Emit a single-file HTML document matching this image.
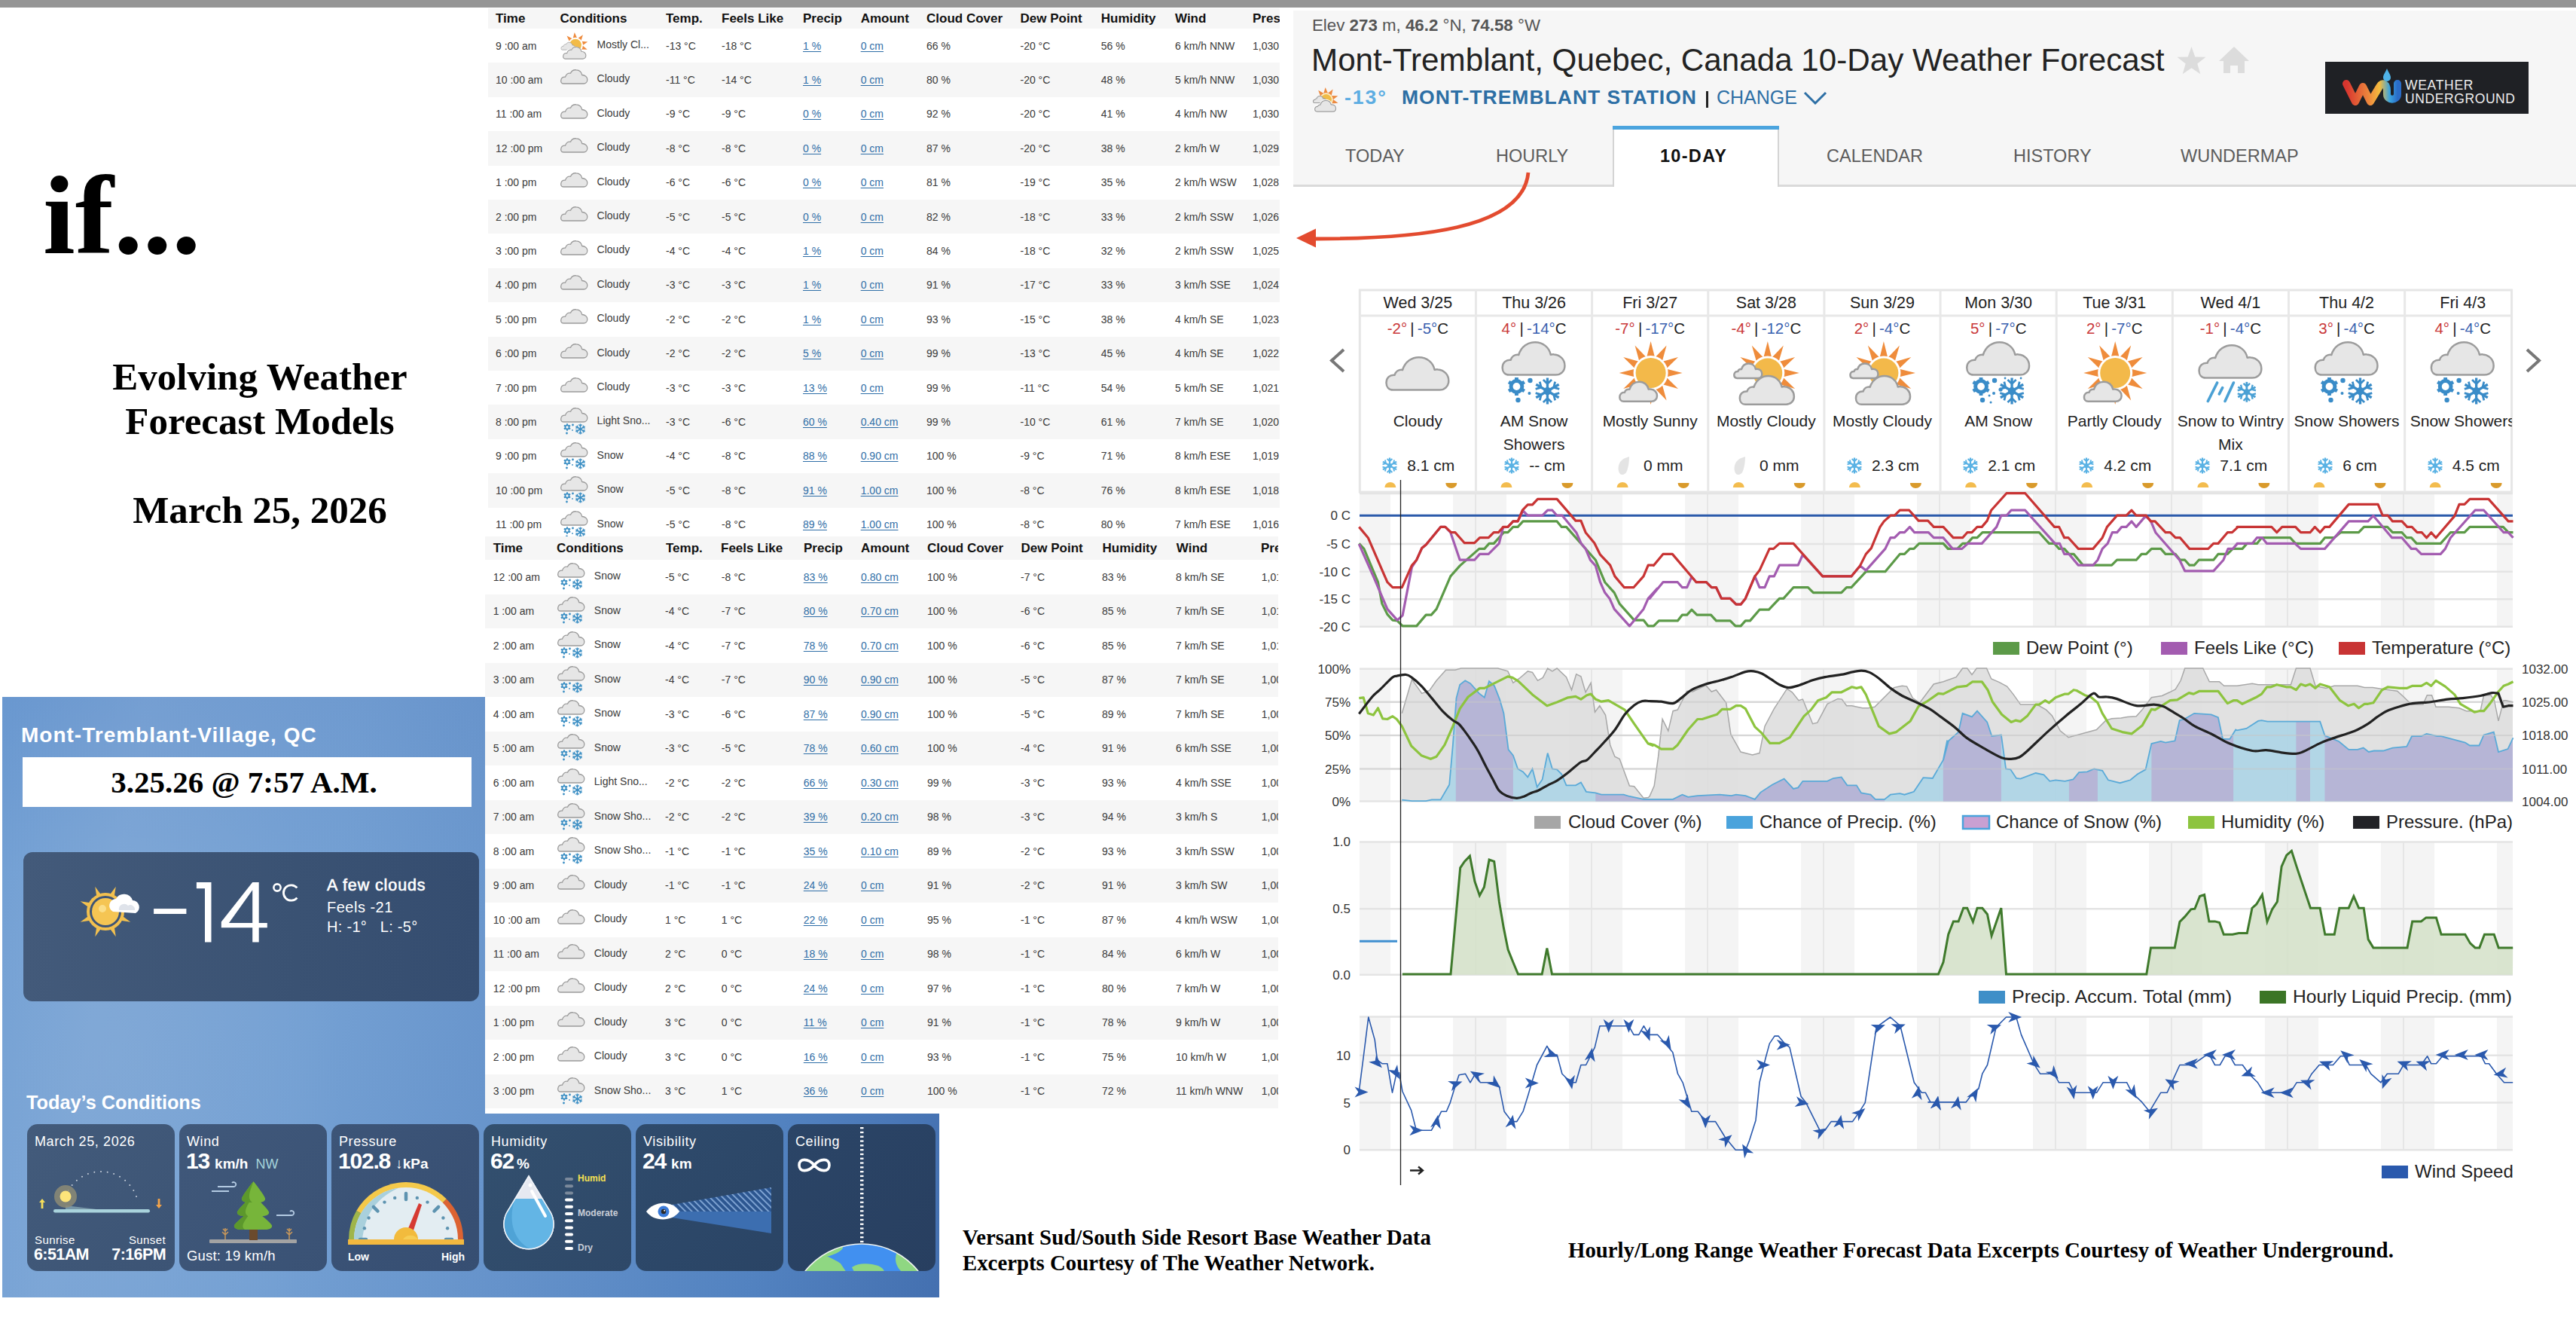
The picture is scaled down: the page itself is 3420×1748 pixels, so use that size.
<!DOCTYPE html><html><head><meta charset="utf-8"><style>

*{margin:0;padding:0;box-sizing:border-box}
html,body{width:3420px;height:1748px;overflow:hidden;background:#fff}
body{position:relative;font-family:"Liberation Sans",sans-serif;color:#222}
.a{position:absolute}
.serif{font-family:"Liberation Serif",serif;font-weight:bold;color:#000}
.nw{white-space:nowrap}

</style></head><body>
<div class="a" style="left:0;top:0;width:3420px;height:10px;background:#959595"></div>
<div class="a serif nw" style="left:57px;top:186px;font-size:148px;line-height:200px;transform:scaleX(1.04);transform-origin:0 0;">if...</div>
<div class="a serif nw" style="left:45px;width:600px;top:471px;font-size:51px;line-height:59px;text-align:center;">Evolving Weather<br>Forecast Models</div>
<div class="a serif nw" style="left:45px;width:600px;top:648px;font-size:51px;line-height:59px;text-align:center;">March 25, 2026</div>
<div class="a serif nw" style="left:1278px;top:1625px;font-size:28.8px;line-height:34px;">Versant Sud/South Side Resort Base Weather Data<br>Excerpts Courtesy of The Weather Network.</div>
<div class="a serif nw" style="left:2082px;top:1642px;font-size:28.8px;line-height:34px;">Hourly/Long Range Weather Forecast Data Excerpts Courtesy of Weather Underground.</div>
<div class="a" style="left:3px;top:925px;width:1244px;height:797px;overflow:hidden;background:linear-gradient(100deg,#6e9dd3 0%,#7ba5d6 14%,#74a0d3 35%,#6592ca 58%,#5282c0 82%,#4470b0 100%)">
<div class="a" style="left:0;top:0;width:1244px;height:797px;background:radial-gradient(ellipse 300px 500px at 150px 480px,rgba(140,175,215,0.35),rgba(140,175,215,0) 100%)"></div>
<div class="a" style="left:0;top:0;width:1244px;height:797px;background:linear-gradient(180deg,rgba(70,110,180,0.12) 0%,rgba(70,110,180,0) 30%)"></div>
</div>
<div class="a nw" style="left:28px;top:958px;color:#fff;font-size:28px;font-weight:bold;line-height:36px;letter-spacing:1px">Mont-Tremblant-Village, QC</div>
<div class="a" style="left:30px;top:1005px;width:596px;height:66px;background:#fff"></div>
<div class="a serif nw" style="left:26px;width:596px;top:1010px;font-size:41px;line-height:56px;text-align:center">3.25.26 @ 7:57 A.M.</div>
<div class="a" style="left:31px;top:1131px;width:605px;height:198px;border-radius:12px;background:linear-gradient(90deg,#435a7a,#3a5273 60%,#354d70)"></div>
<svg class="a" style="left:100px;top:1170px" width="95" height="85" viewBox="0 0 95 85"><path d="M61.4,45.1 L73.3,53.8 L58.8,51.5Z" fill="#f2c04f"/><path d="M51.5,58.8 L53.8,73.3 L45.1,61.4Z" fill="#f2c04f"/><path d="M34.9,61.4 L26.2,73.3 L28.5,58.8Z" fill="#f2c04f"/><path d="M21.2,51.5 L6.7,53.8 L18.6,45.1Z" fill="#f2c04f"/><path d="M18.6,34.9 L6.7,26.2 L21.2,28.5Z" fill="#f2c04f"/><path d="M28.5,21.2 L26.2,6.7 L34.9,18.6Z" fill="#f2c04f"/><path d="M45.1,18.6 L53.8,6.7 L51.5,21.2Z" fill="#f2c04f"/><path d="M58.8,28.5 L73.3,26.2 L61.4,34.9Z" fill="#f2c04f"/><circle cx="40" cy="40" r="25" fill="#f2c04f"/><circle cx="40" cy="40" r="21" fill="#3d5476"/><circle cx="40" cy="40" r="18" fill="#f5c553"/><circle cx="36" cy="36" r="5" fill="#fde8a0" opacity="0.7"/><path d="M50,40 a9,9 0 0 1 4,-17 a12,12 0 0 1 22,2 a9,9 0 0 1 4,17 z" fill="#fff"/><path d="M58,38 a7,7 0 0 1 12,-6 a6,6 0 0 1 9,6 z" fill="#dfe3ea"/></svg>
<svg class="a" style="left:0;top:0" width="420" height="1300" viewBox="0 0 420 1300"><rect x="204.1" y="1206.1" width="43.3" height="6.9" fill="#fff"/><path d="M260.9,1171.1 L280.5,1171.1 L280.5,1250.5 L272,1250.5 L272,1179.2 L260.9,1179.2 Z" fill="#fff"/><path fill-rule="evenodd" d="M335.2,1171 L343.7,1171 L343.7,1224.9 L354.8,1224.9 L354.8,1231.3 L343.7,1231.3 L343.7,1250.5 L335.2,1250.5 L335.2,1231.3 L293.8,1231.3 L293.8,1223.5 Z M335.2,1181.3 L335.2,1224.9 L304,1224.9 Z" fill="#fff"/><circle cx="368" cy="1178" r="4.6" fill="none" stroke="#fff" stroke-width="2.6"/><path d="M394.4,1178.4 A10.2,10.2 0 1 0 394.4,1191.6" fill="none" stroke="#fff" stroke-width="2.8"/></svg>
<div class="a nw" style="left:434px;top:1163px;color:#fff;font-size:21.5px;line-height:24px;font-weight:normal;-webkit-text-stroke:0.6px #fff;letter-spacing:0.9px">A few clouds</div>
<div class="a nw" style="left:434px;top:1192px;color:#fff;font-size:20px;line-height:24px;letter-spacing:0.5px">Feels -21</div>
<div class="a nw" style="left:434px;top:1218px;color:#fff;font-size:20px;line-height:24px;letter-spacing:0.3px">H: -1&deg;&nbsp;&nbsp;&nbsp;L: -5&deg;</div>
<div class="a nw" style="left:35px;top:1447px;color:#fff;font-size:25.3px;font-weight:bold;line-height:32px">Today&rsquo;s Conditions</div>
<div class="a" style="left:36px;top:1492px;width:196px;height:195px;border-radius:14px;background:linear-gradient(135deg,#435b7b,#3c5475);overflow:hidden"><div style="color:#fff;position:absolute;white-space:nowrap;left:10px;top:12.5px;font-size:18px;line-height:20px;letter-spacing:0.6px">March 25, 2026</div><svg style="position:absolute;left:0;top:0" width="196" height="195" viewBox="0 0 196 195"><circle cx="51.0" cy="95.9" r="1" fill="#c8d0dc"/><circle cx="54.7" cy="88.0" r="1" fill="#c8d0dc"/><circle cx="59.7" cy="80.9" r="1" fill="#c8d0dc"/><circle cx="65.9" cy="74.7" r="1" fill="#c8d0dc"/><circle cx="73.0" cy="69.7" r="1" fill="#c8d0dc"/><circle cx="80.9" cy="66.0" r="1" fill="#c8d0dc"/><circle cx="89.3" cy="63.8" r="1" fill="#c8d0dc"/><circle cx="98.0" cy="63.0" r="1" fill="#c8d0dc"/><circle cx="106.7" cy="63.8" r="1" fill="#c8d0dc"/><circle cx="115.1" cy="66.0" r="1" fill="#c8d0dc"/><circle cx="123.0" cy="69.7" r="1" fill="#c8d0dc"/><circle cx="130.1" cy="74.7" r="1" fill="#c8d0dc"/><circle cx="136.3" cy="80.9" r="1" fill="#c8d0dc"/><circle cx="141.3" cy="88.0" r="1" fill="#c8d0dc"/><circle cx="145.0" cy="95.9" r="1" fill="#c8d0dc"/><path d="M51,108 L92,113 L51,113 Z" fill="#8fb0bc" opacity="0.7"/><circle cx="51" cy="96" r="15" fill="#8d8b76" opacity="0.85"/><circle cx="51" cy="96" r="7.5" fill="#fde47a"/><rect x="35" y="113" width="128" height="4.5" rx="2.2" fill="#a9d3dc"/><path d="M20,99 l-4,5 h2.6 v8 h2.8 v-8 h2.6 z" fill="#f6de5a"/><path d="M175,112 l4,-5 h-2.6 v-8 h-2.8 v8 h-2.6 z" fill="#f2a34a" transform="translate(0,0)"/></svg><div style="color:#fff;position:absolute;white-space:nowrap;left:10px;top:145px;font-size:15px;line-height:17px;letter-spacing:0.4px">Sunrise</div><div style="color:#fff;position:absolute;white-space:nowrap;right:12px;top:145px;font-size:15px;line-height:17px;letter-spacing:0.4px">Sunset</div><div style="color:#fff;position:absolute;white-space:nowrap;left:9px;top:162px;font-size:21.5px;line-height:22px;font-weight:bold;letter-spacing:-0.6px">6:51AM</div><div style="color:#fff;position:absolute;white-space:nowrap;right:12px;top:162px;font-size:21.5px;line-height:22px;font-weight:bold;letter-spacing:-0.6px">7:16PM</div></div>
<div class="a" style="left:238px;top:1492px;width:196px;height:195px;border-radius:14px;background:linear-gradient(135deg,#40587a,#3a5275);overflow:hidden"><div style="color:#fff;position:absolute;white-space:nowrap;left:10px;top:12.5px;font-size:18px;line-height:20px;letter-spacing:0.6px">Wind</div><div style="color:#fff;position:absolute;white-space:nowrap;left:9px;top:33px;font-size:30px;line-height:32px;font-weight:bold;letter-spacing:-1.2px">13 <span style="font-size:19px;letter-spacing:0">km/h</span><span style="font-size:18px;font-weight:normal;color:#a5d3da;letter-spacing:0;margin-left:10px">NW</span></div><svg style="position:absolute;left:0;top:0" width="196" height="195" viewBox="0 0 196 195"><path d="M51,83 H72 a3,3 0 1 0 -2,-5" stroke="#b4cbe3" stroke-width="1.8" fill="none"/><path d="M43,89 H66" stroke="#b4cbe3" stroke-width="1.8" fill="none"/><path d="M129,121 H149 a3,3 0 1 0 -2,-5" stroke="#b4cbe3" stroke-width="1.8" fill="none"/><rect x="40" y="153" width="116" height="5" rx="1" fill="#a3a3a3"/><rect x="93" y="139" width="11" height="15" fill="#6b4a2c"/><path d="M98.0,112 C107.0,119.0 120.5,130.2 123,134.4 C124,138 119,140 114,140 L82,140 C77,140 72,138 73,134.4 C75.5,130.2 89.0,119.0 98.0,112 Z" fill="#77b53a"/><path d="M98.0,112 C89.0,119.0 75.5,130.2 73,134.4 C72,138 77,140 82,140 L87,140 C79,134 92.0,123.2 98.0,112 Z" fill="#5c982c"/><path d="M98.0,94 C105.56,101.0 116.9,112.2 119,116.4 C120,120 115,122 110,122 L86,122 C81,122 76,120 77,116.4 C79.1,112.2 90.44,101.0 98.0,94 Z" fill="#77b53a"/><path d="M98.0,94 C90.44,101.0 79.1,112.2 77,116.4 C76,120 81,122 86,122 L91,122 C83,116 92.96,105.2 98.0,94 Z" fill="#5c982c"/><path d="M98.5,76 C104.08,83.0 112.45,94.2 114,98.4 C115,102 110,104 105,104 L92,104 C87,104 82,102 83,98.4 C84.55,94.2 92.92,83.0 98.5,76 Z" fill="#77b53a"/><path d="M98.5,76 C92.92,83.0 84.55,94.2 83,98.4 C82,102 87,104 92,104 L97,104 C89,98 94.78,87.2 98.5,76 Z" fill="#5c982c"/><path d="M61,153 V138 M61,147 l-4,-4 M61,147 l4,-4 M61,142 l-3,-3 M61,142 l3,-3" stroke="#c9985a" stroke-width="1.5" fill="none"/><path d="M146,153 V138 M146,147 l-4,-4 M146,147 l4,-4 M146,142 l-3,-3 M146,142 l3,-3" stroke="#c9985a" stroke-width="1.5" fill="none"/></svg><div style="color:#fff;position:absolute;white-space:nowrap;left:10px;top:165px;font-size:18.5px;line-height:20px;letter-spacing:0.2px">Gust: 19 km/h</div></div>
<div class="a" style="left:440px;top:1492px;width:196px;height:195px;border-radius:14px;background:linear-gradient(135deg,#3d5578,#364e72);overflow:hidden"><div style="color:#fff;position:absolute;white-space:nowrap;left:10px;top:12.5px;font-size:18px;line-height:20px;letter-spacing:0.6px">Pressure</div><div style="color:#fff;position:absolute;white-space:nowrap;left:9px;top:33px;font-size:30px;line-height:32px;font-weight:bold;letter-spacing:-1.2px">102.8 <span style="font-size:19px;letter-spacing:0">&darr;kPa</span></div><svg style="position:absolute;left:0;top:0" width="196" height="195" viewBox="0 0 196 195"><path d="M99,153 L175.0,153.0 A76,76 0 0 0 152.7,99.3 Z" fill="#dc6332"/><path d="M99,153 L152.7,99.3 A76,76 0 0 0 33.2,115.0 Z" fill="#f4c94a"/><path d="M99,153 L33.2,115.0 A76,76 0 0 0 23.0,153.0 Z" fill="#9fb54b"/><path d="M99,153 L168.0,153.0 A69,69 0 0 0 30.0,153.0 Z" fill="#e3edf2"/><path d="M30,153 A69,69 0 0 1 89,84.7 C49,103 44,133 41,153 Z" fill="#a9d0dc"/><line x1="38.0" y1="153.0" x2="46.0" y2="153.0" stroke="#5d93b0" stroke-width="4.5" stroke-linecap="round"/><circle cx="43.9" cy="138.2" r="2.2" fill="#5d93b0"/><circle cx="49.6" cy="124.5" r="2.2" fill="#5d93b0"/><line x1="55.9" y1="109.9" x2="61.5" y2="115.5" stroke="#5d93b0" stroke-width="4.5" stroke-linecap="round"/><circle cx="70.5" cy="103.6" r="2.2" fill="#5d93b0"/><circle cx="84.2" cy="97.9" r="2.2" fill="#5d93b0"/><line x1="99.0" y1="92.0" x2="99.0" y2="100.0" stroke="#5d93b0" stroke-width="4.5" stroke-linecap="round"/><circle cx="113.8" cy="97.9" r="2.2" fill="#5d93b0"/><circle cx="127.5" cy="103.6" r="2.2" fill="#5d93b0"/><line x1="142.1" y1="109.9" x2="136.5" y2="115.5" stroke="#5d93b0" stroke-width="4.5" stroke-linecap="round"/><circle cx="148.4" cy="124.5" r="2.2" fill="#5d93b0"/><circle cx="154.1" cy="138.2" r="2.2" fill="#5d93b0"/><line x1="160.0" y1="153.0" x2="152.0" y2="153.0" stroke="#5d93b0" stroke-width="4.5" stroke-linecap="round"/><path d="M100,143 L116,105 L120,107 L107,147 Z" fill="#d63a32"/><path d="M83,153 A16,16 0 0 1 115,153 Z" fill="#f2bb3d"/><path d="M95,153 A12,12 0 0 1 115,153 Z" fill="#f6cd55"/><rect x="22" y="153" width="154" height="7" fill="#f2b83f"/></svg><div style="color:#fff;position:absolute;white-space:nowrap;left:22px;top:168px;font-size:14px;line-height:17px;font-weight:bold">Low</div><div style="color:#fff;position:absolute;white-space:nowrap;left:146px;top:168px;font-size:14px;line-height:17px;font-weight:bold">High</div></div>
<div class="a" style="left:642px;top:1492px;width:196px;height:195px;border-radius:14px;background:linear-gradient(135deg,#33506f,#2e4868);overflow:hidden"><div style="color:#fff;position:absolute;white-space:nowrap;left:10px;top:12.5px;font-size:18px;line-height:20px;letter-spacing:0.6px">Humidity</div><div style="color:#fff;position:absolute;white-space:nowrap;left:9px;top:33px;font-size:30px;line-height:32px;font-weight:bold;letter-spacing:-1.2px">62<span style="font-size:19px;letter-spacing:0;margin-left:4px">%</span></div><svg style="position:absolute;left:0;top:0" width="196" height="195" viewBox="0 0 196 195"><path d="M60,69 L89,117 A33,33 0 1 1 31,117 Z" fill="#e6e9f1" stroke="#f2f4f8" stroke-width="1.5"/><clipPath id="dropc"><path d="M60,69 L89,117 A33,33 0 1 1 31,117 Z"/></clipPath><g clip-path="url(#dropc)"><rect x="20" y="99" width="90" height="80" fill="#63b5e5"/><path d="M20,99 H42 C32,125 38,158 68,168 L20,175Z" fill="#4fa3d6"/></g><path d="M60,69 L89,117 A33,33 0 1 1 31,117 Z" fill="none" stroke="#eef2f8" stroke-width="1.5"/><line x1="64" y1="89" x2="82" y2="122" stroke="#fff" stroke-width="4" stroke-linecap="round"/><circle cx="62" cy="81" r="2.5" fill="#fff"/><rect x="108" y="71.0" width="11" height="4" rx="2" fill="#7b899b"/><rect x="108" y="80.2" width="11" height="4" rx="2" fill="#7b899b"/><rect x="108" y="89.4" width="11" height="4" rx="2" fill="#7b899b"/><rect x="108" y="98.6" width="11" height="4" rx="2" fill="#ffffff"/><rect x="108" y="107.8" width="11" height="4" rx="2" fill="#ffffff"/><rect x="108" y="117.0" width="11" height="4" rx="2" fill="#ffffff"/><rect x="108" y="126.2" width="11" height="4" rx="2" fill="#ffffff"/><rect x="108" y="135.4" width="11" height="4" rx="2" fill="#ffffff"/><rect x="108" y="144.6" width="11" height="4" rx="2" fill="#ffffff"/><rect x="108" y="153.8" width="11" height="4" rx="2" fill="#ffffff"/><rect x="108" y="163.0" width="11" height="4" rx="2" fill="#ffffff"/></svg><div style="color:#fff;position:absolute;white-space:nowrap;left:125px;top:65px;font-size:12px;line-height:14px;font-weight:bold;color:#f5e152">Humid</div><div style="color:#fff;position:absolute;white-space:nowrap;left:125px;top:111px;font-size:12px;line-height:14px;font-weight:bold;color:#c9ced8">Moderate</div><div style="color:#fff;position:absolute;white-space:nowrap;left:125px;top:157px;font-size:12px;line-height:14px;font-weight:bold;color:#c9ced8">Dry</div></div>
<div class="a" style="left:844px;top:1492px;width:196px;height:195px;border-radius:14px;background:linear-gradient(135deg,#2f4b6c,#2a4465);overflow:hidden"><div style="color:#fff;position:absolute;white-space:nowrap;left:10px;top:12.5px;font-size:18px;line-height:20px;letter-spacing:0.6px">Visibility</div><div style="color:#fff;position:absolute;white-space:nowrap;left:9px;top:33px;font-size:30px;line-height:32px;font-weight:bold;letter-spacing:-1.2px">24 <span style="font-size:19px;letter-spacing:0">km</span></div><svg style="position:absolute;left:0;top:0" width="196" height="195" viewBox="0 0 196 195"><defs><pattern id="hatch" width="6" height="6" patternUnits="userSpaceOnUse" patternTransform="rotate(-45)"><rect width="6" height="6" fill="#2c5690"/><rect width="1.6" height="6" fill="#8fb3e0"/></pattern></defs><path d="M48,107 L180,84 L180,116 L48,116 Z" fill="url(#hatch)"/><path d="M48,116 L180,116 L180,145 L48,124 Z" fill="#3c6eb0"/><path d="M14,116 C24,102 48,100 58,116 C48,130 24,130 14,116 Z" fill="#fff"/><circle cx="37" cy="116" r="7.5" fill="#3a7ad8"/><circle cx="37" cy="116" r="3.2" fill="#2a2a2a"/><circle cx="38.2" cy="114.8" r="1" fill="#fff"/></svg></div>
<div class="a" style="left:1046px;top:1492px;width:196px;height:195px;border-radius:14px;background:linear-gradient(135deg,#2b4567,#283f60);overflow:hidden"><div style="color:#fff;position:absolute;white-space:nowrap;left:10px;top:12.5px;font-size:18px;line-height:20px;letter-spacing:0.6px">Ceiling</div><svg style="position:absolute;left:0;top:0" width="196" height="195" viewBox="0 0 196 195"><path d="M15,54.5 C15,45 27,45 35,54.5 C43,64 55,64 55,54.5 C55,45 43,45 35,54.5 C27,64 15,64 15,54.5 Z" fill="none" stroke="#fff" stroke-width="3.6"/><rect x="96" y="4.0" width="4.5" height="2.3" fill="#fff"/><rect x="96" y="9.8" width="4.5" height="2.3" fill="#fff"/><rect x="96" y="15.6" width="4.5" height="2.3" fill="#fff"/><rect x="96" y="21.4" width="4.5" height="2.3" fill="#fff"/><rect x="96" y="27.2" width="4.5" height="2.3" fill="#fff"/><rect x="96" y="33.0" width="4.5" height="2.3" fill="#fff"/><rect x="96" y="38.8" width="4.5" height="2.3" fill="#fff"/><rect x="96" y="44.6" width="4.5" height="2.3" fill="#fff"/><rect x="96" y="50.4" width="4.5" height="2.3" fill="#fff"/><rect x="96" y="56.2" width="4.5" height="2.3" fill="#fff"/><rect x="96" y="62.0" width="4.5" height="2.3" fill="#fff"/><rect x="96" y="67.8" width="4.5" height="2.3" fill="#fff"/><rect x="96" y="73.6" width="4.5" height="2.3" fill="#fff"/><rect x="96" y="79.4" width="4.5" height="2.3" fill="#fff"/><rect x="96" y="85.2" width="4.5" height="2.3" fill="#fff"/><rect x="96" y="91.0" width="4.5" height="2.3" fill="#fff"/><rect x="96" y="96.8" width="4.5" height="2.3" fill="#fff"/><rect x="96" y="102.6" width="4.5" height="2.3" fill="#fff"/><rect x="96" y="108.4" width="4.5" height="2.3" fill="#fff"/><rect x="96" y="114.2" width="4.5" height="2.3" fill="#fff"/><rect x="96" y="120.0" width="4.5" height="2.3" fill="#fff"/><rect x="96" y="125.8" width="4.5" height="2.3" fill="#fff"/><rect x="96" y="131.6" width="4.5" height="2.3" fill="#fff"/><rect x="96" y="137.4" width="4.5" height="2.3" fill="#fff"/><rect x="96" y="143.2" width="4.5" height="2.3" fill="#fff"/><rect x="96" y="149.0" width="4.5" height="2.3" fill="#fff"/><rect x="96" y="154.8" width="4.5" height="2.3" fill="#fff"/><clipPath id="earthc"><circle cx="98" cy="255" r="96"/></clipPath><g clip-path="url(#earthc)"><rect x="0" y="150" width="196" height="50" fill="#4190f0"/><path d="M20,200 L40,170 C50,175 60,178 70,185 L80,200Z" fill="#8fd782"/><path d="M30,180 C40,165 55,160 65,162 L70,158 C80,165 65,172 55,175 Z" fill="#8fd782"/><path d="M85,190 C95,183 110,185 120,188 C128,192 130,196 125,200 L90,200Z" fill="#8fd782"/><path d="M148,164 C160,170 170,180 180,195 L150,195 C140,185 142,172 148,164Z" fill="#8fd782"/></g><circle cx="98" cy="255" r="96" fill="none" stroke="#f0f4f0" stroke-width="1.5"/></svg></div>
<svg width="0" height="0" style="position:absolute"><defs><symbol id="ic-cloud" viewBox="0 0 37 20"><path d="M4,19 C1,19 0.5,16.5 0.8,14.5 C1.2,11.5 3.5,10 6.5,10.2 C7.5,6.5 10.5,4.5 13.5,5.2 C15,1.5 18.5,0.6 21,0.8 C25,1 28,3.5 28.8,7.5 C32.5,7.5 35.8,10 35.8,13.6 C35.8,17 33.5,19 31,19 Z" fill="#e6e6e6" stroke="#9a9a9a" stroke-width="1.3"/></symbol><symbol id="ic-flake" viewBox="-7 -7 14 14"><g transform="rotate(0 0 0)"><line x1="0" y1="-6.5" x2="0" y2="6.5" stroke="#3c8fc4" stroke-width="1.4"/><path d="M-2,-5.5 L0,-3.8 L2,-5.5 M-2,5.5 L0,3.8 L2,5.5" stroke="#3c8fc4" stroke-width="1.2" fill="none"/></g><g transform="rotate(60 0 0)"><line x1="0" y1="-6.5" x2="0" y2="6.5" stroke="#3c8fc4" stroke-width="1.4"/><path d="M-2,-5.5 L0,-3.8 L2,-5.5 M-2,5.5 L0,3.8 L2,5.5" stroke="#3c8fc4" stroke-width="1.2" fill="none"/></g><g transform="rotate(120 0 0)"><line x1="0" y1="-6.5" x2="0" y2="6.5" stroke="#3c8fc4" stroke-width="1.4"/><path d="M-2,-5.5 L0,-3.8 L2,-5.5 M-2,5.5 L0,3.8 L2,5.5" stroke="#3c8fc4" stroke-width="1.2" fill="none"/></g><circle r="1.6" fill="#3c8fc4"/></symbol><symbol id="ic-star" viewBox="-5 -5 10 10"><circle r="2.6" fill="none" stroke="#3c8fc4" stroke-width="1.8"/><g transform="rotate(0)"><rect x="-0.9" y="-4.8" width="1.8" height="2.4" fill="#3c8fc4"/></g><g transform="rotate(60)"><rect x="-0.9" y="-4.8" width="1.8" height="2.4" fill="#3c8fc4"/></g><g transform="rotate(120)"><rect x="-0.9" y="-4.8" width="1.8" height="2.4" fill="#3c8fc4"/></g><g transform="rotate(180)"><rect x="-0.9" y="-4.8" width="1.8" height="2.4" fill="#3c8fc4"/></g><g transform="rotate(240)"><rect x="-0.9" y="-4.8" width="1.8" height="2.4" fill="#3c8fc4"/></g><g transform="rotate(300)"><rect x="-0.9" y="-4.8" width="1.8" height="2.4" fill="#3c8fc4"/></g></symbol></defs></svg>
<div class="a" style="left:647.5px;top:11px;width:1051.5px;height:701px;overflow:hidden;background:#fff"><div class="a" style="left:0;top:0;width:1051.5px;height:27px;background:#f6f6f6"></div><div class="a nw" style="left:10.5px;top:4.0px;font-size:17px;line-height:20px;font-weight:bold;color:#111">Time</div><div class="a nw" style="left:96.1px;top:4.0px;font-size:17px;line-height:20px;font-weight:bold;color:#111">Conditions</div><div class="a nw" style="left:236.5px;top:4.0px;font-size:17px;line-height:20px;font-weight:bold;color:#111">Temp.</div><div class="a nw" style="left:310.5px;top:4.0px;font-size:17px;line-height:20px;font-weight:bold;color:#111">Feels Like</div><div class="a nw" style="left:418.5px;top:4.0px;font-size:17px;line-height:20px;font-weight:bold;color:#111">Precip</div><div class="a nw" style="left:495.2px;top:4.0px;font-size:17px;line-height:20px;font-weight:bold;color:#111">Amount</div><div class="a nw" style="left:582.5px;top:4.0px;font-size:17px;line-height:20px;font-weight:bold;color:#111">Cloud Cover</div><div class="a nw" style="left:707.0px;top:4.0px;font-size:17px;line-height:20px;font-weight:bold;color:#111">Dew Point</div><div class="a nw" style="left:814.3px;top:4.0px;font-size:17px;line-height:20px;font-weight:bold;color:#111">Humidity</div><div class="a nw" style="left:912.5px;top:4.0px;font-size:17px;line-height:20px;font-weight:bold;color:#111">Wind</div><div class="a nw" style="left:1015.5px;top:4.0px;font-size:17px;line-height:20px;font-weight:bold;color:#111">Pres</div><svg class="a" style="left:96.10000000000002px;top:29px" width="40" height="42" viewBox="0 0 40 42"><path d="M12.1,15.6L8.5,7.5L16.3,11.6Z" fill="#ee8a3c"/><path d="M16.5,11.5L18.8,3.0L22.3,11.1Z" fill="#ee8a3c"/><path d="M22.6,11.2L29.9,6.2L27.4,14.6Z" fill="#ee8a3c"/><path d="M27.5,14.8L36.2,15.5L29.0,20.4Z" fill="#ee8a3c"/><path d="M29.0,20.1L35.7,25.8L26.9,25.6Z" fill="#ee8a3c"/><circle cx="20" cy="19.8" r="10" fill="#fff"/><circle cx="20" cy="19.8" r="8" fill="#f2bb48"/><use href="#ic-cloud" x="0.4" y="15" width="20" height="12.6"/><path d="M4,39 C1,39 2.5,31 6,31 C7,26 11,24 14,25.5 C16,21 22,20.5 25.5,24 C27,24 28,25 28.5,27 C32,27 35,29.5 35,33 C35,37 32.5,39 30,39 Z" fill="#fff"/><use href="#ic-cloud" x="3" y="21.8" width="32" height="17.2"/></svg><div class="a nw" style="left:10.5px;top:41.5px;font-size:14px;line-height:17px;color:#3a3a3a;">9 :00 am</div><div class="a nw" style="left:145.1px;top:40.0px;font-size:14px;line-height:17px;color:#3a3a3a;">Mostly Cl...</div><div class="a nw" style="left:236.5px;top:41.5px;font-size:14px;line-height:17px;color:#3a3a3a;">-13 °C</div><div class="a nw" style="left:310.5px;top:41.5px;font-size:14px;line-height:17px;color:#3a3a3a;">-18 °C</div><div class="a nw" style="left:418.5px;top:41.5px;font-size:14px;line-height:17px;color:#2f6ea7;text-decoration:underline;text-underline-offset:2px;">1 %</div><div class="a nw" style="left:495.2px;top:41.5px;font-size:14px;line-height:17px;color:#2f6ea7;text-decoration:underline;text-underline-offset:2px;">0 cm</div><div class="a nw" style="left:582.5px;top:41.5px;font-size:14px;line-height:17px;color:#3a3a3a;">66 %</div><div class="a nw" style="left:707.0px;top:41.5px;font-size:14px;line-height:17px;color:#3a3a3a;">-20 °C</div><div class="a nw" style="left:814.3px;top:41.5px;font-size:14px;line-height:17px;color:#3a3a3a;">56 %</div><div class="a nw" style="left:912.5px;top:41.5px;font-size:14px;line-height:17px;color:#3a3a3a;">6 km/h NNW</div><div class="a nw" style="left:1015.5px;top:41.5px;font-size:14px;line-height:17px;color:#3a3a3a;">1,030.</div><div class="a" style="left:0;top:72.4px;width:1051.5px;height:45.4px;background:#f6f6f6"></div><svg class="a" style="left:96.10000000000002px;top:81px" width="37" height="20"><use href="#ic-cloud"/></svg><div class="a nw" style="left:10.5px;top:86.9px;font-size:14px;line-height:17px;color:#3a3a3a;">10 :00 am</div><div class="a nw" style="left:145.1px;top:85.4px;font-size:14px;line-height:17px;color:#3a3a3a;">Cloudy</div><div class="a nw" style="left:236.5px;top:86.9px;font-size:14px;line-height:17px;color:#3a3a3a;">-11 °C</div><div class="a nw" style="left:310.5px;top:86.9px;font-size:14px;line-height:17px;color:#3a3a3a;">-14 °C</div><div class="a nw" style="left:418.5px;top:86.9px;font-size:14px;line-height:17px;color:#2f6ea7;text-decoration:underline;text-underline-offset:2px;">1 %</div><div class="a nw" style="left:495.2px;top:86.9px;font-size:14px;line-height:17px;color:#2f6ea7;text-decoration:underline;text-underline-offset:2px;">0 cm</div><div class="a nw" style="left:582.5px;top:86.9px;font-size:14px;line-height:17px;color:#3a3a3a;">80 %</div><div class="a nw" style="left:707.0px;top:86.9px;font-size:14px;line-height:17px;color:#3a3a3a;">-20 °C</div><div class="a nw" style="left:814.3px;top:86.9px;font-size:14px;line-height:17px;color:#3a3a3a;">48 %</div><div class="a nw" style="left:912.5px;top:86.9px;font-size:14px;line-height:17px;color:#3a3a3a;">5 km/h NNW</div><div class="a nw" style="left:1015.5px;top:86.9px;font-size:14px;line-height:17px;color:#3a3a3a;">1,030.</div><svg class="a" style="left:96.10000000000002px;top:127px" width="37" height="20"><use href="#ic-cloud"/></svg><div class="a nw" style="left:10.5px;top:132.3px;font-size:14px;line-height:17px;color:#3a3a3a;">11 :00 am</div><div class="a nw" style="left:145.1px;top:130.8px;font-size:14px;line-height:17px;color:#3a3a3a;">Cloudy</div><div class="a nw" style="left:236.5px;top:132.3px;font-size:14px;line-height:17px;color:#3a3a3a;">-9 °C</div><div class="a nw" style="left:310.5px;top:132.3px;font-size:14px;line-height:17px;color:#3a3a3a;">-9 °C</div><div class="a nw" style="left:418.5px;top:132.3px;font-size:14px;line-height:17px;color:#2f6ea7;text-decoration:underline;text-underline-offset:2px;">0 %</div><div class="a nw" style="left:495.2px;top:132.3px;font-size:14px;line-height:17px;color:#2f6ea7;text-decoration:underline;text-underline-offset:2px;">0 cm</div><div class="a nw" style="left:582.5px;top:132.3px;font-size:14px;line-height:17px;color:#3a3a3a;">92 %</div><div class="a nw" style="left:707.0px;top:132.3px;font-size:14px;line-height:17px;color:#3a3a3a;">-20 °C</div><div class="a nw" style="left:814.3px;top:132.3px;font-size:14px;line-height:17px;color:#3a3a3a;">41 %</div><div class="a nw" style="left:912.5px;top:132.3px;font-size:14px;line-height:17px;color:#3a3a3a;">4 km/h NW</div><div class="a nw" style="left:1015.5px;top:132.3px;font-size:14px;line-height:17px;color:#3a3a3a;">1,030.</div><div class="a" style="left:0;top:163.2px;width:1051.5px;height:45.4px;background:#f6f6f6"></div><svg class="a" style="left:96.10000000000002px;top:172px" width="37" height="20"><use href="#ic-cloud"/></svg><div class="a nw" style="left:10.5px;top:177.7px;font-size:14px;line-height:17px;color:#3a3a3a;">12 :00 pm</div><div class="a nw" style="left:145.1px;top:176.2px;font-size:14px;line-height:17px;color:#3a3a3a;">Cloudy</div><div class="a nw" style="left:236.5px;top:177.7px;font-size:14px;line-height:17px;color:#3a3a3a;">-8 °C</div><div class="a nw" style="left:310.5px;top:177.7px;font-size:14px;line-height:17px;color:#3a3a3a;">-8 °C</div><div class="a nw" style="left:418.5px;top:177.7px;font-size:14px;line-height:17px;color:#2f6ea7;text-decoration:underline;text-underline-offset:2px;">0 %</div><div class="a nw" style="left:495.2px;top:177.7px;font-size:14px;line-height:17px;color:#2f6ea7;text-decoration:underline;text-underline-offset:2px;">0 cm</div><div class="a nw" style="left:582.5px;top:177.7px;font-size:14px;line-height:17px;color:#3a3a3a;">87 %</div><div class="a nw" style="left:707.0px;top:177.7px;font-size:14px;line-height:17px;color:#3a3a3a;">-20 °C</div><div class="a nw" style="left:814.3px;top:177.7px;font-size:14px;line-height:17px;color:#3a3a3a;">38 %</div><div class="a nw" style="left:912.5px;top:177.7px;font-size:14px;line-height:17px;color:#3a3a3a;">2 km/h W</div><div class="a nw" style="left:1015.5px;top:177.7px;font-size:14px;line-height:17px;color:#3a3a3a;">1,029.</div><svg class="a" style="left:96.10000000000002px;top:218px" width="37" height="20"><use href="#ic-cloud"/></svg><div class="a nw" style="left:10.5px;top:223.1px;font-size:14px;line-height:17px;color:#3a3a3a;">1 :00 pm</div><div class="a nw" style="left:145.1px;top:221.6px;font-size:14px;line-height:17px;color:#3a3a3a;">Cloudy</div><div class="a nw" style="left:236.5px;top:223.1px;font-size:14px;line-height:17px;color:#3a3a3a;">-6 °C</div><div class="a nw" style="left:310.5px;top:223.1px;font-size:14px;line-height:17px;color:#3a3a3a;">-6 °C</div><div class="a nw" style="left:418.5px;top:223.1px;font-size:14px;line-height:17px;color:#2f6ea7;text-decoration:underline;text-underline-offset:2px;">0 %</div><div class="a nw" style="left:495.2px;top:223.1px;font-size:14px;line-height:17px;color:#2f6ea7;text-decoration:underline;text-underline-offset:2px;">0 cm</div><div class="a nw" style="left:582.5px;top:223.1px;font-size:14px;line-height:17px;color:#3a3a3a;">81 %</div><div class="a nw" style="left:707.0px;top:223.1px;font-size:14px;line-height:17px;color:#3a3a3a;">-19 °C</div><div class="a nw" style="left:814.3px;top:223.1px;font-size:14px;line-height:17px;color:#3a3a3a;">35 %</div><div class="a nw" style="left:912.5px;top:223.1px;font-size:14px;line-height:17px;color:#3a3a3a;">2 km/h WSW</div><div class="a nw" style="left:1015.5px;top:223.1px;font-size:14px;line-height:17px;color:#3a3a3a;">1,028.</div><div class="a" style="left:0;top:254.0px;width:1051.5px;height:45.4px;background:#f6f6f6"></div><svg class="a" style="left:96.10000000000002px;top:263px" width="37" height="20"><use href="#ic-cloud"/></svg><div class="a nw" style="left:10.5px;top:268.5px;font-size:14px;line-height:17px;color:#3a3a3a;">2 :00 pm</div><div class="a nw" style="left:145.1px;top:267.0px;font-size:14px;line-height:17px;color:#3a3a3a;">Cloudy</div><div class="a nw" style="left:236.5px;top:268.5px;font-size:14px;line-height:17px;color:#3a3a3a;">-5 °C</div><div class="a nw" style="left:310.5px;top:268.5px;font-size:14px;line-height:17px;color:#3a3a3a;">-5 °C</div><div class="a nw" style="left:418.5px;top:268.5px;font-size:14px;line-height:17px;color:#2f6ea7;text-decoration:underline;text-underline-offset:2px;">0 %</div><div class="a nw" style="left:495.2px;top:268.5px;font-size:14px;line-height:17px;color:#2f6ea7;text-decoration:underline;text-underline-offset:2px;">0 cm</div><div class="a nw" style="left:582.5px;top:268.5px;font-size:14px;line-height:17px;color:#3a3a3a;">82 %</div><div class="a nw" style="left:707.0px;top:268.5px;font-size:14px;line-height:17px;color:#3a3a3a;">-18 °C</div><div class="a nw" style="left:814.3px;top:268.5px;font-size:14px;line-height:17px;color:#3a3a3a;">33 %</div><div class="a nw" style="left:912.5px;top:268.5px;font-size:14px;line-height:17px;color:#3a3a3a;">2 km/h SSW</div><div class="a nw" style="left:1015.5px;top:268.5px;font-size:14px;line-height:17px;color:#3a3a3a;">1,026.</div><svg class="a" style="left:96.10000000000002px;top:308px" width="37" height="20"><use href="#ic-cloud"/></svg><div class="a nw" style="left:10.5px;top:313.9px;font-size:14px;line-height:17px;color:#3a3a3a;">3 :00 pm</div><div class="a nw" style="left:145.1px;top:312.4px;font-size:14px;line-height:17px;color:#3a3a3a;">Cloudy</div><div class="a nw" style="left:236.5px;top:313.9px;font-size:14px;line-height:17px;color:#3a3a3a;">-4 °C</div><div class="a nw" style="left:310.5px;top:313.9px;font-size:14px;line-height:17px;color:#3a3a3a;">-4 °C</div><div class="a nw" style="left:418.5px;top:313.9px;font-size:14px;line-height:17px;color:#2f6ea7;text-decoration:underline;text-underline-offset:2px;">1 %</div><div class="a nw" style="left:495.2px;top:313.9px;font-size:14px;line-height:17px;color:#2f6ea7;text-decoration:underline;text-underline-offset:2px;">0 cm</div><div class="a nw" style="left:582.5px;top:313.9px;font-size:14px;line-height:17px;color:#3a3a3a;">84 %</div><div class="a nw" style="left:707.0px;top:313.9px;font-size:14px;line-height:17px;color:#3a3a3a;">-18 °C</div><div class="a nw" style="left:814.3px;top:313.9px;font-size:14px;line-height:17px;color:#3a3a3a;">32 %</div><div class="a nw" style="left:912.5px;top:313.9px;font-size:14px;line-height:17px;color:#3a3a3a;">2 km/h SSW</div><div class="a nw" style="left:1015.5px;top:313.9px;font-size:14px;line-height:17px;color:#3a3a3a;">1,025.</div><div class="a" style="left:0;top:344.8px;width:1051.5px;height:45.4px;background:#f6f6f6"></div><svg class="a" style="left:96.10000000000002px;top:354px" width="37" height="20"><use href="#ic-cloud"/></svg><div class="a nw" style="left:10.5px;top:359.3px;font-size:14px;line-height:17px;color:#3a3a3a;">4 :00 pm</div><div class="a nw" style="left:145.1px;top:357.8px;font-size:14px;line-height:17px;color:#3a3a3a;">Cloudy</div><div class="a nw" style="left:236.5px;top:359.3px;font-size:14px;line-height:17px;color:#3a3a3a;">-3 °C</div><div class="a nw" style="left:310.5px;top:359.3px;font-size:14px;line-height:17px;color:#3a3a3a;">-3 °C</div><div class="a nw" style="left:418.5px;top:359.3px;font-size:14px;line-height:17px;color:#2f6ea7;text-decoration:underline;text-underline-offset:2px;">1 %</div><div class="a nw" style="left:495.2px;top:359.3px;font-size:14px;line-height:17px;color:#2f6ea7;text-decoration:underline;text-underline-offset:2px;">0 cm</div><div class="a nw" style="left:582.5px;top:359.3px;font-size:14px;line-height:17px;color:#3a3a3a;">91 %</div><div class="a nw" style="left:707.0px;top:359.3px;font-size:14px;line-height:17px;color:#3a3a3a;">-17 °C</div><div class="a nw" style="left:814.3px;top:359.3px;font-size:14px;line-height:17px;color:#3a3a3a;">33 %</div><div class="a nw" style="left:912.5px;top:359.3px;font-size:14px;line-height:17px;color:#3a3a3a;">3 km/h SSE</div><div class="a nw" style="left:1015.5px;top:359.3px;font-size:14px;line-height:17px;color:#3a3a3a;">1,024.</div><svg class="a" style="left:96.10000000000002px;top:399px" width="37" height="20"><use href="#ic-cloud"/></svg><div class="a nw" style="left:10.5px;top:404.7px;font-size:14px;line-height:17px;color:#3a3a3a;">5 :00 pm</div><div class="a nw" style="left:145.1px;top:403.2px;font-size:14px;line-height:17px;color:#3a3a3a;">Cloudy</div><div class="a nw" style="left:236.5px;top:404.7px;font-size:14px;line-height:17px;color:#3a3a3a;">-2 °C</div><div class="a nw" style="left:310.5px;top:404.7px;font-size:14px;line-height:17px;color:#3a3a3a;">-2 °C</div><div class="a nw" style="left:418.5px;top:404.7px;font-size:14px;line-height:17px;color:#2f6ea7;text-decoration:underline;text-underline-offset:2px;">1 %</div><div class="a nw" style="left:495.2px;top:404.7px;font-size:14px;line-height:17px;color:#2f6ea7;text-decoration:underline;text-underline-offset:2px;">0 cm</div><div class="a nw" style="left:582.5px;top:404.7px;font-size:14px;line-height:17px;color:#3a3a3a;">93 %</div><div class="a nw" style="left:707.0px;top:404.7px;font-size:14px;line-height:17px;color:#3a3a3a;">-15 °C</div><div class="a nw" style="left:814.3px;top:404.7px;font-size:14px;line-height:17px;color:#3a3a3a;">38 %</div><div class="a nw" style="left:912.5px;top:404.7px;font-size:14px;line-height:17px;color:#3a3a3a;">4 km/h SE</div><div class="a nw" style="left:1015.5px;top:404.7px;font-size:14px;line-height:17px;color:#3a3a3a;">1,023.</div><div class="a" style="left:0;top:435.6px;width:1051.5px;height:45.4px;background:#f6f6f6"></div><svg class="a" style="left:96.10000000000002px;top:445px" width="37" height="20"><use href="#ic-cloud"/></svg><div class="a nw" style="left:10.5px;top:450.1px;font-size:14px;line-height:17px;color:#3a3a3a;">6 :00 pm</div><div class="a nw" style="left:145.1px;top:448.6px;font-size:14px;line-height:17px;color:#3a3a3a;">Cloudy</div><div class="a nw" style="left:236.5px;top:450.1px;font-size:14px;line-height:17px;color:#3a3a3a;">-2 °C</div><div class="a nw" style="left:310.5px;top:450.1px;font-size:14px;line-height:17px;color:#3a3a3a;">-2 °C</div><div class="a nw" style="left:418.5px;top:450.1px;font-size:14px;line-height:17px;color:#2f6ea7;text-decoration:underline;text-underline-offset:2px;">5 %</div><div class="a nw" style="left:495.2px;top:450.1px;font-size:14px;line-height:17px;color:#2f6ea7;text-decoration:underline;text-underline-offset:2px;">0 cm</div><div class="a nw" style="left:582.5px;top:450.1px;font-size:14px;line-height:17px;color:#3a3a3a;">99 %</div><div class="a nw" style="left:707.0px;top:450.1px;font-size:14px;line-height:17px;color:#3a3a3a;">-13 °C</div><div class="a nw" style="left:814.3px;top:450.1px;font-size:14px;line-height:17px;color:#3a3a3a;">45 %</div><div class="a nw" style="left:912.5px;top:450.1px;font-size:14px;line-height:17px;color:#3a3a3a;">4 km/h SE</div><div class="a nw" style="left:1015.5px;top:450.1px;font-size:14px;line-height:17px;color:#3a3a3a;">1,022.</div><svg class="a" style="left:96.10000000000002px;top:490px" width="37" height="20"><use href="#ic-cloud"/></svg><div class="a nw" style="left:10.5px;top:495.5px;font-size:14px;line-height:17px;color:#3a3a3a;">7 :00 pm</div><div class="a nw" style="left:145.1px;top:494.0px;font-size:14px;line-height:17px;color:#3a3a3a;">Cloudy</div><div class="a nw" style="left:236.5px;top:495.5px;font-size:14px;line-height:17px;color:#3a3a3a;">-3 °C</div><div class="a nw" style="left:310.5px;top:495.5px;font-size:14px;line-height:17px;color:#3a3a3a;">-3 °C</div><div class="a nw" style="left:418.5px;top:495.5px;font-size:14px;line-height:17px;color:#2f6ea7;text-decoration:underline;text-underline-offset:2px;">13 %</div><div class="a nw" style="left:495.2px;top:495.5px;font-size:14px;line-height:17px;color:#2f6ea7;text-decoration:underline;text-underline-offset:2px;">0 cm</div><div class="a nw" style="left:582.5px;top:495.5px;font-size:14px;line-height:17px;color:#3a3a3a;">99 %</div><div class="a nw" style="left:707.0px;top:495.5px;font-size:14px;line-height:17px;color:#3a3a3a;">-11 °C</div><div class="a nw" style="left:814.3px;top:495.5px;font-size:14px;line-height:17px;color:#3a3a3a;">54 %</div><div class="a nw" style="left:912.5px;top:495.5px;font-size:14px;line-height:17px;color:#3a3a3a;">5 km/h SE</div><div class="a nw" style="left:1015.5px;top:495.5px;font-size:14px;line-height:17px;color:#3a3a3a;">1,021.</div><div class="a" style="left:0;top:526.4px;width:1051.5px;height:45.4px;background:#f6f6f6"></div><svg class="a" style="left:96.10000000000002px;top:530px" width="38" height="40" viewBox="0 0 38 40"><use href="#ic-cloud" x="0" y="0" width="37" height="20"/><use href="#ic-star" x="4" y="21" width="10" height="10"/><use href="#ic-flake" x="19" y="21" width="15" height="15"/><circle cx="16.5" cy="23" r="1.4" fill="#3c8fc4"/><circle cx="16" cy="30" r="0.9" fill="#3c8fc4"/><circle cx="8.5" cy="34" r="1.4" fill="#3c8fc4"/></svg><div class="a nw" style="left:10.5px;top:540.9px;font-size:14px;line-height:17px;color:#3a3a3a;">8 :00 pm</div><div class="a nw" style="left:145.1px;top:539.4px;font-size:14px;line-height:17px;color:#3a3a3a;">Light Sno...</div><div class="a nw" style="left:236.5px;top:540.9px;font-size:14px;line-height:17px;color:#3a3a3a;">-3 °C</div><div class="a nw" style="left:310.5px;top:540.9px;font-size:14px;line-height:17px;color:#3a3a3a;">-6 °C</div><div class="a nw" style="left:418.5px;top:540.9px;font-size:14px;line-height:17px;color:#2f6ea7;text-decoration:underline;text-underline-offset:2px;">60 %</div><div class="a nw" style="left:495.2px;top:540.9px;font-size:14px;line-height:17px;color:#2f6ea7;text-decoration:underline;text-underline-offset:2px;">0.40 cm</div><div class="a nw" style="left:582.5px;top:540.9px;font-size:14px;line-height:17px;color:#3a3a3a;">99 %</div><div class="a nw" style="left:707.0px;top:540.9px;font-size:14px;line-height:17px;color:#3a3a3a;">-10 °C</div><div class="a nw" style="left:814.3px;top:540.9px;font-size:14px;line-height:17px;color:#3a3a3a;">61 %</div><div class="a nw" style="left:912.5px;top:540.9px;font-size:14px;line-height:17px;color:#3a3a3a;">7 km/h SE</div><div class="a nw" style="left:1015.5px;top:540.9px;font-size:14px;line-height:17px;color:#3a3a3a;">1,020.</div><svg class="a" style="left:96.10000000000002px;top:576px" width="38" height="40" viewBox="0 0 38 40"><use href="#ic-cloud" x="0" y="0" width="37" height="20"/><use href="#ic-star" x="4" y="21" width="10" height="10"/><use href="#ic-flake" x="19" y="21" width="15" height="15"/><circle cx="16.5" cy="23" r="1.4" fill="#3c8fc4"/><circle cx="16" cy="30" r="0.9" fill="#3c8fc4"/><circle cx="8.5" cy="34" r="1.4" fill="#3c8fc4"/></svg><div class="a nw" style="left:10.5px;top:586.3px;font-size:14px;line-height:17px;color:#3a3a3a;">9 :00 pm</div><div class="a nw" style="left:145.1px;top:584.8px;font-size:14px;line-height:17px;color:#3a3a3a;">Snow</div><div class="a nw" style="left:236.5px;top:586.3px;font-size:14px;line-height:17px;color:#3a3a3a;">-4 °C</div><div class="a nw" style="left:310.5px;top:586.3px;font-size:14px;line-height:17px;color:#3a3a3a;">-8 °C</div><div class="a nw" style="left:418.5px;top:586.3px;font-size:14px;line-height:17px;color:#2f6ea7;text-decoration:underline;text-underline-offset:2px;">88 %</div><div class="a nw" style="left:495.2px;top:586.3px;font-size:14px;line-height:17px;color:#2f6ea7;text-decoration:underline;text-underline-offset:2px;">0.90 cm</div><div class="a nw" style="left:582.5px;top:586.3px;font-size:14px;line-height:17px;color:#3a3a3a;">100 %</div><div class="a nw" style="left:707.0px;top:586.3px;font-size:14px;line-height:17px;color:#3a3a3a;">-9 °C</div><div class="a nw" style="left:814.3px;top:586.3px;font-size:14px;line-height:17px;color:#3a3a3a;">71 %</div><div class="a nw" style="left:912.5px;top:586.3px;font-size:14px;line-height:17px;color:#3a3a3a;">8 km/h ESE</div><div class="a nw" style="left:1015.5px;top:586.3px;font-size:14px;line-height:17px;color:#3a3a3a;">1,019.</div><div class="a" style="left:0;top:617.2px;width:1051.5px;height:45.4px;background:#f6f6f6"></div><svg class="a" style="left:96.10000000000002px;top:621px" width="38" height="40" viewBox="0 0 38 40"><use href="#ic-cloud" x="0" y="0" width="37" height="20"/><use href="#ic-star" x="4" y="21" width="10" height="10"/><use href="#ic-flake" x="19" y="21" width="15" height="15"/><circle cx="16.5" cy="23" r="1.4" fill="#3c8fc4"/><circle cx="16" cy="30" r="0.9" fill="#3c8fc4"/><circle cx="8.5" cy="34" r="1.4" fill="#3c8fc4"/></svg><div class="a nw" style="left:10.5px;top:631.7px;font-size:14px;line-height:17px;color:#3a3a3a;">10 :00 pm</div><div class="a nw" style="left:145.1px;top:630.2px;font-size:14px;line-height:17px;color:#3a3a3a;">Snow</div><div class="a nw" style="left:236.5px;top:631.7px;font-size:14px;line-height:17px;color:#3a3a3a;">-5 °C</div><div class="a nw" style="left:310.5px;top:631.7px;font-size:14px;line-height:17px;color:#3a3a3a;">-8 °C</div><div class="a nw" style="left:418.5px;top:631.7px;font-size:14px;line-height:17px;color:#2f6ea7;text-decoration:underline;text-underline-offset:2px;">91 %</div><div class="a nw" style="left:495.2px;top:631.7px;font-size:14px;line-height:17px;color:#2f6ea7;text-decoration:underline;text-underline-offset:2px;">1.00 cm</div><div class="a nw" style="left:582.5px;top:631.7px;font-size:14px;line-height:17px;color:#3a3a3a;">100 %</div><div class="a nw" style="left:707.0px;top:631.7px;font-size:14px;line-height:17px;color:#3a3a3a;">-8 °C</div><div class="a nw" style="left:814.3px;top:631.7px;font-size:14px;line-height:17px;color:#3a3a3a;">76 %</div><div class="a nw" style="left:912.5px;top:631.7px;font-size:14px;line-height:17px;color:#3a3a3a;">8 km/h ESE</div><div class="a nw" style="left:1015.5px;top:631.7px;font-size:14px;line-height:17px;color:#3a3a3a;">1,018.</div><svg class="a" style="left:96.10000000000002px;top:667px" width="38" height="40" viewBox="0 0 38 40"><use href="#ic-cloud" x="0" y="0" width="37" height="20"/><use href="#ic-star" x="4" y="21" width="10" height="10"/><use href="#ic-flake" x="19" y="21" width="15" height="15"/><circle cx="16.5" cy="23" r="1.4" fill="#3c8fc4"/><circle cx="16" cy="30" r="0.9" fill="#3c8fc4"/><circle cx="8.5" cy="34" r="1.4" fill="#3c8fc4"/></svg><div class="a nw" style="left:10.5px;top:677.1px;font-size:14px;line-height:17px;color:#3a3a3a;">11 :00 pm</div><div class="a nw" style="left:145.1px;top:675.6px;font-size:14px;line-height:17px;color:#3a3a3a;">Snow</div><div class="a nw" style="left:236.5px;top:677.1px;font-size:14px;line-height:17px;color:#3a3a3a;">-5 °C</div><div class="a nw" style="left:310.5px;top:677.1px;font-size:14px;line-height:17px;color:#3a3a3a;">-8 °C</div><div class="a nw" style="left:418.5px;top:677.1px;font-size:14px;line-height:17px;color:#2f6ea7;text-decoration:underline;text-underline-offset:2px;">89 %</div><div class="a nw" style="left:495.2px;top:677.1px;font-size:14px;line-height:17px;color:#2f6ea7;text-decoration:underline;text-underline-offset:2px;">1.00 cm</div><div class="a nw" style="left:582.5px;top:677.1px;font-size:14px;line-height:17px;color:#3a3a3a;">100 %</div><div class="a nw" style="left:707.0px;top:677.1px;font-size:14px;line-height:17px;color:#3a3a3a;">-8 °C</div><div class="a nw" style="left:814.3px;top:677.1px;font-size:14px;line-height:17px;color:#3a3a3a;">80 %</div><div class="a nw" style="left:912.5px;top:677.1px;font-size:14px;line-height:17px;color:#3a3a3a;">7 km/h ESE</div><div class="a nw" style="left:1015.5px;top:677.1px;font-size:14px;line-height:17px;color:#3a3a3a;">1,016.</div></div>
<div class="a" style="left:644px;top:712px;width:1053px;height:766px;overflow:hidden;background:#fff"><div class="a" style="left:0;top:0;width:1053px;height:31px;background:#f6f6f6"></div><div class="a nw" style="left:10.7px;top:6.0px;font-size:17px;line-height:20px;font-weight:bold;color:#111">Time</div><div class="a nw" style="left:95.0px;top:6.0px;font-size:17px;line-height:20px;font-weight:bold;color:#111">Conditions</div><div class="a nw" style="left:240.0px;top:6.0px;font-size:17px;line-height:20px;font-weight:bold;color:#111">Temp.</div><div class="a nw" style="left:313.0px;top:6.0px;font-size:17px;line-height:20px;font-weight:bold;color:#111">Feels Like</div><div class="a nw" style="left:423.0px;top:6.0px;font-size:17px;line-height:20px;font-weight:bold;color:#111">Precip</div><div class="a nw" style="left:499.0px;top:6.0px;font-size:17px;line-height:20px;font-weight:bold;color:#111">Amount</div><div class="a nw" style="left:587.0px;top:6.0px;font-size:17px;line-height:20px;font-weight:bold;color:#111">Cloud Cover</div><div class="a nw" style="left:711.6px;top:6.0px;font-size:17px;line-height:20px;font-weight:bold;color:#111">Dew Point</div><div class="a nw" style="left:819.5px;top:6.0px;font-size:17px;line-height:20px;font-weight:bold;color:#111">Humidity</div><div class="a nw" style="left:917.8px;top:6.0px;font-size:17px;line-height:20px;font-weight:bold;color:#111">Wind</div><div class="a nw" style="left:1030.0px;top:6.0px;font-size:17px;line-height:20px;font-weight:bold;color:#111">Pres</div><svg class="a" style="left:95.79999999999995px;top:35px" width="38" height="40" viewBox="0 0 38 40"><use href="#ic-cloud" x="0" y="0" width="37" height="20"/><use href="#ic-star" x="4" y="21" width="10" height="10"/><use href="#ic-flake" x="19" y="21" width="15" height="15"/><circle cx="16.5" cy="23" r="1.4" fill="#3c8fc4"/><circle cx="16" cy="30" r="0.9" fill="#3c8fc4"/><circle cx="8.5" cy="34" r="1.4" fill="#3c8fc4"/></svg><div class="a nw" style="left:10.7px;top:45.5px;font-size:14px;line-height:17px;color:#3a3a3a;">12 :00 am</div><div class="a nw" style="left:144.8px;top:44.0px;font-size:14px;line-height:17px;color:#3a3a3a;">Snow</div><div class="a nw" style="left:239.0px;top:45.5px;font-size:14px;line-height:17px;color:#3a3a3a;">-5 °C</div><div class="a nw" style="left:313.8px;top:45.5px;font-size:14px;line-height:17px;color:#3a3a3a;">-8 °C</div><div class="a nw" style="left:422.8px;top:45.5px;font-size:14px;line-height:17px;color:#2f6ea7;text-decoration:underline;text-underline-offset:2px;">83 %</div><div class="a nw" style="left:499.0px;top:45.5px;font-size:14px;line-height:17px;color:#2f6ea7;text-decoration:underline;text-underline-offset:2px;">0.80 cm</div><div class="a nw" style="left:587.0px;top:45.5px;font-size:14px;line-height:17px;color:#3a3a3a;">100 %</div><div class="a nw" style="left:711.0px;top:45.5px;font-size:14px;line-height:17px;color:#3a3a3a;">-7 °C</div><div class="a nw" style="left:819.0px;top:45.5px;font-size:14px;line-height:17px;color:#3a3a3a;">83 %</div><div class="a nw" style="left:917.0px;top:45.5px;font-size:14px;line-height:17px;color:#3a3a3a;">8 km/h SE</div><div class="a nw" style="left:1030.8px;top:45.5px;font-size:14px;line-height:17px;color:#3a3a3a;">1,01</div><div class="a" style="left:0;top:76.5px;width:1053px;height:45.5px;background:#f6f6f6"></div><svg class="a" style="left:95.79999999999995px;top:80px" width="38" height="40" viewBox="0 0 38 40"><use href="#ic-cloud" x="0" y="0" width="37" height="20"/><use href="#ic-star" x="4" y="21" width="10" height="10"/><use href="#ic-flake" x="19" y="21" width="15" height="15"/><circle cx="16.5" cy="23" r="1.4" fill="#3c8fc4"/><circle cx="16" cy="30" r="0.9" fill="#3c8fc4"/><circle cx="8.5" cy="34" r="1.4" fill="#3c8fc4"/></svg><div class="a nw" style="left:10.7px;top:91.0px;font-size:14px;line-height:17px;color:#3a3a3a;">1 :00 am</div><div class="a nw" style="left:144.8px;top:89.5px;font-size:14px;line-height:17px;color:#3a3a3a;">Snow</div><div class="a nw" style="left:239.0px;top:91.0px;font-size:14px;line-height:17px;color:#3a3a3a;">-4 °C</div><div class="a nw" style="left:313.8px;top:91.0px;font-size:14px;line-height:17px;color:#3a3a3a;">-7 °C</div><div class="a nw" style="left:422.8px;top:91.0px;font-size:14px;line-height:17px;color:#2f6ea7;text-decoration:underline;text-underline-offset:2px;">80 %</div><div class="a nw" style="left:499.0px;top:91.0px;font-size:14px;line-height:17px;color:#2f6ea7;text-decoration:underline;text-underline-offset:2px;">0.70 cm</div><div class="a nw" style="left:587.0px;top:91.0px;font-size:14px;line-height:17px;color:#3a3a3a;">100 %</div><div class="a nw" style="left:711.0px;top:91.0px;font-size:14px;line-height:17px;color:#3a3a3a;">-6 °C</div><div class="a nw" style="left:819.0px;top:91.0px;font-size:14px;line-height:17px;color:#3a3a3a;">85 %</div><div class="a nw" style="left:917.0px;top:91.0px;font-size:14px;line-height:17px;color:#3a3a3a;">7 km/h SE</div><div class="a nw" style="left:1030.8px;top:91.0px;font-size:14px;line-height:17px;color:#3a3a3a;">1,01</div><svg class="a" style="left:95.79999999999995px;top:126px" width="38" height="40" viewBox="0 0 38 40"><use href="#ic-cloud" x="0" y="0" width="37" height="20"/><use href="#ic-star" x="4" y="21" width="10" height="10"/><use href="#ic-flake" x="19" y="21" width="15" height="15"/><circle cx="16.5" cy="23" r="1.4" fill="#3c8fc4"/><circle cx="16" cy="30" r="0.9" fill="#3c8fc4"/><circle cx="8.5" cy="34" r="1.4" fill="#3c8fc4"/></svg><div class="a nw" style="left:10.7px;top:136.5px;font-size:14px;line-height:17px;color:#3a3a3a;">2 :00 am</div><div class="a nw" style="left:144.8px;top:135.0px;font-size:14px;line-height:17px;color:#3a3a3a;">Snow</div><div class="a nw" style="left:239.0px;top:136.5px;font-size:14px;line-height:17px;color:#3a3a3a;">-4 °C</div><div class="a nw" style="left:313.8px;top:136.5px;font-size:14px;line-height:17px;color:#3a3a3a;">-7 °C</div><div class="a nw" style="left:422.8px;top:136.5px;font-size:14px;line-height:17px;color:#2f6ea7;text-decoration:underline;text-underline-offset:2px;">78 %</div><div class="a nw" style="left:499.0px;top:136.5px;font-size:14px;line-height:17px;color:#2f6ea7;text-decoration:underline;text-underline-offset:2px;">0.70 cm</div><div class="a nw" style="left:587.0px;top:136.5px;font-size:14px;line-height:17px;color:#3a3a3a;">100 %</div><div class="a nw" style="left:711.0px;top:136.5px;font-size:14px;line-height:17px;color:#3a3a3a;">-6 °C</div><div class="a nw" style="left:819.0px;top:136.5px;font-size:14px;line-height:17px;color:#3a3a3a;">85 %</div><div class="a nw" style="left:917.0px;top:136.5px;font-size:14px;line-height:17px;color:#3a3a3a;">7 km/h SE</div><div class="a nw" style="left:1030.8px;top:136.5px;font-size:14px;line-height:17px;color:#3a3a3a;">1,01</div><div class="a" style="left:0;top:167.5px;width:1053px;height:45.5px;background:#f6f6f6"></div><svg class="a" style="left:95.79999999999995px;top:172px" width="38" height="40" viewBox="0 0 38 40"><use href="#ic-cloud" x="0" y="0" width="37" height="20"/><use href="#ic-star" x="4" y="21" width="10" height="10"/><use href="#ic-flake" x="19" y="21" width="15" height="15"/><circle cx="16.5" cy="23" r="1.4" fill="#3c8fc4"/><circle cx="16" cy="30" r="0.9" fill="#3c8fc4"/><circle cx="8.5" cy="34" r="1.4" fill="#3c8fc4"/></svg><div class="a nw" style="left:10.7px;top:182.0px;font-size:14px;line-height:17px;color:#3a3a3a;">3 :00 am</div><div class="a nw" style="left:144.8px;top:180.5px;font-size:14px;line-height:17px;color:#3a3a3a;">Snow</div><div class="a nw" style="left:239.0px;top:182.0px;font-size:14px;line-height:17px;color:#3a3a3a;">-4 °C</div><div class="a nw" style="left:313.8px;top:182.0px;font-size:14px;line-height:17px;color:#3a3a3a;">-7 °C</div><div class="a nw" style="left:422.8px;top:182.0px;font-size:14px;line-height:17px;color:#2f6ea7;text-decoration:underline;text-underline-offset:2px;">90 %</div><div class="a nw" style="left:499.0px;top:182.0px;font-size:14px;line-height:17px;color:#2f6ea7;text-decoration:underline;text-underline-offset:2px;">0.90 cm</div><div class="a nw" style="left:587.0px;top:182.0px;font-size:14px;line-height:17px;color:#3a3a3a;">100 %</div><div class="a nw" style="left:711.0px;top:182.0px;font-size:14px;line-height:17px;color:#3a3a3a;">-5 °C</div><div class="a nw" style="left:819.0px;top:182.0px;font-size:14px;line-height:17px;color:#3a3a3a;">87 %</div><div class="a nw" style="left:917.0px;top:182.0px;font-size:14px;line-height:17px;color:#3a3a3a;">7 km/h SE</div><div class="a nw" style="left:1030.8px;top:182.0px;font-size:14px;line-height:17px;color:#3a3a3a;">1,00</div><svg class="a" style="left:95.79999999999995px;top:217px" width="38" height="40" viewBox="0 0 38 40"><use href="#ic-cloud" x="0" y="0" width="37" height="20"/><use href="#ic-star" x="4" y="21" width="10" height="10"/><use href="#ic-flake" x="19" y="21" width="15" height="15"/><circle cx="16.5" cy="23" r="1.4" fill="#3c8fc4"/><circle cx="16" cy="30" r="0.9" fill="#3c8fc4"/><circle cx="8.5" cy="34" r="1.4" fill="#3c8fc4"/></svg><div class="a nw" style="left:10.7px;top:227.5px;font-size:14px;line-height:17px;color:#3a3a3a;">4 :00 am</div><div class="a nw" style="left:144.8px;top:226.0px;font-size:14px;line-height:17px;color:#3a3a3a;">Snow</div><div class="a nw" style="left:239.0px;top:227.5px;font-size:14px;line-height:17px;color:#3a3a3a;">-3 °C</div><div class="a nw" style="left:313.8px;top:227.5px;font-size:14px;line-height:17px;color:#3a3a3a;">-6 °C</div><div class="a nw" style="left:422.8px;top:227.5px;font-size:14px;line-height:17px;color:#2f6ea7;text-decoration:underline;text-underline-offset:2px;">87 %</div><div class="a nw" style="left:499.0px;top:227.5px;font-size:14px;line-height:17px;color:#2f6ea7;text-decoration:underline;text-underline-offset:2px;">0.90 cm</div><div class="a nw" style="left:587.0px;top:227.5px;font-size:14px;line-height:17px;color:#3a3a3a;">100 %</div><div class="a nw" style="left:711.0px;top:227.5px;font-size:14px;line-height:17px;color:#3a3a3a;">-5 °C</div><div class="a nw" style="left:819.0px;top:227.5px;font-size:14px;line-height:17px;color:#3a3a3a;">89 %</div><div class="a nw" style="left:917.0px;top:227.5px;font-size:14px;line-height:17px;color:#3a3a3a;">7 km/h SE</div><div class="a nw" style="left:1030.8px;top:227.5px;font-size:14px;line-height:17px;color:#3a3a3a;">1,00</div><div class="a" style="left:0;top:258.5px;width:1053px;height:45.5px;background:#f6f6f6"></div><svg class="a" style="left:95.79999999999995px;top:262px" width="38" height="40" viewBox="0 0 38 40"><use href="#ic-cloud" x="0" y="0" width="37" height="20"/><use href="#ic-star" x="4" y="21" width="10" height="10"/><use href="#ic-flake" x="19" y="21" width="15" height="15"/><circle cx="16.5" cy="23" r="1.4" fill="#3c8fc4"/><circle cx="16" cy="30" r="0.9" fill="#3c8fc4"/><circle cx="8.5" cy="34" r="1.4" fill="#3c8fc4"/></svg><div class="a nw" style="left:10.7px;top:273.0px;font-size:14px;line-height:17px;color:#3a3a3a;">5 :00 am</div><div class="a nw" style="left:144.8px;top:271.5px;font-size:14px;line-height:17px;color:#3a3a3a;">Snow</div><div class="a nw" style="left:239.0px;top:273.0px;font-size:14px;line-height:17px;color:#3a3a3a;">-3 °C</div><div class="a nw" style="left:313.8px;top:273.0px;font-size:14px;line-height:17px;color:#3a3a3a;">-5 °C</div><div class="a nw" style="left:422.8px;top:273.0px;font-size:14px;line-height:17px;color:#2f6ea7;text-decoration:underline;text-underline-offset:2px;">78 %</div><div class="a nw" style="left:499.0px;top:273.0px;font-size:14px;line-height:17px;color:#2f6ea7;text-decoration:underline;text-underline-offset:2px;">0.60 cm</div><div class="a nw" style="left:587.0px;top:273.0px;font-size:14px;line-height:17px;color:#3a3a3a;">100 %</div><div class="a nw" style="left:711.0px;top:273.0px;font-size:14px;line-height:17px;color:#3a3a3a;">-4 °C</div><div class="a nw" style="left:819.0px;top:273.0px;font-size:14px;line-height:17px;color:#3a3a3a;">91 %</div><div class="a nw" style="left:917.0px;top:273.0px;font-size:14px;line-height:17px;color:#3a3a3a;">6 km/h SSE</div><div class="a nw" style="left:1030.8px;top:273.0px;font-size:14px;line-height:17px;color:#3a3a3a;">1,00</div><svg class="a" style="left:95.79999999999995px;top:308px" width="38" height="40" viewBox="0 0 38 40"><use href="#ic-cloud" x="0" y="0" width="37" height="20"/><use href="#ic-star" x="4" y="21" width="10" height="10"/><use href="#ic-flake" x="19" y="21" width="15" height="15"/><circle cx="16.5" cy="23" r="1.4" fill="#3c8fc4"/><circle cx="16" cy="30" r="0.9" fill="#3c8fc4"/><circle cx="8.5" cy="34" r="1.4" fill="#3c8fc4"/></svg><div class="a nw" style="left:10.7px;top:318.5px;font-size:14px;line-height:17px;color:#3a3a3a;">6 :00 am</div><div class="a nw" style="left:144.8px;top:317.0px;font-size:14px;line-height:17px;color:#3a3a3a;">Light Sno...</div><div class="a nw" style="left:239.0px;top:318.5px;font-size:14px;line-height:17px;color:#3a3a3a;">-2 °C</div><div class="a nw" style="left:313.8px;top:318.5px;font-size:14px;line-height:17px;color:#3a3a3a;">-2 °C</div><div class="a nw" style="left:422.8px;top:318.5px;font-size:14px;line-height:17px;color:#2f6ea7;text-decoration:underline;text-underline-offset:2px;">66 %</div><div class="a nw" style="left:499.0px;top:318.5px;font-size:14px;line-height:17px;color:#2f6ea7;text-decoration:underline;text-underline-offset:2px;">0.30 cm</div><div class="a nw" style="left:587.0px;top:318.5px;font-size:14px;line-height:17px;color:#3a3a3a;">99 %</div><div class="a nw" style="left:711.0px;top:318.5px;font-size:14px;line-height:17px;color:#3a3a3a;">-3 °C</div><div class="a nw" style="left:819.0px;top:318.5px;font-size:14px;line-height:17px;color:#3a3a3a;">93 %</div><div class="a nw" style="left:917.0px;top:318.5px;font-size:14px;line-height:17px;color:#3a3a3a;">4 km/h SSE</div><div class="a nw" style="left:1030.8px;top:318.5px;font-size:14px;line-height:17px;color:#3a3a3a;">1,00</div><div class="a" style="left:0;top:349.5px;width:1053px;height:45.5px;background:#f6f6f6"></div><svg class="a" style="left:95.79999999999995px;top:354px" width="38" height="40" viewBox="0 0 38 40"><use href="#ic-cloud" x="0" y="0" width="37" height="20"/><use href="#ic-star" x="4" y="21" width="10" height="10"/><use href="#ic-flake" x="19" y="21" width="15" height="15"/><circle cx="16.5" cy="23" r="1.4" fill="#3c8fc4"/><circle cx="16" cy="30" r="0.9" fill="#3c8fc4"/><circle cx="8.5" cy="34" r="1.4" fill="#3c8fc4"/></svg><div class="a nw" style="left:10.7px;top:364.0px;font-size:14px;line-height:17px;color:#3a3a3a;">7 :00 am</div><div class="a nw" style="left:144.8px;top:362.5px;font-size:14px;line-height:17px;color:#3a3a3a;">Snow Sho...</div><div class="a nw" style="left:239.0px;top:364.0px;font-size:14px;line-height:17px;color:#3a3a3a;">-2 °C</div><div class="a nw" style="left:313.8px;top:364.0px;font-size:14px;line-height:17px;color:#3a3a3a;">-2 °C</div><div class="a nw" style="left:422.8px;top:364.0px;font-size:14px;line-height:17px;color:#2f6ea7;text-decoration:underline;text-underline-offset:2px;">39 %</div><div class="a nw" style="left:499.0px;top:364.0px;font-size:14px;line-height:17px;color:#2f6ea7;text-decoration:underline;text-underline-offset:2px;">0.20 cm</div><div class="a nw" style="left:587.0px;top:364.0px;font-size:14px;line-height:17px;color:#3a3a3a;">98 %</div><div class="a nw" style="left:711.0px;top:364.0px;font-size:14px;line-height:17px;color:#3a3a3a;">-3 °C</div><div class="a nw" style="left:819.0px;top:364.0px;font-size:14px;line-height:17px;color:#3a3a3a;">94 %</div><div class="a nw" style="left:917.0px;top:364.0px;font-size:14px;line-height:17px;color:#3a3a3a;">3 km/h S</div><div class="a nw" style="left:1030.8px;top:364.0px;font-size:14px;line-height:17px;color:#3a3a3a;">1,00</div><svg class="a" style="left:95.79999999999995px;top:399px" width="38" height="40" viewBox="0 0 38 40"><use href="#ic-cloud" x="0" y="0" width="37" height="20"/><use href="#ic-star" x="4" y="21" width="10" height="10"/><use href="#ic-flake" x="19" y="21" width="15" height="15"/><circle cx="16.5" cy="23" r="1.4" fill="#3c8fc4"/><circle cx="16" cy="30" r="0.9" fill="#3c8fc4"/><circle cx="8.5" cy="34" r="1.4" fill="#3c8fc4"/></svg><div class="a nw" style="left:10.7px;top:409.5px;font-size:14px;line-height:17px;color:#3a3a3a;">8 :00 am</div><div class="a nw" style="left:144.8px;top:408.0px;font-size:14px;line-height:17px;color:#3a3a3a;">Snow Sho...</div><div class="a nw" style="left:239.0px;top:409.5px;font-size:14px;line-height:17px;color:#3a3a3a;">-1 °C</div><div class="a nw" style="left:313.8px;top:409.5px;font-size:14px;line-height:17px;color:#3a3a3a;">-1 °C</div><div class="a nw" style="left:422.8px;top:409.5px;font-size:14px;line-height:17px;color:#2f6ea7;text-decoration:underline;text-underline-offset:2px;">35 %</div><div class="a nw" style="left:499.0px;top:409.5px;font-size:14px;line-height:17px;color:#2f6ea7;text-decoration:underline;text-underline-offset:2px;">0.10 cm</div><div class="a nw" style="left:587.0px;top:409.5px;font-size:14px;line-height:17px;color:#3a3a3a;">89 %</div><div class="a nw" style="left:711.0px;top:409.5px;font-size:14px;line-height:17px;color:#3a3a3a;">-2 °C</div><div class="a nw" style="left:819.0px;top:409.5px;font-size:14px;line-height:17px;color:#3a3a3a;">93 %</div><div class="a nw" style="left:917.0px;top:409.5px;font-size:14px;line-height:17px;color:#3a3a3a;">3 km/h SSW</div><div class="a nw" style="left:1030.8px;top:409.5px;font-size:14px;line-height:17px;color:#3a3a3a;">1,00</div><div class="a" style="left:0;top:440.5px;width:1053px;height:45.5px;background:#f6f6f6"></div><svg class="a" style="left:95.79999999999995px;top:449px" width="37" height="20"><use href="#ic-cloud"/></svg><div class="a nw" style="left:10.7px;top:455.0px;font-size:14px;line-height:17px;color:#3a3a3a;">9 :00 am</div><div class="a nw" style="left:144.8px;top:453.5px;font-size:14px;line-height:17px;color:#3a3a3a;">Cloudy</div><div class="a nw" style="left:239.0px;top:455.0px;font-size:14px;line-height:17px;color:#3a3a3a;">-1 °C</div><div class="a nw" style="left:313.8px;top:455.0px;font-size:14px;line-height:17px;color:#3a3a3a;">-1 °C</div><div class="a nw" style="left:422.8px;top:455.0px;font-size:14px;line-height:17px;color:#2f6ea7;text-decoration:underline;text-underline-offset:2px;">24 %</div><div class="a nw" style="left:499.0px;top:455.0px;font-size:14px;line-height:17px;color:#2f6ea7;text-decoration:underline;text-underline-offset:2px;">0 cm</div><div class="a nw" style="left:587.0px;top:455.0px;font-size:14px;line-height:17px;color:#3a3a3a;">91 %</div><div class="a nw" style="left:711.0px;top:455.0px;font-size:14px;line-height:17px;color:#3a3a3a;">-2 °C</div><div class="a nw" style="left:819.0px;top:455.0px;font-size:14px;line-height:17px;color:#3a3a3a;">91 %</div><div class="a nw" style="left:917.0px;top:455.0px;font-size:14px;line-height:17px;color:#3a3a3a;">3 km/h SW</div><div class="a nw" style="left:1030.8px;top:455.0px;font-size:14px;line-height:17px;color:#3a3a3a;">1,00</div><svg class="a" style="left:95.79999999999995px;top:495px" width="37" height="20"><use href="#ic-cloud"/></svg><div class="a nw" style="left:10.7px;top:500.5px;font-size:14px;line-height:17px;color:#3a3a3a;">10 :00 am</div><div class="a nw" style="left:144.8px;top:499.0px;font-size:14px;line-height:17px;color:#3a3a3a;">Cloudy</div><div class="a nw" style="left:239.0px;top:500.5px;font-size:14px;line-height:17px;color:#3a3a3a;">1 °C</div><div class="a nw" style="left:313.8px;top:500.5px;font-size:14px;line-height:17px;color:#3a3a3a;">1 °C</div><div class="a nw" style="left:422.8px;top:500.5px;font-size:14px;line-height:17px;color:#2f6ea7;text-decoration:underline;text-underline-offset:2px;">22 %</div><div class="a nw" style="left:499.0px;top:500.5px;font-size:14px;line-height:17px;color:#2f6ea7;text-decoration:underline;text-underline-offset:2px;">0 cm</div><div class="a nw" style="left:587.0px;top:500.5px;font-size:14px;line-height:17px;color:#3a3a3a;">95 %</div><div class="a nw" style="left:711.0px;top:500.5px;font-size:14px;line-height:17px;color:#3a3a3a;">-1 °C</div><div class="a nw" style="left:819.0px;top:500.5px;font-size:14px;line-height:17px;color:#3a3a3a;">87 %</div><div class="a nw" style="left:917.0px;top:500.5px;font-size:14px;line-height:17px;color:#3a3a3a;">4 km/h WSW</div><div class="a nw" style="left:1030.8px;top:500.5px;font-size:14px;line-height:17px;color:#3a3a3a;">1,00</div><div class="a" style="left:0;top:531.5px;width:1053px;height:45.5px;background:#f6f6f6"></div><svg class="a" style="left:95.79999999999995px;top:541px" width="37" height="20"><use href="#ic-cloud"/></svg><div class="a nw" style="left:10.7px;top:546.0px;font-size:14px;line-height:17px;color:#3a3a3a;">11 :00 am</div><div class="a nw" style="left:144.8px;top:544.5px;font-size:14px;line-height:17px;color:#3a3a3a;">Cloudy</div><div class="a nw" style="left:239.0px;top:546.0px;font-size:14px;line-height:17px;color:#3a3a3a;">2 °C</div><div class="a nw" style="left:313.8px;top:546.0px;font-size:14px;line-height:17px;color:#3a3a3a;">0 °C</div><div class="a nw" style="left:422.8px;top:546.0px;font-size:14px;line-height:17px;color:#2f6ea7;text-decoration:underline;text-underline-offset:2px;">18 %</div><div class="a nw" style="left:499.0px;top:546.0px;font-size:14px;line-height:17px;color:#2f6ea7;text-decoration:underline;text-underline-offset:2px;">0 cm</div><div class="a nw" style="left:587.0px;top:546.0px;font-size:14px;line-height:17px;color:#3a3a3a;">98 %</div><div class="a nw" style="left:711.0px;top:546.0px;font-size:14px;line-height:17px;color:#3a3a3a;">-1 °C</div><div class="a nw" style="left:819.0px;top:546.0px;font-size:14px;line-height:17px;color:#3a3a3a;">84 %</div><div class="a nw" style="left:917.0px;top:546.0px;font-size:14px;line-height:17px;color:#3a3a3a;">6 km/h W</div><div class="a nw" style="left:1030.8px;top:546.0px;font-size:14px;line-height:17px;color:#3a3a3a;">1,00</div><svg class="a" style="left:95.79999999999995px;top:586px" width="37" height="20"><use href="#ic-cloud"/></svg><div class="a nw" style="left:10.7px;top:591.5px;font-size:14px;line-height:17px;color:#3a3a3a;">12 :00 pm</div><div class="a nw" style="left:144.8px;top:590.0px;font-size:14px;line-height:17px;color:#3a3a3a;">Cloudy</div><div class="a nw" style="left:239.0px;top:591.5px;font-size:14px;line-height:17px;color:#3a3a3a;">2 °C</div><div class="a nw" style="left:313.8px;top:591.5px;font-size:14px;line-height:17px;color:#3a3a3a;">0 °C</div><div class="a nw" style="left:422.8px;top:591.5px;font-size:14px;line-height:17px;color:#2f6ea7;text-decoration:underline;text-underline-offset:2px;">24 %</div><div class="a nw" style="left:499.0px;top:591.5px;font-size:14px;line-height:17px;color:#2f6ea7;text-decoration:underline;text-underline-offset:2px;">0 cm</div><div class="a nw" style="left:587.0px;top:591.5px;font-size:14px;line-height:17px;color:#3a3a3a;">97 %</div><div class="a nw" style="left:711.0px;top:591.5px;font-size:14px;line-height:17px;color:#3a3a3a;">-1 °C</div><div class="a nw" style="left:819.0px;top:591.5px;font-size:14px;line-height:17px;color:#3a3a3a;">80 %</div><div class="a nw" style="left:917.0px;top:591.5px;font-size:14px;line-height:17px;color:#3a3a3a;">7 km/h W</div><div class="a nw" style="left:1030.8px;top:591.5px;font-size:14px;line-height:17px;color:#3a3a3a;">1,00</div><div class="a" style="left:0;top:622.5px;width:1053px;height:45.5px;background:#f6f6f6"></div><svg class="a" style="left:95.79999999999995px;top:631px" width="37" height="20"><use href="#ic-cloud"/></svg><div class="a nw" style="left:10.7px;top:637.0px;font-size:14px;line-height:17px;color:#3a3a3a;">1 :00 pm</div><div class="a nw" style="left:144.8px;top:635.5px;font-size:14px;line-height:17px;color:#3a3a3a;">Cloudy</div><div class="a nw" style="left:239.0px;top:637.0px;font-size:14px;line-height:17px;color:#3a3a3a;">3 °C</div><div class="a nw" style="left:313.8px;top:637.0px;font-size:14px;line-height:17px;color:#3a3a3a;">0 °C</div><div class="a nw" style="left:422.8px;top:637.0px;font-size:14px;line-height:17px;color:#2f6ea7;text-decoration:underline;text-underline-offset:2px;">11 %</div><div class="a nw" style="left:499.0px;top:637.0px;font-size:14px;line-height:17px;color:#2f6ea7;text-decoration:underline;text-underline-offset:2px;">0 cm</div><div class="a nw" style="left:587.0px;top:637.0px;font-size:14px;line-height:17px;color:#3a3a3a;">91 %</div><div class="a nw" style="left:711.0px;top:637.0px;font-size:14px;line-height:17px;color:#3a3a3a;">-1 °C</div><div class="a nw" style="left:819.0px;top:637.0px;font-size:14px;line-height:17px;color:#3a3a3a;">78 %</div><div class="a nw" style="left:917.0px;top:637.0px;font-size:14px;line-height:17px;color:#3a3a3a;">9 km/h W</div><div class="a nw" style="left:1030.8px;top:637.0px;font-size:14px;line-height:17px;color:#3a3a3a;">1,00</div><svg class="a" style="left:95.79999999999995px;top:677px" width="37" height="20"><use href="#ic-cloud"/></svg><div class="a nw" style="left:10.7px;top:682.5px;font-size:14px;line-height:17px;color:#3a3a3a;">2 :00 pm</div><div class="a nw" style="left:144.8px;top:681.0px;font-size:14px;line-height:17px;color:#3a3a3a;">Cloudy</div><div class="a nw" style="left:239.0px;top:682.5px;font-size:14px;line-height:17px;color:#3a3a3a;">3 °C</div><div class="a nw" style="left:313.8px;top:682.5px;font-size:14px;line-height:17px;color:#3a3a3a;">0 °C</div><div class="a nw" style="left:422.8px;top:682.5px;font-size:14px;line-height:17px;color:#2f6ea7;text-decoration:underline;text-underline-offset:2px;">16 %</div><div class="a nw" style="left:499.0px;top:682.5px;font-size:14px;line-height:17px;color:#2f6ea7;text-decoration:underline;text-underline-offset:2px;">0 cm</div><div class="a nw" style="left:587.0px;top:682.5px;font-size:14px;line-height:17px;color:#3a3a3a;">93 %</div><div class="a nw" style="left:711.0px;top:682.5px;font-size:14px;line-height:17px;color:#3a3a3a;">-1 °C</div><div class="a nw" style="left:819.0px;top:682.5px;font-size:14px;line-height:17px;color:#3a3a3a;">75 %</div><div class="a nw" style="left:917.0px;top:682.5px;font-size:14px;line-height:17px;color:#3a3a3a;">10 km/h W</div><div class="a nw" style="left:1030.8px;top:682.5px;font-size:14px;line-height:17px;color:#3a3a3a;">1,00</div><div class="a" style="left:0;top:713.5px;width:1053px;height:45.5px;background:#f6f6f6"></div><svg class="a" style="left:95.79999999999995px;top:718px" width="38" height="40" viewBox="0 0 38 40"><use href="#ic-cloud" x="0" y="0" width="37" height="20"/><use href="#ic-star" x="4" y="21" width="10" height="10"/><use href="#ic-flake" x="19" y="21" width="15" height="15"/><circle cx="16.5" cy="23" r="1.4" fill="#3c8fc4"/><circle cx="16" cy="30" r="0.9" fill="#3c8fc4"/><circle cx="8.5" cy="34" r="1.4" fill="#3c8fc4"/></svg><div class="a nw" style="left:10.7px;top:728.0px;font-size:14px;line-height:17px;color:#3a3a3a;">3 :00 pm</div><div class="a nw" style="left:144.8px;top:726.5px;font-size:14px;line-height:17px;color:#3a3a3a;">Snow Sho...</div><div class="a nw" style="left:239.0px;top:728.0px;font-size:14px;line-height:17px;color:#3a3a3a;">3 °C</div><div class="a nw" style="left:313.8px;top:728.0px;font-size:14px;line-height:17px;color:#3a3a3a;">1 °C</div><div class="a nw" style="left:422.8px;top:728.0px;font-size:14px;line-height:17px;color:#2f6ea7;text-decoration:underline;text-underline-offset:2px;">36 %</div><div class="a nw" style="left:499.0px;top:728.0px;font-size:14px;line-height:17px;color:#2f6ea7;text-decoration:underline;text-underline-offset:2px;">0 cm</div><div class="a nw" style="left:587.0px;top:728.0px;font-size:14px;line-height:17px;color:#3a3a3a;">100 %</div><div class="a nw" style="left:711.0px;top:728.0px;font-size:14px;line-height:17px;color:#3a3a3a;">-1 °C</div><div class="a nw" style="left:819.0px;top:728.0px;font-size:14px;line-height:17px;color:#3a3a3a;">72 %</div><div class="a nw" style="left:917.0px;top:728.0px;font-size:14px;line-height:17px;color:#3a3a3a;">11 km/h WNW</div><div class="a nw" style="left:1030.8px;top:728.0px;font-size:14px;line-height:17px;color:#3a3a3a;">1,00</div></div>
<div class="a" style="left:1717px;top:14px;width:1703px;height:231px;background:#f6f6f6"></div>
<div class="a" style="left:1717px;top:245px;width:1703px;height:3px;background:#dadada"></div>
<div class="a nw" style="left:1742px;top:21px;font-size:22.3px;line-height:26px;color:#555">Elev <b>273</b> m, <b>46.2</b> &deg;N, <b>74.58</b> &deg;W</div>
<div class="a nw" style="left:1741px;top:55px;font-size:42.2px;line-height:50px;color:#222">Mont-Tremblant, Quebec, Canada 10-Day Weather Forecast</div>
<svg class="a" style="left:0;top:0" width="3420" height="260"><polygon points="2909.5,62.0 2914.3,75.4 2928.5,75.8 2917.3,84.5 2921.3,98.2 2909.5,90.2 2897.7,98.2 2901.7,84.5 2890.5,75.8 2904.7,75.4" fill="#dcdcdc"/><path d="M2966,62 L2946,81 L2952,81 L2952,97 L2961,97 L2961,87 L2971,87 L2971,97 L2980,97 L2980,81 L2986,81 Z" fill="#dcdcdc"/></svg>
<svg class="a" style="left:1740px;top:112px" width="40" height="40" viewBox="0 0 40 40"><path d="M13.3,16.2L10.2,7.7L17.9,12.3Z" fill="#ec8a40"/><path d="M17.1,12.6L19.6,3.9L23.2,12.2Z" fill="#ec8a40"/><path d="M22.5,12.0L29.6,6.5L27.6,15.3Z" fill="#ec8a40"/><path d="M27.3,15.0L36.3,15.2L29.2,20.7Z" fill="#ec8a40"/><path d="M29.2,19.6L36.5,24.8L27.5,25.4Z" fill="#ec8a40"/><circle cx="20.7" cy="20.3" r="9" fill="#fdf0c8"/><circle cx="20.7" cy="20.3" r="7.2" fill="#f0bc48"/><g transform="translate(3.2,15.3) scale(0.2083)"><path d="M10,44 C4,44 1.2,39.5 1.2,34.5 C1.2,28 6,24 12,24.5 C13.5,20 17.5,17 22.5,17.8 C26,6.5 35,1.2 44,1.2 C54.5,1.2 62.5,8 64.5,17.5 C66,17.2 67.5,17 69,17.2 C77.5,17.8 83,24.5 83,32 C83,39.5 77.5,44 71,44 Z" fill="#e6e6e6" stroke="#9c9c9c" stroke-width="5.28" stroke-linejoin="round"/></g><g transform="translate(4.2,20) scale(0.3655)"><path d="M10,44 C4,44 1.2,39.5 1.2,34.5 C1.2,28 6,24 12,24.5 C13.5,20 17.5,17 22.5,17.8 C26,6.5 35,1.2 44,1.2 C54.5,1.2 62.5,8 64.5,17.5 C66,17.2 67.5,17 69,17.2 C77.5,17.8 83,24.5 83,32 C83,39.5 77.5,44 71,44 Z" fill="#fff" stroke="#fff" stroke-width="3.83" stroke-linejoin="round"/></g><g transform="translate(5.2,21) scale(0.3417)"><path d="M10,44 C4,44 1.2,39.5 1.2,34.5 C1.2,28 6,24 12,24.5 C13.5,20 17.5,17 22.5,17.8 C26,6.5 35,1.2 44,1.2 C54.5,1.2 62.5,8 64.5,17.5 C66,17.2 67.5,17 69,17.2 C77.5,17.8 83,24.5 83,32 C83,39.5 77.5,44 71,44 Z" fill="#e6e6e6" stroke="#9c9c9c" stroke-width="3.51" stroke-linejoin="round"/></g></svg>
<div class="a nw" style="left:1785px;top:114px;font-size:26.5px;line-height:30px;font-weight:bold;color:#5dade2;letter-spacing:2px">-13&deg;</div>
<div class="a nw" style="left:1861px;top:114px;font-size:26.5px;line-height:30px;font-weight:bold;color:#2d6fa5;letter-spacing:1px">MONT-TREMBLANT STATION</div>
<div class="a" style="left:2265px;top:121px;width:3px;height:22px;background:#222"></div>
<div class="a nw" style="left:2279px;top:114px;font-size:25px;line-height:30px;color:#2d6fa5">CHANGE</div>
<svg class="a" style="left:2393px;top:118px" width="34" height="24"><path d="M3,5 L17,19 L31,5" stroke="#2d6fa5" stroke-width="3" fill="none"/></svg>
<div class="a" style="left:3087px;top:82px;width:270px;height:69px;background:#1f2125;overflow:hidden"><svg class="a" style="left:0;top:0" width="270" height="69" viewBox="0 0 270 69"><defs><linearGradient id="wug" x1="0" x2="1" y1="0" y2="0"><stop offset="0" stop-color="#d8352f"/><stop offset="0.45" stop-color="#ee8a3d"/><stop offset="0.65" stop-color="#f4bc3e"/><stop offset="0.85" stop-color="#3aa4e0"/><stop offset="1" stop-color="#2a6cc8"/></linearGradient></defs><path d="M28,29 L40,53 L50,33 L60,53 L72,33 C76,26 82,30 82,38 L82,43 C82,52 96,52 96,43 L96,29" stroke="url(#wug)" stroke-width="10" fill="none" stroke-linecap="round" stroke-linejoin="round"/><path d="M82,9 C84,14 87,17 87,21 A5,5 0 0 1 77,21 C77,17 80,14 82,9 Z" fill="#4fb3e8"/></svg><div class="a nw" style="left:106px;top:22px;font-size:17.5px;line-height:18px;color:#eee;letter-spacing:0.7px">WEATHER</div><div class="a nw" style="left:106px;top:40px;font-size:17.5px;line-height:18px;color:#eee;letter-spacing:0.6px">UNDERGROUND</div></div>
<div class="a" style="left:2141px;top:168px;width:221px;height:80px;background:#fff;border-left:2px solid #d4d4d4;border-right:2px solid #d4d4d4"></div>
<div class="a" style="left:2141px;top:167px;width:221px;height:5px;background:#4ba4de"></div>
<div class="a nw" style="left:1786px;top:192.5px;font-size:23.5px;line-height:28px;color:#5c5c5c;">TODAY</div>
<div class="a nw" style="left:1986px;top:192.5px;font-size:23.5px;line-height:28px;color:#5c5c5c;">HOURLY</div>
<div class="a nw" style="left:2204px;top:192.5px;font-size:23.5px;line-height:28px;font-weight:bold;color:#111;letter-spacing:1.3px;">10-DAY</div>
<div class="a nw" style="left:2425px;top:192.5px;font-size:23.5px;line-height:28px;color:#5c5c5c;">CALENDAR</div>
<div class="a nw" style="left:2673px;top:192.5px;font-size:23.5px;line-height:28px;color:#5c5c5c;">HISTORY</div>
<div class="a nw" style="left:2895px;top:192.5px;font-size:23.5px;line-height:28px;color:#5c5c5c;">WUNDERMAP</div>
<svg class="a" style="left:0;top:0" width="3420" height="400"><path d="M2029,229 C2022,305 1880,317 1745,317" stroke="#e34b2f" stroke-width="4.8" fill="none"/><path d="M1721,316 L1747,303.5 L1747,328.5 Z" fill="#e34b2f"/></svg>
<svg class="a" style="left:1700px;top:370px" width="1720" height="300" viewBox="1700 370 1720 300"><rect x="1805.3" y="385" width="1529.3" height="268" fill="#fff" stroke="#e6e6e6" stroke-width="3"/><line x1="1959.45" y1="385" x2="1959.45" y2="653" stroke="#e8e8e8" stroke-width="3"/><line x1="2113.6" y1="385" x2="2113.6" y2="653" stroke="#e8e8e8" stroke-width="3"/><line x1="2267.75" y1="385" x2="2267.75" y2="653" stroke="#e8e8e8" stroke-width="3"/><line x1="2421.9" y1="385" x2="2421.9" y2="653" stroke="#e8e8e8" stroke-width="3"/><line x1="2576.05" y1="385" x2="2576.05" y2="653" stroke="#e8e8e8" stroke-width="3"/><line x1="2730.2" y1="385" x2="2730.2" y2="653" stroke="#e8e8e8" stroke-width="3"/><line x1="2884.35" y1="385" x2="2884.35" y2="653" stroke="#e8e8e8" stroke-width="3"/><line x1="3038.5" y1="385" x2="3038.5" y2="653" stroke="#e8e8e8" stroke-width="3"/><line x1="3192.65" y1="385" x2="3192.65" y2="653" stroke="#e8e8e8" stroke-width="3"/><line x1="1805.3" y1="419" x2="3334.6" y2="419" stroke="#e8e8e8" stroke-width="3"/><path d="M1784,464 L1768,478.5 L1784,493" stroke="#777" stroke-width="4" fill="none"/><path d="M3355,464 L3371,478.5 L3355,493" stroke="#777" stroke-width="4" fill="none"/><g transform="translate(1839.3,473) scale(1.0119)"><path d="M10,44 C4,44 1.2,39.5 1.2,34.5 C1.2,28 6,24 12,24.5 C13.5,20 17.5,17 22.5,17.8 C26,6.5 35,1.2 44,1.2 C54.5,1.2 62.5,8 64.5,17.5 C66,17.2 67.5,17 69,17.2 C77.5,17.8 83,24.5 83,32 C83,39.5 77.5,44 71,44 Z" fill="#e6e6e6" stroke="#9c9c9c" stroke-width="2.47" stroke-linejoin="round"/></g><path d="M1838.3,647 A7.5,7 0 0 1 1853.3,647 Z" fill="#f3bc4e"/><path d="M1919.3,641 A7.5,7 0 0 0 1934.3,641 Z" fill="#d99a2b"/><g transform="translate(1993.45,453) scale(1.0119)"><path d="M10,44 C4,44 1.2,39.5 1.2,34.5 C1.2,28 6,24 12,24.5 C13.5,20 17.5,17 22.5,17.8 C26,6.5 35,1.2 44,1.2 C54.5,1.2 62.5,8 64.5,17.5 C66,17.2 67.5,17 69,17.2 C77.5,17.8 83,24.5 83,32 C83,39.5 77.5,44 71,44 Z" fill="#e6e6e6" stroke="#9c9c9c" stroke-width="2.47" stroke-linejoin="round"/></g><circle cx="2013.45" cy="513" r="7.4" fill="none" stroke="#3a8cc8" stroke-width="5.0"/><g transform="translate(2013.45,513) rotate(0)"><rect x="-2.4" y="-12" width="4.8" height="6.0" fill="#3a8cc8"/></g><g transform="translate(2013.45,513) rotate(60)"><rect x="-2.4" y="-12" width="4.8" height="6.0" fill="#3a8cc8"/></g><g transform="translate(2013.45,513) rotate(120)"><rect x="-2.4" y="-12" width="4.8" height="6.0" fill="#3a8cc8"/></g><g transform="translate(2013.45,513) rotate(180)"><rect x="-2.4" y="-12" width="4.8" height="6.0" fill="#3a8cc8"/></g><g transform="translate(2013.45,513) rotate(240)"><rect x="-2.4" y="-12" width="4.8" height="6.0" fill="#3a8cc8"/></g><g transform="translate(2013.45,513) rotate(300)"><rect x="-2.4" y="-12" width="4.8" height="6.0" fill="#3a8cc8"/></g><circle cx="2031.45" cy="505" r="3.2" fill="#3a8cc8"/><circle cx="2030.45" cy="522" r="2" fill="#3a8cc8"/><circle cx="2015.45" cy="531" r="3.2" fill="#3a8cc8"/><g transform="translate(2054.45,519) rotate(0)"><line x1="0" y1="-17.5" x2="0" y2="17.5" stroke="#3a8cc8" stroke-width="3.3"/><path d="M-5.6,-15.0 L0,-9.6 L5.6,-15.0 M-5.6,15.0 L0,9.6 L5.6,15.0" stroke="#3a8cc8" stroke-width="2.8" fill="none"/></g><g transform="translate(2054.45,519) rotate(60)"><line x1="0" y1="-17.5" x2="0" y2="17.5" stroke="#3a8cc8" stroke-width="3.3"/><path d="M-5.6,-15.0 L0,-9.6 L5.6,-15.0 M-5.6,15.0 L0,9.6 L5.6,15.0" stroke="#3a8cc8" stroke-width="2.8" fill="none"/></g><g transform="translate(2054.45,519) rotate(120)"><line x1="0" y1="-17.5" x2="0" y2="17.5" stroke="#3a8cc8" stroke-width="3.3"/><path d="M-5.6,-15.0 L0,-9.6 L5.6,-15.0 M-5.6,15.0 L0,9.6 L5.6,15.0" stroke="#3a8cc8" stroke-width="2.8" fill="none"/></g><circle cx="2054.45" cy="519" r="5.2" fill="#3a8cc8"/><path d="M1992.45,647 A7.5,7 0 0 1 2007.45,647 Z" fill="#f3bc4e"/><path d="M2073.45,641 A7.5,7 0 0 0 2088.45,641 Z" fill="#d99a2b"/><path d="M2186.3,473.7L2191.6,453.0L2196.9,473.7Z" fill="#ef8c3b"/><path d="M2197.7,473.9L2212.6,458.6L2206.9,479.2Z" fill="#ef8c3b"/><path d="M2207.4,479.7L2228.0,474.0L2212.7,488.9Z" fill="#ef8c3b"/><path d="M2212.9,489.7L2233.6,495.0L2212.9,500.3Z" fill="#ef8c3b"/><path d="M2212.7,501.1L2228.0,516.0L2207.4,510.3Z" fill="#ef8c3b"/><path d="M2206.9,510.8L2212.6,531.4L2197.7,516.1Z" fill="#ef8c3b"/><path d="M2196.9,516.3L2191.6,537.0L2186.3,516.3Z" fill="#ef8c3b"/><path d="M2185.5,516.1L2170.6,531.4L2176.3,510.8Z" fill="#ef8c3b"/><path d="M2175.8,510.3L2155.2,516.0L2170.5,501.1Z" fill="#ef8c3b"/><path d="M2170.3,500.3L2149.6,495.0L2170.3,489.7Z" fill="#ef8c3b"/><path d="M2170.5,488.9L2155.2,474.0L2175.8,479.7Z" fill="#ef8c3b"/><path d="M2176.3,479.2L2170.6,458.6L2185.5,473.9Z" fill="#ef8c3b"/><circle cx="2191.6" cy="495" r="23" fill="#fff"/><circle cx="2191.6" cy="495" r="20" fill="#f3b94a"/><g transform="translate(2149.6,506) scale(0.6071)"><path d="M10,44 C4,44 1.2,39.5 1.2,34.5 C1.2,28 6,24 12,24.5 C13.5,20 17.5,17 22.5,17.8 C26,6.5 35,1.2 44,1.2 C54.5,1.2 62.5,8 64.5,17.5 C66,17.2 67.5,17 69,17.2 C77.5,17.8 83,24.5 83,32 C83,39.5 77.5,44 71,44 Z" fill="#e6e6e6" stroke="#9c9c9c" stroke-width="4.12" stroke-linejoin="round"/></g><path d="M2146.6,647 A7.5,7 0 0 1 2161.6,647 Z" fill="#f3bc4e"/><path d="M2227.6,641 A7.5,7 0 0 0 2242.6,641 Z" fill="#d99a2b"/><path d="M2341.5,474.1L2346.8,453.0L2352.0,474.1Z" fill="#ef8c3b"/><path d="M2352.7,474.3L2367.8,458.6L2361.7,479.5Z" fill="#ef8c3b"/><path d="M2362.2,480.1L2383.1,474.0L2367.4,489.1Z" fill="#ef8c3b"/><path d="M2367.6,489.8L2388.8,495.0L2367.6,500.2Z" fill="#ef8c3b"/><path d="M2367.4,500.9L2383.1,516.0L2362.2,509.9Z" fill="#ef8c3b"/><path d="M2361.7,510.5L2367.8,531.4L2352.7,515.7Z" fill="#ef8c3b"/><path d="M2352.0,515.9L2346.8,537.0L2341.5,515.9Z" fill="#ef8c3b"/><path d="M2326.1,489.1L2310.4,474.0L2331.3,480.1Z" fill="#ef8c3b"/><path d="M2331.8,479.5L2325.8,458.6L2340.8,474.3Z" fill="#ef8c3b"/><circle cx="2346.75" cy="495" r="22.5" fill="#fff"/><circle cx="2346.75" cy="495" r="19.5" fill="#f3b94a"/><g transform="translate(2301.75,482) scale(0.4524)"><path d="M10,44 C4,44 1.2,39.5 1.2,34.5 C1.2,28 6,24 12,24.5 C13.5,20 17.5,17 22.5,17.8 C26,6.5 35,1.2 44,1.2 C54.5,1.2 62.5,8 64.5,17.5 C66,17.2 67.5,17 69,17.2 C77.5,17.8 83,24.5 83,32 C83,39.5 77.5,44 71,44 Z" fill="#e6e6e6" stroke="#9c9c9c" stroke-width="5.53" stroke-linejoin="round"/></g><g transform="translate(2308.75,498) scale(0.8810)"><path d="M10,44 C4,44 1.2,39.5 1.2,34.5 C1.2,28 6,24 12,24.5 C13.5,20 17.5,17 22.5,17.8 C26,6.5 35,1.2 44,1.2 C54.5,1.2 62.5,8 64.5,17.5 C66,17.2 67.5,17 69,17.2 C77.5,17.8 83,24.5 83,32 C83,39.5 77.5,44 71,44 Z" fill="#e6e6e6" stroke="#9c9c9c" stroke-width="2.84" stroke-linejoin="round"/></g><path d="M2300.75,647 A7.5,7 0 0 1 2315.75,647 Z" fill="#f3bc4e"/><path d="M2381.75,641 A7.5,7 0 0 0 2396.75,641 Z" fill="#d99a2b"/><path d="M2495.7,474.1L2500.9,453.0L2506.1,474.1Z" fill="#ef8c3b"/><path d="M2506.8,474.3L2521.9,458.6L2515.8,479.5Z" fill="#ef8c3b"/><path d="M2516.4,480.1L2537.3,474.0L2521.6,489.1Z" fill="#ef8c3b"/><path d="M2521.8,489.8L2542.9,495.0L2521.8,500.2Z" fill="#ef8c3b"/><path d="M2521.6,500.9L2537.3,516.0L2516.4,509.9Z" fill="#ef8c3b"/><path d="M2515.8,510.5L2521.9,531.4L2506.8,515.7Z" fill="#ef8c3b"/><path d="M2506.1,515.9L2500.9,537.0L2495.7,515.9Z" fill="#ef8c3b"/><path d="M2480.2,489.1L2464.5,474.0L2485.4,480.1Z" fill="#ef8c3b"/><path d="M2486.0,479.5L2479.9,458.6L2495.0,474.3Z" fill="#ef8c3b"/><circle cx="2500.9" cy="495" r="22.5" fill="#fff"/><circle cx="2500.9" cy="495" r="19.5" fill="#f3b94a"/><g transform="translate(2455.9,482) scale(0.4524)"><path d="M10,44 C4,44 1.2,39.5 1.2,34.5 C1.2,28 6,24 12,24.5 C13.5,20 17.5,17 22.5,17.8 C26,6.5 35,1.2 44,1.2 C54.5,1.2 62.5,8 64.5,17.5 C66,17.2 67.5,17 69,17.2 C77.5,17.8 83,24.5 83,32 C83,39.5 77.5,44 71,44 Z" fill="#e6e6e6" stroke="#9c9c9c" stroke-width="5.53" stroke-linejoin="round"/></g><g transform="translate(2462.9,498) scale(0.8810)"><path d="M10,44 C4,44 1.2,39.5 1.2,34.5 C1.2,28 6,24 12,24.5 C13.5,20 17.5,17 22.5,17.8 C26,6.5 35,1.2 44,1.2 C54.5,1.2 62.5,8 64.5,17.5 C66,17.2 67.5,17 69,17.2 C77.5,17.8 83,24.5 83,32 C83,39.5 77.5,44 71,44 Z" fill="#e6e6e6" stroke="#9c9c9c" stroke-width="2.84" stroke-linejoin="round"/></g><path d="M2454.9,647 A7.5,7 0 0 1 2469.9,647 Z" fill="#f3bc4e"/><path d="M2535.9,641 A7.5,7 0 0 0 2550.9,641 Z" fill="#d99a2b"/><g transform="translate(2610.05,453) scale(1.0119)"><path d="M10,44 C4,44 1.2,39.5 1.2,34.5 C1.2,28 6,24 12,24.5 C13.5,20 17.5,17 22.5,17.8 C26,6.5 35,1.2 44,1.2 C54.5,1.2 62.5,8 64.5,17.5 C66,17.2 67.5,17 69,17.2 C77.5,17.8 83,24.5 83,32 C83,39.5 77.5,44 71,44 Z" fill="#e6e6e6" stroke="#9c9c9c" stroke-width="2.47" stroke-linejoin="round"/></g><circle cx="2630.05" cy="513" r="7.4" fill="none" stroke="#3a8cc8" stroke-width="5.0"/><g transform="translate(2630.05,513) rotate(0)"><rect x="-2.4" y="-12" width="4.8" height="6.0" fill="#3a8cc8"/></g><g transform="translate(2630.05,513) rotate(60)"><rect x="-2.4" y="-12" width="4.8" height="6.0" fill="#3a8cc8"/></g><g transform="translate(2630.05,513) rotate(120)"><rect x="-2.4" y="-12" width="4.8" height="6.0" fill="#3a8cc8"/></g><g transform="translate(2630.05,513) rotate(180)"><rect x="-2.4" y="-12" width="4.8" height="6.0" fill="#3a8cc8"/></g><g transform="translate(2630.05,513) rotate(240)"><rect x="-2.4" y="-12" width="4.8" height="6.0" fill="#3a8cc8"/></g><g transform="translate(2630.05,513) rotate(300)"><rect x="-2.4" y="-12" width="4.8" height="6.0" fill="#3a8cc8"/></g><circle cx="2648.05" cy="505" r="3.2" fill="#3a8cc8"/><circle cx="2647.05" cy="522" r="2" fill="#3a8cc8"/><circle cx="2632.05" cy="531" r="3.2" fill="#3a8cc8"/><circle cx="2641.05" cy="525" r="1.5" fill="#3a8cc8"/><circle cx="2656.05" cy="517" r="2.6" fill="#3a8cc8"/><circle cx="2643.05" cy="534" r="1.5" fill="#3a8cc8"/><circle cx="2662.05" cy="502" r="1.4" fill="#3a8cc8"/><circle cx="2683.05" cy="502" r="1.4" fill="#3a8cc8"/><g transform="translate(2671.05,519) rotate(0)"><line x1="0" y1="-17.5" x2="0" y2="17.5" stroke="#3a8cc8" stroke-width="3.3"/><path d="M-5.6,-15.0 L0,-9.6 L5.6,-15.0 M-5.6,15.0 L0,9.6 L5.6,15.0" stroke="#3a8cc8" stroke-width="2.8" fill="none"/></g><g transform="translate(2671.05,519) rotate(60)"><line x1="0" y1="-17.5" x2="0" y2="17.5" stroke="#3a8cc8" stroke-width="3.3"/><path d="M-5.6,-15.0 L0,-9.6 L5.6,-15.0 M-5.6,15.0 L0,9.6 L5.6,15.0" stroke="#3a8cc8" stroke-width="2.8" fill="none"/></g><g transform="translate(2671.05,519) rotate(120)"><line x1="0" y1="-17.5" x2="0" y2="17.5" stroke="#3a8cc8" stroke-width="3.3"/><path d="M-5.6,-15.0 L0,-9.6 L5.6,-15.0 M-5.6,15.0 L0,9.6 L5.6,15.0" stroke="#3a8cc8" stroke-width="2.8" fill="none"/></g><circle cx="2671.05" cy="519" r="5.2" fill="#3a8cc8"/><path d="M2609.05,647 A7.5,7 0 0 1 2624.05,647 Z" fill="#f3bc4e"/><path d="M2690.05,641 A7.5,7 0 0 0 2705.05,641 Z" fill="#d99a2b"/><path d="M2802.9,473.7L2808.2,453.0L2813.5,473.7Z" fill="#ef8c3b"/><path d="M2814.3,473.9L2829.2,458.6L2823.5,479.2Z" fill="#ef8c3b"/><path d="M2824.0,479.7L2844.6,474.0L2829.3,488.9Z" fill="#ef8c3b"/><path d="M2829.5,489.7L2850.2,495.0L2829.5,500.3Z" fill="#ef8c3b"/><path d="M2829.3,501.1L2844.6,516.0L2824.0,510.3Z" fill="#ef8c3b"/><path d="M2823.5,510.8L2829.2,531.4L2814.3,516.1Z" fill="#ef8c3b"/><path d="M2813.5,516.3L2808.2,537.0L2802.9,516.3Z" fill="#ef8c3b"/><path d="M2802.1,516.1L2787.2,531.4L2792.9,510.8Z" fill="#ef8c3b"/><path d="M2792.4,510.3L2771.8,516.0L2787.1,501.1Z" fill="#ef8c3b"/><path d="M2786.9,500.3L2766.2,495.0L2786.9,489.7Z" fill="#ef8c3b"/><path d="M2787.1,488.9L2771.8,474.0L2792.4,479.7Z" fill="#ef8c3b"/><path d="M2792.9,479.2L2787.2,458.6L2802.1,473.9Z" fill="#ef8c3b"/><circle cx="2808.2" cy="495" r="23" fill="#fff"/><circle cx="2808.2" cy="495" r="20" fill="#f3b94a"/><g transform="translate(2766.2,506) scale(0.6071)"><path d="M10,44 C4,44 1.2,39.5 1.2,34.5 C1.2,28 6,24 12,24.5 C13.5,20 17.5,17 22.5,17.8 C26,6.5 35,1.2 44,1.2 C54.5,1.2 62.5,8 64.5,17.5 C66,17.2 67.5,17 69,17.2 C77.5,17.8 83,24.5 83,32 C83,39.5 77.5,44 71,44 Z" fill="#e6e6e6" stroke="#9c9c9c" stroke-width="4.12" stroke-linejoin="round"/></g><path d="M2763.2,647 A7.5,7 0 0 1 2778.2,647 Z" fill="#f3bc4e"/><path d="M2844.2,641 A7.5,7 0 0 0 2859.2,641 Z" fill="#d99a2b"/><g transform="translate(2918.35,457) scale(1.0119)"><path d="M10,44 C4,44 1.2,39.5 1.2,34.5 C1.2,28 6,24 12,24.5 C13.5,20 17.5,17 22.5,17.8 C26,6.5 35,1.2 44,1.2 C54.5,1.2 62.5,8 64.5,17.5 C66,17.2 67.5,17 69,17.2 C77.5,17.8 83,24.5 83,32 C83,39.5 77.5,44 71,44 Z" fill="#e6e6e6" stroke="#9c9c9c" stroke-width="2.47" stroke-linejoin="round"/></g><path d="M2931.35,532.5 L2943.65,508 M2946.35,523 L2950.65,514.7 M2954.0499999999997,532.5 L2965.35,508" stroke="#4aa0d4" stroke-width="3.6" stroke-linecap="round"/><g transform="translate(2982.85,520.3) rotate(0)"><line x1="0" y1="-13.4" x2="0" y2="13.4" stroke="#4aa0d4" stroke-width="2.8"/><path d="M-4.3,-11.5 L0,-7.4 L4.3,-11.5 M-4.3,11.5 L0,7.4 L4.3,11.5" stroke="#4aa0d4" stroke-width="2.4" fill="none"/></g><g transform="translate(2982.85,520.3) rotate(60)"><line x1="0" y1="-13.4" x2="0" y2="13.4" stroke="#4aa0d4" stroke-width="2.8"/><path d="M-4.3,-11.5 L0,-7.4 L4.3,-11.5 M-4.3,11.5 L0,7.4 L4.3,11.5" stroke="#4aa0d4" stroke-width="2.4" fill="none"/></g><g transform="translate(2982.85,520.3) rotate(120)"><line x1="0" y1="-13.4" x2="0" y2="13.4" stroke="#4aa0d4" stroke-width="2.8"/><path d="M-4.3,-11.5 L0,-7.4 L4.3,-11.5 M-4.3,11.5 L0,7.4 L4.3,11.5" stroke="#4aa0d4" stroke-width="2.4" fill="none"/></g><circle cx="2982.85" cy="520.3" r="4.0" fill="#4aa0d4"/><path d="M2917.35,647 A7.5,7 0 0 1 2932.35,647 Z" fill="#f3bc4e"/><path d="M2998.35,641 A7.5,7 0 0 0 3013.35,641 Z" fill="#d99a2b"/><g transform="translate(3072.5,453) scale(1.0119)"><path d="M10,44 C4,44 1.2,39.5 1.2,34.5 C1.2,28 6,24 12,24.5 C13.5,20 17.5,17 22.5,17.8 C26,6.5 35,1.2 44,1.2 C54.5,1.2 62.5,8 64.5,17.5 C66,17.2 67.5,17 69,17.2 C77.5,17.8 83,24.5 83,32 C83,39.5 77.5,44 71,44 Z" fill="#e6e6e6" stroke="#9c9c9c" stroke-width="2.47" stroke-linejoin="round"/></g><circle cx="3092.5" cy="513" r="7.4" fill="none" stroke="#3a8cc8" stroke-width="5.0"/><g transform="translate(3092.5,513) rotate(0)"><rect x="-2.4" y="-12" width="4.8" height="6.0" fill="#3a8cc8"/></g><g transform="translate(3092.5,513) rotate(60)"><rect x="-2.4" y="-12" width="4.8" height="6.0" fill="#3a8cc8"/></g><g transform="translate(3092.5,513) rotate(120)"><rect x="-2.4" y="-12" width="4.8" height="6.0" fill="#3a8cc8"/></g><g transform="translate(3092.5,513) rotate(180)"><rect x="-2.4" y="-12" width="4.8" height="6.0" fill="#3a8cc8"/></g><g transform="translate(3092.5,513) rotate(240)"><rect x="-2.4" y="-12" width="4.8" height="6.0" fill="#3a8cc8"/></g><g transform="translate(3092.5,513) rotate(300)"><rect x="-2.4" y="-12" width="4.8" height="6.0" fill="#3a8cc8"/></g><circle cx="3110.5" cy="505" r="3.2" fill="#3a8cc8"/><circle cx="3109.5" cy="522" r="2" fill="#3a8cc8"/><circle cx="3094.5" cy="531" r="3.2" fill="#3a8cc8"/><g transform="translate(3133.5,519) rotate(0)"><line x1="0" y1="-17.5" x2="0" y2="17.5" stroke="#3a8cc8" stroke-width="3.3"/><path d="M-5.6,-15.0 L0,-9.6 L5.6,-15.0 M-5.6,15.0 L0,9.6 L5.6,15.0" stroke="#3a8cc8" stroke-width="2.8" fill="none"/></g><g transform="translate(3133.5,519) rotate(60)"><line x1="0" y1="-17.5" x2="0" y2="17.5" stroke="#3a8cc8" stroke-width="3.3"/><path d="M-5.6,-15.0 L0,-9.6 L5.6,-15.0 M-5.6,15.0 L0,9.6 L5.6,15.0" stroke="#3a8cc8" stroke-width="2.8" fill="none"/></g><g transform="translate(3133.5,519) rotate(120)"><line x1="0" y1="-17.5" x2="0" y2="17.5" stroke="#3a8cc8" stroke-width="3.3"/><path d="M-5.6,-15.0 L0,-9.6 L5.6,-15.0 M-5.6,15.0 L0,9.6 L5.6,15.0" stroke="#3a8cc8" stroke-width="2.8" fill="none"/></g><circle cx="3133.5" cy="519" r="5.2" fill="#3a8cc8"/><path d="M3071.5,647 A7.5,7 0 0 1 3086.5,647 Z" fill="#f3bc4e"/><path d="M3152.5,641 A7.5,7 0 0 0 3167.5,641 Z" fill="#d99a2b"/><g transform="translate(3226.65,453) scale(1.0119)"><path d="M10,44 C4,44 1.2,39.5 1.2,34.5 C1.2,28 6,24 12,24.5 C13.5,20 17.5,17 22.5,17.8 C26,6.5 35,1.2 44,1.2 C54.5,1.2 62.5,8 64.5,17.5 C66,17.2 67.5,17 69,17.2 C77.5,17.8 83,24.5 83,32 C83,39.5 77.5,44 71,44 Z" fill="#e6e6e6" stroke="#9c9c9c" stroke-width="2.47" stroke-linejoin="round"/></g><circle cx="3246.65" cy="513" r="7.4" fill="none" stroke="#3a8cc8" stroke-width="5.0"/><g transform="translate(3246.65,513) rotate(0)"><rect x="-2.4" y="-12" width="4.8" height="6.0" fill="#3a8cc8"/></g><g transform="translate(3246.65,513) rotate(60)"><rect x="-2.4" y="-12" width="4.8" height="6.0" fill="#3a8cc8"/></g><g transform="translate(3246.65,513) rotate(120)"><rect x="-2.4" y="-12" width="4.8" height="6.0" fill="#3a8cc8"/></g><g transform="translate(3246.65,513) rotate(180)"><rect x="-2.4" y="-12" width="4.8" height="6.0" fill="#3a8cc8"/></g><g transform="translate(3246.65,513) rotate(240)"><rect x="-2.4" y="-12" width="4.8" height="6.0" fill="#3a8cc8"/></g><g transform="translate(3246.65,513) rotate(300)"><rect x="-2.4" y="-12" width="4.8" height="6.0" fill="#3a8cc8"/></g><circle cx="3264.65" cy="505" r="3.2" fill="#3a8cc8"/><circle cx="3263.65" cy="522" r="2" fill="#3a8cc8"/><circle cx="3248.65" cy="531" r="3.2" fill="#3a8cc8"/><g transform="translate(3287.65,519) rotate(0)"><line x1="0" y1="-17.5" x2="0" y2="17.5" stroke="#3a8cc8" stroke-width="3.3"/><path d="M-5.6,-15.0 L0,-9.6 L5.6,-15.0 M-5.6,15.0 L0,9.6 L5.6,15.0" stroke="#3a8cc8" stroke-width="2.8" fill="none"/></g><g transform="translate(3287.65,519) rotate(60)"><line x1="0" y1="-17.5" x2="0" y2="17.5" stroke="#3a8cc8" stroke-width="3.3"/><path d="M-5.6,-15.0 L0,-9.6 L5.6,-15.0 M-5.6,15.0 L0,9.6 L5.6,15.0" stroke="#3a8cc8" stroke-width="2.8" fill="none"/></g><g transform="translate(3287.65,519) rotate(120)"><line x1="0" y1="-17.5" x2="0" y2="17.5" stroke="#3a8cc8" stroke-width="3.3"/><path d="M-5.6,-15.0 L0,-9.6 L5.6,-15.0 M-5.6,15.0 L0,9.6 L5.6,15.0" stroke="#3a8cc8" stroke-width="2.8" fill="none"/></g><circle cx="3287.65" cy="519" r="5.2" fill="#3a8cc8"/><path d="M3225.65,647 A7.5,7 0 0 1 3240.65,647 Z" fill="#f3bc4e"/><path d="M3306.65,641 A7.5,7 0 0 0 3321.65,641 Z" fill="#d99a2b"/></svg>
<div class="a" style="left:0;top:0;width:3335px;height:700px;overflow:hidden">
<div class="a nw" style="left:1805.3px;top:390px;width:154.15px;text-align:center;font-size:21.5px;line-height:24px;color:#222">Wed 3/25</div>
<div class="a nw" style="left:1805.3px;top:424px;width:154.15px;text-align:center;font-size:20.5px;line-height:24px;color:#222"><span style="color:#c9383a">-2°</span><span style="word-spacing:-1.5px"> | </span><span style="color:#3a62b0">-5°</span>C</div>
<div class="a nw" style="left:1806.3px;top:544px;width:152.15px;text-align:center;font-size:21px;line-height:30.5px;color:#222">Cloudy</div>
<div class="a nw" style="left:1805.3px;width:154.15px;top:606px;text-align:center;font-size:21px;line-height:24px;color:#222"><svg width="24" height="24" viewBox="0 0 24 24" style="vertical-align:top"><g transform="translate(12,12) rotate(0)"><line x1="0" y1="-10.5" x2="0" y2="10.5" stroke="#5ab2e4" stroke-width="2.2"/><path d="M-3.4,-9.0 L0,-5.8 L3.4,-9.0 M-3.4,9.0 L0,5.8 L3.4,9.0" stroke="#5ab2e4" stroke-width="1.9" fill="none"/></g><g transform="translate(12,12) rotate(60)"><line x1="0" y1="-10.5" x2="0" y2="10.5" stroke="#5ab2e4" stroke-width="2.2"/><path d="M-3.4,-9.0 L0,-5.8 L3.4,-9.0 M-3.4,9.0 L0,5.8 L3.4,9.0" stroke="#5ab2e4" stroke-width="1.9" fill="none"/></g><g transform="translate(12,12) rotate(120)"><line x1="0" y1="-10.5" x2="0" y2="10.5" stroke="#5ab2e4" stroke-width="2.2"/><path d="M-3.4,-9.0 L0,-5.8 L3.4,-9.0 M-3.4,9.0 L0,5.8 L3.4,9.0" stroke="#5ab2e4" stroke-width="1.9" fill="none"/></g><circle cx="12" cy="12" r="3.1" fill="#5ab2e4"/></svg><span style="margin-left:11px">8.1 cm</span></div>
<div class="a nw" style="left:1959.5px;top:390px;width:154.15px;text-align:center;font-size:21.5px;line-height:24px;color:#222">Thu 3/26</div>
<div class="a nw" style="left:1959.5px;top:424px;width:154.15px;text-align:center;font-size:20.5px;line-height:24px;color:#222"><span style="color:#c9383a">4°</span><span style="word-spacing:-1.5px"> | </span><span style="color:#3a62b0">-14°</span>C</div>
<div class="a nw" style="left:1960.5px;top:544px;width:152.15px;text-align:center;font-size:21px;line-height:30.5px;color:#222">AM Snow<br>Showers</div>
<div class="a nw" style="left:1959.5px;width:154.15px;top:606px;text-align:center;font-size:21px;line-height:24px;color:#222"><svg width="24" height="24" viewBox="0 0 24 24" style="vertical-align:top"><g transform="translate(12,12) rotate(0)"><line x1="0" y1="-10.5" x2="0" y2="10.5" stroke="#5ab2e4" stroke-width="2.2"/><path d="M-3.4,-9.0 L0,-5.8 L3.4,-9.0 M-3.4,9.0 L0,5.8 L3.4,9.0" stroke="#5ab2e4" stroke-width="1.9" fill="none"/></g><g transform="translate(12,12) rotate(60)"><line x1="0" y1="-10.5" x2="0" y2="10.5" stroke="#5ab2e4" stroke-width="2.2"/><path d="M-3.4,-9.0 L0,-5.8 L3.4,-9.0 M-3.4,9.0 L0,5.8 L3.4,9.0" stroke="#5ab2e4" stroke-width="1.9" fill="none"/></g><g transform="translate(12,12) rotate(120)"><line x1="0" y1="-10.5" x2="0" y2="10.5" stroke="#5ab2e4" stroke-width="2.2"/><path d="M-3.4,-9.0 L0,-5.8 L3.4,-9.0 M-3.4,9.0 L0,5.8 L3.4,9.0" stroke="#5ab2e4" stroke-width="1.9" fill="none"/></g><circle cx="12" cy="12" r="3.1" fill="#5ab2e4"/></svg><span style="margin-left:11px">-- cm</span></div>
<div class="a nw" style="left:2113.6px;top:390px;width:154.15px;text-align:center;font-size:21.5px;line-height:24px;color:#222">Fri 3/27</div>
<div class="a nw" style="left:2113.6px;top:424px;width:154.15px;text-align:center;font-size:20.5px;line-height:24px;color:#222"><span style="color:#c9383a">-7°</span><span style="word-spacing:-1.5px"> | </span><span style="color:#3a62b0">-17°</span>C</div>
<div class="a nw" style="left:2114.6px;top:544px;width:152.15px;text-align:center;font-size:21px;line-height:30.5px;color:#222">Mostly Sunny</div>
<div class="a nw" style="left:2113.6px;width:154.15px;top:606px;text-align:center;font-size:21px;line-height:24px;color:#222"><svg width="24" height="24" viewBox="0 0 24 24" style="vertical-align:top"><path d="M4,23 C0,19 1,9 6,5 C9,2 14,1 16,0 C16,6 15,16 12,21 C10,24 6,25 4,23Z" fill="#e4e4e4"/></svg><span style="margin-left:11px">0 mm</span></div>
<div class="a nw" style="left:2267.8px;top:390px;width:154.15px;text-align:center;font-size:21.5px;line-height:24px;color:#222">Sat 3/28</div>
<div class="a nw" style="left:2267.8px;top:424px;width:154.15px;text-align:center;font-size:20.5px;line-height:24px;color:#222"><span style="color:#c9383a">-4°</span><span style="word-spacing:-1.5px"> | </span><span style="color:#3a62b0">-12°</span>C</div>
<div class="a nw" style="left:2268.8px;top:544px;width:152.15px;text-align:center;font-size:21px;line-height:30.5px;color:#222">Mostly Cloudy</div>
<div class="a nw" style="left:2267.8px;width:154.15px;top:606px;text-align:center;font-size:21px;line-height:24px;color:#222"><svg width="24" height="24" viewBox="0 0 24 24" style="vertical-align:top"><path d="M4,23 C0,19 1,9 6,5 C9,2 14,1 16,0 C16,6 15,16 12,21 C10,24 6,25 4,23Z" fill="#e4e4e4"/></svg><span style="margin-left:11px">0 mm</span></div>
<div class="a nw" style="left:2421.9px;top:390px;width:154.15px;text-align:center;font-size:21.5px;line-height:24px;color:#222">Sun 3/29</div>
<div class="a nw" style="left:2421.9px;top:424px;width:154.15px;text-align:center;font-size:20.5px;line-height:24px;color:#222"><span style="color:#c9383a">2°</span><span style="word-spacing:-1.5px"> | </span><span style="color:#3a62b0">-4°</span>C</div>
<div class="a nw" style="left:2422.9px;top:544px;width:152.15px;text-align:center;font-size:21px;line-height:30.5px;color:#222">Mostly Cloudy</div>
<div class="a nw" style="left:2421.9px;width:154.15px;top:606px;text-align:center;font-size:21px;line-height:24px;color:#222"><svg width="24" height="24" viewBox="0 0 24 24" style="vertical-align:top"><g transform="translate(12,12) rotate(0)"><line x1="0" y1="-10.5" x2="0" y2="10.5" stroke="#5ab2e4" stroke-width="2.2"/><path d="M-3.4,-9.0 L0,-5.8 L3.4,-9.0 M-3.4,9.0 L0,5.8 L3.4,9.0" stroke="#5ab2e4" stroke-width="1.9" fill="none"/></g><g transform="translate(12,12) rotate(60)"><line x1="0" y1="-10.5" x2="0" y2="10.5" stroke="#5ab2e4" stroke-width="2.2"/><path d="M-3.4,-9.0 L0,-5.8 L3.4,-9.0 M-3.4,9.0 L0,5.8 L3.4,9.0" stroke="#5ab2e4" stroke-width="1.9" fill="none"/></g><g transform="translate(12,12) rotate(120)"><line x1="0" y1="-10.5" x2="0" y2="10.5" stroke="#5ab2e4" stroke-width="2.2"/><path d="M-3.4,-9.0 L0,-5.8 L3.4,-9.0 M-3.4,9.0 L0,5.8 L3.4,9.0" stroke="#5ab2e4" stroke-width="1.9" fill="none"/></g><circle cx="12" cy="12" r="3.1" fill="#5ab2e4"/></svg><span style="margin-left:11px">2.3 cm</span></div>
<div class="a nw" style="left:2576.1px;top:390px;width:154.15px;text-align:center;font-size:21.5px;line-height:24px;color:#222">Mon 3/30</div>
<div class="a nw" style="left:2576.1px;top:424px;width:154.15px;text-align:center;font-size:20.5px;line-height:24px;color:#222"><span style="color:#c9383a">5°</span><span style="word-spacing:-1.5px"> | </span><span style="color:#3a62b0">-7°</span>C</div>
<div class="a nw" style="left:2577.1px;top:544px;width:152.15px;text-align:center;font-size:21px;line-height:30.5px;color:#222">AM Snow</div>
<div class="a nw" style="left:2576.1px;width:154.15px;top:606px;text-align:center;font-size:21px;line-height:24px;color:#222"><svg width="24" height="24" viewBox="0 0 24 24" style="vertical-align:top"><g transform="translate(12,12) rotate(0)"><line x1="0" y1="-10.5" x2="0" y2="10.5" stroke="#5ab2e4" stroke-width="2.2"/><path d="M-3.4,-9.0 L0,-5.8 L3.4,-9.0 M-3.4,9.0 L0,5.8 L3.4,9.0" stroke="#5ab2e4" stroke-width="1.9" fill="none"/></g><g transform="translate(12,12) rotate(60)"><line x1="0" y1="-10.5" x2="0" y2="10.5" stroke="#5ab2e4" stroke-width="2.2"/><path d="M-3.4,-9.0 L0,-5.8 L3.4,-9.0 M-3.4,9.0 L0,5.8 L3.4,9.0" stroke="#5ab2e4" stroke-width="1.9" fill="none"/></g><g transform="translate(12,12) rotate(120)"><line x1="0" y1="-10.5" x2="0" y2="10.5" stroke="#5ab2e4" stroke-width="2.2"/><path d="M-3.4,-9.0 L0,-5.8 L3.4,-9.0 M-3.4,9.0 L0,5.8 L3.4,9.0" stroke="#5ab2e4" stroke-width="1.9" fill="none"/></g><circle cx="12" cy="12" r="3.1" fill="#5ab2e4"/></svg><span style="margin-left:11px">2.1 cm</span></div>
<div class="a nw" style="left:2730.2px;top:390px;width:154.15px;text-align:center;font-size:21.5px;line-height:24px;color:#222">Tue 3/31</div>
<div class="a nw" style="left:2730.2px;top:424px;width:154.15px;text-align:center;font-size:20.5px;line-height:24px;color:#222"><span style="color:#c9383a">2°</span><span style="word-spacing:-1.5px"> | </span><span style="color:#3a62b0">-7°</span>C</div>
<div class="a nw" style="left:2731.2px;top:544px;width:152.15px;text-align:center;font-size:21px;line-height:30.5px;color:#222">Partly Cloudy</div>
<div class="a nw" style="left:2730.2px;width:154.15px;top:606px;text-align:center;font-size:21px;line-height:24px;color:#222"><svg width="24" height="24" viewBox="0 0 24 24" style="vertical-align:top"><g transform="translate(12,12) rotate(0)"><line x1="0" y1="-10.5" x2="0" y2="10.5" stroke="#5ab2e4" stroke-width="2.2"/><path d="M-3.4,-9.0 L0,-5.8 L3.4,-9.0 M-3.4,9.0 L0,5.8 L3.4,9.0" stroke="#5ab2e4" stroke-width="1.9" fill="none"/></g><g transform="translate(12,12) rotate(60)"><line x1="0" y1="-10.5" x2="0" y2="10.5" stroke="#5ab2e4" stroke-width="2.2"/><path d="M-3.4,-9.0 L0,-5.8 L3.4,-9.0 M-3.4,9.0 L0,5.8 L3.4,9.0" stroke="#5ab2e4" stroke-width="1.9" fill="none"/></g><g transform="translate(12,12) rotate(120)"><line x1="0" y1="-10.5" x2="0" y2="10.5" stroke="#5ab2e4" stroke-width="2.2"/><path d="M-3.4,-9.0 L0,-5.8 L3.4,-9.0 M-3.4,9.0 L0,5.8 L3.4,9.0" stroke="#5ab2e4" stroke-width="1.9" fill="none"/></g><circle cx="12" cy="12" r="3.1" fill="#5ab2e4"/></svg><span style="margin-left:11px">4.2 cm</span></div>
<div class="a nw" style="left:2884.3px;top:390px;width:154.15px;text-align:center;font-size:21.5px;line-height:24px;color:#222">Wed 4/1</div>
<div class="a nw" style="left:2884.3px;top:424px;width:154.15px;text-align:center;font-size:20.5px;line-height:24px;color:#222"><span style="color:#c9383a">-1°</span><span style="word-spacing:-1.5px"> | </span><span style="color:#3a62b0">-4°</span>C</div>
<div class="a nw" style="left:2885.3px;top:544px;width:152.15px;text-align:center;font-size:21px;line-height:30.5px;color:#222">Snow to Wintry<br>Mix</div>
<div class="a nw" style="left:2884.3px;width:154.15px;top:606px;text-align:center;font-size:21px;line-height:24px;color:#222"><svg width="24" height="24" viewBox="0 0 24 24" style="vertical-align:top"><g transform="translate(12,12) rotate(0)"><line x1="0" y1="-10.5" x2="0" y2="10.5" stroke="#5ab2e4" stroke-width="2.2"/><path d="M-3.4,-9.0 L0,-5.8 L3.4,-9.0 M-3.4,9.0 L0,5.8 L3.4,9.0" stroke="#5ab2e4" stroke-width="1.9" fill="none"/></g><g transform="translate(12,12) rotate(60)"><line x1="0" y1="-10.5" x2="0" y2="10.5" stroke="#5ab2e4" stroke-width="2.2"/><path d="M-3.4,-9.0 L0,-5.8 L3.4,-9.0 M-3.4,9.0 L0,5.8 L3.4,9.0" stroke="#5ab2e4" stroke-width="1.9" fill="none"/></g><g transform="translate(12,12) rotate(120)"><line x1="0" y1="-10.5" x2="0" y2="10.5" stroke="#5ab2e4" stroke-width="2.2"/><path d="M-3.4,-9.0 L0,-5.8 L3.4,-9.0 M-3.4,9.0 L0,5.8 L3.4,9.0" stroke="#5ab2e4" stroke-width="1.9" fill="none"/></g><circle cx="12" cy="12" r="3.1" fill="#5ab2e4"/></svg><span style="margin-left:11px">7.1 cm</span></div>
<div class="a nw" style="left:3038.5px;top:390px;width:154.15px;text-align:center;font-size:21.5px;line-height:24px;color:#222">Thu 4/2</div>
<div class="a nw" style="left:3038.5px;top:424px;width:154.15px;text-align:center;font-size:20.5px;line-height:24px;color:#222"><span style="color:#c9383a">3°</span><span style="word-spacing:-1.5px"> | </span><span style="color:#3a62b0">-4°</span>C</div>
<div class="a nw" style="left:3039.5px;top:544px;width:152.15px;text-align:center;font-size:21px;line-height:30.5px;color:#222">Snow Showers</div>
<div class="a nw" style="left:3038.5px;width:154.15px;top:606px;text-align:center;font-size:21px;line-height:24px;color:#222"><svg width="24" height="24" viewBox="0 0 24 24" style="vertical-align:top"><g transform="translate(12,12) rotate(0)"><line x1="0" y1="-10.5" x2="0" y2="10.5" stroke="#5ab2e4" stroke-width="2.2"/><path d="M-3.4,-9.0 L0,-5.8 L3.4,-9.0 M-3.4,9.0 L0,5.8 L3.4,9.0" stroke="#5ab2e4" stroke-width="1.9" fill="none"/></g><g transform="translate(12,12) rotate(60)"><line x1="0" y1="-10.5" x2="0" y2="10.5" stroke="#5ab2e4" stroke-width="2.2"/><path d="M-3.4,-9.0 L0,-5.8 L3.4,-9.0 M-3.4,9.0 L0,5.8 L3.4,9.0" stroke="#5ab2e4" stroke-width="1.9" fill="none"/></g><g transform="translate(12,12) rotate(120)"><line x1="0" y1="-10.5" x2="0" y2="10.5" stroke="#5ab2e4" stroke-width="2.2"/><path d="M-3.4,-9.0 L0,-5.8 L3.4,-9.0 M-3.4,9.0 L0,5.8 L3.4,9.0" stroke="#5ab2e4" stroke-width="1.9" fill="none"/></g><circle cx="12" cy="12" r="3.1" fill="#5ab2e4"/></svg><span style="margin-left:11px">6 cm</span></div>
<div class="a nw" style="left:3192.7px;top:390px;width:154.15px;text-align:center;font-size:21.5px;line-height:24px;color:#222">Fri 4/3</div>
<div class="a nw" style="left:3192.7px;top:424px;width:154.15px;text-align:center;font-size:20.5px;line-height:24px;color:#222"><span style="color:#c9383a">4°</span><span style="word-spacing:-1.5px"> | </span><span style="color:#3a62b0">-4°</span>C</div>
<div class="a nw" style="left:3193.7px;top:544px;width:152.15px;text-align:center;font-size:21px;line-height:30.5px;color:#222">Snow Showers</div>
<div class="a nw" style="left:3192.7px;width:154.15px;top:606px;text-align:center;font-size:21px;line-height:24px;color:#222"><svg width="24" height="24" viewBox="0 0 24 24" style="vertical-align:top"><g transform="translate(12,12) rotate(0)"><line x1="0" y1="-10.5" x2="0" y2="10.5" stroke="#5ab2e4" stroke-width="2.2"/><path d="M-3.4,-9.0 L0,-5.8 L3.4,-9.0 M-3.4,9.0 L0,5.8 L3.4,9.0" stroke="#5ab2e4" stroke-width="1.9" fill="none"/></g><g transform="translate(12,12) rotate(60)"><line x1="0" y1="-10.5" x2="0" y2="10.5" stroke="#5ab2e4" stroke-width="2.2"/><path d="M-3.4,-9.0 L0,-5.8 L3.4,-9.0 M-3.4,9.0 L0,5.8 L3.4,9.0" stroke="#5ab2e4" stroke-width="1.9" fill="none"/></g><g transform="translate(12,12) rotate(120)"><line x1="0" y1="-10.5" x2="0" y2="10.5" stroke="#5ab2e4" stroke-width="2.2"/><path d="M-3.4,-9.0 L0,-5.8 L3.4,-9.0 M-3.4,9.0 L0,5.8 L3.4,9.0" stroke="#5ab2e4" stroke-width="1.9" fill="none"/></g><circle cx="12" cy="12" r="3.1" fill="#5ab2e4"/></svg><span style="margin-left:11px">4.5 cm</span></div>
</div>
<svg class="a" style="left:0;top:0" width="3420" height="1748" viewBox="0 0 3420 1748"><rect x="1805.0" y="655" width="1531.0" height="177" fill="#fff"/><rect x="1805.0" y="655" width="41.0" height="177" fill="#f4f4f4"/><rect x="1929.0" y="655" width="71.0" height="177" fill="#f4f4f4"/><rect x="2083.0" y="655" width="71.0" height="177" fill="#f4f4f4"/><rect x="2237.0" y="655" width="71.0" height="177" fill="#f4f4f4"/><rect x="2391.0" y="655" width="71.0" height="177" fill="#f4f4f4"/><rect x="2545.0" y="655" width="71.0" height="177" fill="#f4f4f4"/><rect x="2699.0" y="655" width="71.0" height="177" fill="#f4f4f4"/><rect x="2853.0" y="655" width="71.0" height="177" fill="#f4f4f4"/><rect x="3007.0" y="655" width="71.0" height="177" fill="#f4f4f4"/><rect x="3161.0" y="655" width="71.0" height="177" fill="#f4f4f4"/><rect x="3315.0" y="655" width="21.0" height="177" fill="#f4f4f4"/><line x1="1959.0" y1="655" x2="1959.0" y2="832" stroke="#e6e6e6" stroke-width="2"/><line x1="2113.0" y1="655" x2="2113.0" y2="832" stroke="#e6e6e6" stroke-width="2"/><line x1="2267.0" y1="655" x2="2267.0" y2="832" stroke="#e6e6e6" stroke-width="2"/><line x1="2421.0" y1="655" x2="2421.0" y2="832" stroke="#e6e6e6" stroke-width="2"/><line x1="2575.0" y1="655" x2="2575.0" y2="832" stroke="#e6e6e6" stroke-width="2"/><line x1="2729.0" y1="655" x2="2729.0" y2="832" stroke="#e6e6e6" stroke-width="2"/><line x1="2883.0" y1="655" x2="2883.0" y2="832" stroke="#e6e6e6" stroke-width="2"/><line x1="3037.0" y1="655" x2="3037.0" y2="832" stroke="#e6e6e6" stroke-width="2"/><line x1="3191.0" y1="655" x2="3191.0" y2="832" stroke="#e6e6e6" stroke-width="2"/><line x1="1805.0" y1="655.0" x2="3336.0" y2="655.0" stroke="#e4e4e4" stroke-width="2.5"/><line x1="1805.0" y1="684.2" x2="3336.0" y2="684.2" stroke="#e4e4e4" stroke-width="2.5"/><line x1="1805.0" y1="722.0" x2="3336.0" y2="722.0" stroke="#e4e4e4" stroke-width="2.5"/><line x1="1805.0" y1="758.7" x2="3336.0" y2="758.7" stroke="#e4e4e4" stroke-width="2.5"/><line x1="1805.0" y1="795.2" x2="3336.0" y2="795.2" stroke="#e4e4e4" stroke-width="2.5"/><line x1="1805.0" y1="831.7" x2="3336.0" y2="831.7" stroke="#e4e4e4" stroke-width="2.5"/><line x1="1805.0" y1="684.2" x2="3336.0" y2="684.2" stroke="#2b5aab" stroke-width="3"/><text x="1793" y="690.2" font-size="17" text-anchor="end" fill="#333" font-family="Liberation Sans, sans-serif">0 C</text><text x="1793" y="728.0" font-size="17" text-anchor="end" fill="#333" font-family="Liberation Sans, sans-serif">-5 C</text><text x="1793" y="764.7" font-size="17" text-anchor="end" fill="#333" font-family="Liberation Sans, sans-serif">-10 C</text><text x="1793" y="801.2" font-size="17" text-anchor="end" fill="#333" font-family="Liberation Sans, sans-serif">-15 C</text><text x="1793" y="837.7" font-size="17" text-anchor="end" fill="#333" font-family="Liberation Sans, sans-serif">-20 C</text><polyline points="1804.3,721.4 1810.9,728.4 1817.1,743.2 1829.5,772.7 1834.9,801.4 1841.9,815.4 1848.9,823.1 1855.1,823.9 1862.1,830.9 1880.7,830.9 1893.2,816.1 1900.2,816.1 1907.1,808.4 1925.8,764.9 1938.2,750.9 1963.8,728.4 1970.8,728.4 1977.0,721.4 1983.2,721.4 1996.4,706.7 2001.9,706.7 2008.9,699.4 2015.1,699.4 2022.0,691.9 2067.1,691.9 2073.3,699.4 2079.5,699.4 2118.3,743.2 2130.7,772.7 2143.2,786.6 2150.2,801.4 2169.6,823.1 2182.0,823.1 2188.2,830.9 2194.4,830.9 2190.0,830.9 2195.4,830.9 2202.4,823.9 2227.3,823.9 2233.5,816.1 2239.7,816.1 2245.9,809.2 2252.9,816.1 2271.5,816.1 2278.5,823.9 2297.1,823.9 2304.1,830.9 2311.1,830.9 2317.3,823.9 2323.5,823.9 2336.0,809.2 2348.4,809.2 2362.4,794.4 2367.8,794.4 2381.0,779.7 2400.4,779.7 2407.4,786.6 2444.7,786.6 2451.6,779.7 2457.9,779.7 2477.3,758.7 2502.9,758.7 2522.3,735.4 2528.5,735.4 2535.5,728.4 2540.9,728.4 2547.9,721.4 2579.8,721.4 2586.7,728.4 2580.0,721.4 2586.2,728.4 2598.6,728.4 2605.6,721.4 2611.8,721.4 2618.8,713.7 2625.0,713.7 2632.0,706.7 2707.3,706.7 2720.5,721.4 2727.5,721.4 2733.7,728.4 2740.7,728.4 2746.9,735.4 2753.1,735.4 2765.6,750.2 2803.6,750.2 2810.6,743.2 2836.2,743.2 2843.2,735.4 2849.4,735.4 2856.4,728.4 2868.8,728.4 2875.0,735.4 2888.2,735.4 2894.4,743.2 2900.7,743.2 2906.9,750.2 2913.1,750.2 2919.3,743.2 2938.7,743.2 2944.9,735.4 2957.3,735.4 2964.3,728.4 2976.7,728.4 2970.0,728.4 2977.0,728.4 2983.2,721.4 2996.4,721.4 3002.6,713.7 3040.7,713.7 3047.6,721.4 3080.2,721.4 3086.5,713.7 3098.9,713.7 3107.4,706.7 3131.5,706.7 3138.5,699.4 3169.5,699.4 3176.5,706.7 3188.9,706.7 3195.2,713.7 3201.4,713.7 3208.4,721.4 3240.2,721.4 3253.4,706.7 3272.0,706.7 3279.0,699.4 3323.3,699.4 3330.2,706.7 3336.5,706.7" fill="none" stroke="#5c9a48" stroke-width="3.2" stroke-linejoin="round"/><polyline points="1804.3,722.2 1823.3,764.9 1841.9,808.4 1855.1,823.1 1862.1,816.9 1874.5,752.5 1880.7,743.2 1887.7,727.6 1893.2,723.0 1912.6,699.4 1918.8,699.4 1925.8,706.7 1938.2,743.2 1957.6,743.2 1964.6,735.4 1976.2,735.4 1990.2,721.4 1995.7,699.7 2001.9,699.4 2008.9,691.9 2015.1,691.9 2022.0,678.0 2028.3,684.2 2047.7,684.2 2054.7,677.2 2060.9,677.2 2067.1,684.2 2074.1,684.2 2092.7,706.7 2098.9,720.7 2105.1,728.4 2111.3,743.2 2118.3,750.9 2124.5,772.7 2130.7,786.6 2137.0,794.4 2143.2,808.4 2163.4,830.9 2182.0,808.4 2188.2,794.4 2200.0,781.2 2190.0,794.4 2207.9,772.7 2227.3,772.7 2233.5,779.7 2239.7,779.7 2245.9,765.7 2252.1,772.7 2265.3,772.7 2272.3,779.7 2278.5,779.7 2285.5,794.4 2297.1,794.4 2304.9,802.2 2311.1,802.2 2317.3,794.4 2329.8,764.9 2336.0,779.7 2343.0,779.7 2349.2,764.9 2355.4,764.9 2362.4,750.2 2387.2,750.2 2393.4,736.2 2419.8,764.9 2457.9,764.9 2469.5,750.9 2477.3,757.1 2502.9,728.4 2509.9,713.7 2515.3,713.7 2522.3,706.7 2528.5,706.7 2535.5,699.4 2541.7,706.7 2560.3,706.7 2567.3,713.7 2579.0,713.7 2580.0,713.7 2592.4,728.4 2604.8,728.4 2612.6,721.4 2631.2,721.4 2650.7,699.4 2656.9,684.2 2663.9,684.2 2670.1,677.2 2688.7,677.2 2728.3,721.4 2734.5,721.4 2740.7,735.4 2746.9,735.4 2759.3,750.2 2778.8,750.2 2785.0,743.2 2791.2,728.4 2798.2,721.4 2804.4,706.7 2810.6,706.7 2816.8,699.4 2823.0,699.4 2830.0,691.9 2836.2,699.4 2848.6,684.9 2855.6,691.9 2861.8,706.7 2893.7,743.2 2900.7,757.9 2938.7,757.9 2951.9,743.2 2958.1,728.4 2964.3,728.4 2970.5,721.4 2970.0,721.4 2990.2,721.4 2996.4,713.7 3003.4,713.7 3009.6,721.4 3046.9,721.4 3054.6,728.4 3086.5,728.4 3118.3,691.9 3143.9,691.9 3150.9,684.5 3175.7,713.7 3188.9,713.7 3201.4,728.4 3207.6,728.4 3214.6,735.4 3240.2,735.4 3246.4,728.4 3253.4,713.7 3286.0,677.2 3297.6,677.2 3324.0,706.7 3330.2,706.7 3336.5,713.7" fill="none" stroke="#a35cb0" stroke-width="3.2" stroke-linejoin="round"/><polyline points="1804.3,699.4 1816.3,713.7 1841.9,772.7 1848.9,779.7 1861.3,779.7 1874.5,750.2 1880.7,743.2 1887.7,727.6 1893.2,723.0 1912.6,699.4 1918.8,699.4 1926.6,706.7 1932.0,706.7 1944.4,720.7 1957.6,720.7 1964.6,713.7 1976.2,713.7 1983.2,706.7 1989.4,706.7 1995.7,699.4 2001.9,699.4 2008.9,691.9 2015.1,691.9 2021.3,677.2 2028.3,669.9 2034.5,669.9 2041.5,662.4 2067.1,662.4 2091.9,691.1 2098.9,691.1 2105.1,706.7 2116.8,720.7 2124.5,736.2 2137.7,750.2 2143.9,764.9 2156.4,779.7 2168.8,779.7 2182.0,764.9 2188.2,750.2 2194.4,750.2 2195.4,750.6 2207.9,735.4 2220.3,735.4 2252.1,772.7 2265.3,772.7 2272.3,779.7 2278.5,779.7 2285.5,794.4 2297.1,794.4 2304.9,802.2 2311.1,802.2 2317.3,794.4 2329.8,764.9 2336.0,757.1 2349.2,728.4 2354.6,728.4 2362.4,721.4 2381.0,721.4 2419.8,764.9 2457.9,764.9 2469.5,750.9 2477.3,735.4 2484.3,727.6 2495.9,699.7 2501.3,691.9 2509.9,684.2 2515.3,684.2 2522.3,677.2 2534.7,677.2 2547.1,691.1 2559.6,691.1 2567.3,699.4 2579.0,699.4 2580.0,699.4 2593.2,713.7 2605.6,713.7 2611.8,706.7 2618.0,706.7 2625.0,699.4 2631.2,699.4 2638.2,691.1 2643.7,677.2 2663.9,654.7 2688.7,654.7 2727.5,699.4 2733.7,699.4 2740.7,713.7 2746.1,713.7 2759.3,728.4 2778.8,728.4 2791.2,713.7 2797.4,699.4 2810.6,684.2 2823.0,684.2 2830.0,677.2 2836.2,684.2 2849.4,684.2 2855.6,691.9 2861.1,691.9 2875.0,706.7 2881.2,706.7 2888.2,713.7 2894.4,713.7 2906.9,728.4 2931.7,728.4 2938.7,721.4 2944.9,721.4 2957.3,706.7 2963.5,706.7 2971.3,699.4 2970.0,699.4 3015.8,699.4 3022.8,706.7 3029.8,699.4 3047.6,699.4 3054.6,706.7 3067.0,706.7 3073.3,699.4 3080.2,706.7 3086.5,699.4 3092.7,699.4 3118.3,669.4 3157.1,669.4 3163.3,684.2 3170.3,684.2 3176.5,691.9 3188.9,691.9 3195.9,699.4 3202.1,699.4 3209.1,706.7 3215.3,706.7 3221.6,713.7 3227.8,706.7 3234.0,713.7 3258.8,684.9 3265.0,669.4 3272.0,669.4 3279.0,662.4 3303.9,662.4 3330.2,691.9 3336.5,691.9" fill="none" stroke="#c83434" stroke-width="3.2" stroke-linejoin="round"/><rect x="2646" y="852" width="35" height="17" fill="#5c9a48"/><text x="2690" y="868" font-size="24" fill="#222" font-family="Liberation Sans, sans-serif">Dew Point (&deg;)</text><rect x="2869" y="852" width="35" height="17" fill="#a35cb0"/><text x="2913" y="868" font-size="24" fill="#222" font-family="Liberation Sans, sans-serif">Feels Like (&deg;C)</text><rect x="3105" y="852" width="35" height="17" fill="#c83434"/><text x="3149" y="868" font-size="24" fill="#222" font-family="Liberation Sans, sans-serif">Temperature (&deg;C)</text><rect x="1805.0" y="887.8" width="1531.0" height="175.70000000000005" fill="#fff"/><rect x="1805.0" y="887.8" width="41.0" height="175.70000000000005" fill="#f4f4f4"/><rect x="1929.0" y="887.8" width="71.0" height="175.70000000000005" fill="#f4f4f4"/><rect x="2083.0" y="887.8" width="71.0" height="175.70000000000005" fill="#f4f4f4"/><rect x="2237.0" y="887.8" width="71.0" height="175.70000000000005" fill="#f4f4f4"/><rect x="2391.0" y="887.8" width="71.0" height="175.70000000000005" fill="#f4f4f4"/><rect x="2545.0" y="887.8" width="71.0" height="175.70000000000005" fill="#f4f4f4"/><rect x="2699.0" y="887.8" width="71.0" height="175.70000000000005" fill="#f4f4f4"/><rect x="2853.0" y="887.8" width="71.0" height="175.70000000000005" fill="#f4f4f4"/><rect x="3007.0" y="887.8" width="71.0" height="175.70000000000005" fill="#f4f4f4"/><rect x="3161.0" y="887.8" width="71.0" height="175.70000000000005" fill="#f4f4f4"/><rect x="3315.0" y="887.8" width="21.0" height="175.70000000000005" fill="#f4f4f4"/><line x1="1959.0" y1="887.8" x2="1959.0" y2="1063.5" stroke="#e6e6e6" stroke-width="2"/><line x1="2113.0" y1="887.8" x2="2113.0" y2="1063.5" stroke="#e6e6e6" stroke-width="2"/><line x1="2267.0" y1="887.8" x2="2267.0" y2="1063.5" stroke="#e6e6e6" stroke-width="2"/><line x1="2421.0" y1="887.8" x2="2421.0" y2="1063.5" stroke="#e6e6e6" stroke-width="2"/><line x1="2575.0" y1="887.8" x2="2575.0" y2="1063.5" stroke="#e6e6e6" stroke-width="2"/><line x1="2729.0" y1="887.8" x2="2729.0" y2="1063.5" stroke="#e6e6e6" stroke-width="2"/><line x1="2883.0" y1="887.8" x2="2883.0" y2="1063.5" stroke="#e6e6e6" stroke-width="2"/><line x1="3037.0" y1="887.8" x2="3037.0" y2="1063.5" stroke="#e6e6e6" stroke-width="2"/><line x1="3191.0" y1="887.8" x2="3191.0" y2="1063.5" stroke="#e6e6e6" stroke-width="2"/><line x1="1805.0" y1="887.8" x2="3336.0" y2="887.8" stroke="#e4e4e4" stroke-width="2.5"/><line x1="1805.0" y1="931.8" x2="3336.0" y2="931.8" stroke="#e4e4e4" stroke-width="2.5"/><line x1="1805.0" y1="976.0" x2="3336.0" y2="976.0" stroke="#e4e4e4" stroke-width="2.5"/><line x1="1805.0" y1="1020.5" x2="3336.0" y2="1020.5" stroke="#e4e4e4" stroke-width="2.5"/><line x1="1805.0" y1="1063.5" x2="3336.0" y2="1063.5" stroke="#e4e4e4" stroke-width="2.5"/><polygon points="1861.3,1063.2 1861.3,946.8 1874.5,901.7 1887.7,920.4 1897.8,916.5 1907.1,903.3 1919.6,889.3 1932.0,889.3 1939.8,887.0 1988.7,887.0 2001.9,890.9 2008.9,906.4 2017.4,900.2 2028.3,890.9 2034.5,892.4 2041.5,903.3 2048.4,899.4 2054.7,887.0 2060.9,890.9 2067.1,887.0 2079.5,898.6 2086.5,915.7 2092.7,894.8 2098.9,897.9 2105.1,918.8 2112.1,906.4 2117.5,945.2 2123.8,936.7 2131.5,949.1 2137.7,988.7 2143.9,1004.2 2150.2,1007.3 2163.4,1043.0 2169.6,1043.8 2182.0,1059.3 2188.2,1058.6 2190.0,1057.0 2196.2,1043.0 2201.6,1004.2 2207.1,954.5 2214.8,970.1 2221.1,943.7 2227.3,942.1 2239.7,917.3 2247.5,918.0 2264.5,909.5 2272.3,918.0 2278.5,915.7 2291.7,932.8 2297.9,974.7 2311.1,998.0 2326.6,1001.9 2336.0,999.6 2343.0,963.9 2355.4,940.6 2372.5,914.2 2379.4,918.8 2388.0,929.7 2393.4,928.1 2406.6,960.7 2412.8,959.2 2426.0,934.3 2440.0,927.4 2445.4,928.1 2451.6,936.7 2458.6,936.7 2472.6,939.8 2480.4,939.8 2488.9,938.2 2514.5,912.6 2525.4,910.3 2531.6,911.1 2539.4,926.6 2548.7,932.8 2567.3,908.0 2580.0,904.8 2597.1,898.6 2605.6,887.0 2611.8,887.0 2618.0,895.5 2624.3,887.0 2637.5,887.0 2643.7,901.0 2654.5,905.6 2664.6,911.1 2673.2,921.9 2682.5,935.1 2704.2,935.1 2716.6,942.1 2724.4,949.9 2735.3,970.1 2746.1,978.6 2783.4,968.5 2795.8,956.1 2803.6,953.8 2816.0,953.0 2824.6,951.4 2836.2,950.7 2844.0,942.1 2856.4,925.8 2870.4,923.5 2880.5,918.8 2888.2,914.9 2895.2,903.3 2900.7,887.0 2924.7,887.0 2933.3,904.8 2946.5,904.8 2952.7,910.3 2969.8,910.3 2970.0,910.3 2990.2,907.2 2998.0,908.7 3041.4,908.7 3048.4,887.0 3067.0,887.0 3074.0,910.3 3088.0,913.4 3098.9,910.3 3129.9,910.3 3139.3,912.6 3150.1,912.6 3161.0,914.2 3182.7,917.3 3190.5,924.3 3201.4,935.1 3216.9,935.1 3222.3,922.7 3228.5,922.7 3234.0,938.2 3251.1,938.2 3265.0,939.8 3274.3,943.7 3293.0,943.7 3297.6,922.7 3307.0,922.7 3311.6,929.7 3317.0,956.9 3324.0,929.7 3327.1,929.7 3336.5,932.0 3336.0,932.0 3336.0,1063.5" fill="#dcdcdc" fill-opacity="0.85"/><polyline points="1861.3,946.8 1874.5,901.7 1887.7,920.4 1897.8,916.5 1907.1,903.3 1919.6,889.3 1932.0,889.3 1939.8,887.0 1988.7,887.0 2001.9,890.9 2008.9,906.4 2017.4,900.2 2028.3,890.9 2034.5,892.4 2041.5,903.3 2048.4,899.4 2054.7,887.0 2060.9,890.9 2067.1,887.0 2079.5,898.6 2086.5,915.7 2092.7,894.8 2098.9,897.9 2105.1,918.8 2112.1,906.4 2117.5,945.2 2123.8,936.7 2131.5,949.1 2137.7,988.7 2143.9,1004.2 2150.2,1007.3 2163.4,1043.0 2169.6,1043.8 2182.0,1059.3 2188.2,1058.6 2190.0,1057.0 2196.2,1043.0 2201.6,1004.2 2207.1,954.5 2214.8,970.1 2221.1,943.7 2227.3,942.1 2239.7,917.3 2247.5,918.0 2264.5,909.5 2272.3,918.0 2278.5,915.7 2291.7,932.8 2297.9,974.7 2311.1,998.0 2326.6,1001.9 2336.0,999.6 2343.0,963.9 2355.4,940.6 2372.5,914.2 2379.4,918.8 2388.0,929.7 2393.4,928.1 2406.6,960.7 2412.8,959.2 2426.0,934.3 2440.0,927.4 2445.4,928.1 2451.6,936.7 2458.6,936.7 2472.6,939.8 2480.4,939.8 2488.9,938.2 2514.5,912.6 2525.4,910.3 2531.6,911.1 2539.4,926.6 2548.7,932.8 2567.3,908.0 2580.0,904.8 2597.1,898.6 2605.6,887.0 2611.8,887.0 2618.0,895.5 2624.3,887.0 2637.5,887.0 2643.7,901.0 2654.5,905.6 2664.6,911.1 2673.2,921.9 2682.5,935.1 2704.2,935.1 2716.6,942.1 2724.4,949.9 2735.3,970.1 2746.1,978.6 2783.4,968.5 2795.8,956.1 2803.6,953.8 2816.0,953.0 2824.6,951.4 2836.2,950.7 2844.0,942.1 2856.4,925.8 2870.4,923.5 2880.5,918.8 2888.2,914.9 2895.2,903.3 2900.7,887.0 2924.7,887.0 2933.3,904.8 2946.5,904.8 2952.7,910.3 2969.8,910.3 2970.0,910.3 2990.2,907.2 2998.0,908.7 3041.4,908.7 3048.4,887.0 3067.0,887.0 3074.0,910.3 3088.0,913.4 3098.9,910.3 3129.9,910.3 3139.3,912.6 3150.1,912.6 3161.0,914.2 3182.7,917.3 3190.5,924.3 3201.4,935.1 3216.9,935.1 3222.3,922.7 3228.5,922.7 3234.0,938.2 3251.1,938.2 3265.0,939.8 3274.3,943.7 3293.0,943.7 3297.6,922.7 3307.0,922.7 3311.6,929.7 3317.0,956.9 3324.0,929.7 3327.1,929.7 3336.5,932.0 3336.0,932.0" fill="none" stroke="#a8a8a8" stroke-width="1.5"/><defs><clipPath id="snowclip"><rect x="1932.8" y="880" width="76.1" height="190"/><rect x="2118.3" y="880" width="383.8" height="190"/><rect x="2579.8" y="880" width="77.1" height="190"/><rect x="2746.9" y="880" width="38.0" height="190"/><rect x="2856.4" y="880" width="108.7" height="190"/><rect x="3048.4" y="880" width="18.6" height="190"/><rect x="3086.5" y="880" width="250.0" height="190"/></clipPath></defs><polygon points="1861.3,1063.5 1861.3,1061.7 1874.5,1063.2 1893.2,1063.2 1900.9,1061.4 1912.6,1061.4 1924.2,1041.5 1928.9,988.7 1933.5,926.6 1938.2,908.7 1945.2,903.3 1952.2,907.2 1963.8,920.4 1970.8,925.8 1977.0,904.1 1984.0,910.3 1991.0,928.1 1996.4,946.8 2002.6,994.9 2008.9,1002.7 2015.1,1020.5 2022.0,1024.4 2028.3,1031.4 2034.5,1020.5 2040.7,1044.6 2047.7,1034.5 2054.7,999.6 2060.9,1020.5 2067.1,1021.3 2073.3,1027.5 2079.5,1042.3 2091.9,1042.3 2098.9,1038.4 2105.9,1050.8 2118.3,1052.4 2126.1,1054.7 2155.6,1054.7 2163.4,1057.0 2182.0,1060.9 2190.0,1060.9 2221.1,1060.9 2233.5,1054.7 2241.2,1057.8 2253.7,1056.2 2283.2,1054.7 2298.7,1056.2 2304.9,1054.7 2317.3,1056.2 2329.8,1060.9 2337.5,1051.6 2353.0,1041.5 2368.6,1033.7 2381.0,1046.9 2387.2,1045.4 2393.4,1036.8 2426.0,1036.8 2433.8,1033.0 2444.7,1031.4 2452.4,1042.3 2464.8,1042.3 2471.1,1052.4 2483.5,1054.7 2489.7,1060.9 2502.1,1060.9 2509.9,1054.7 2522.3,1053.1 2528.5,1054.7 2540.9,1050.8 2553.4,1032.2 2565.8,1033.0 2579.8,1008.9 2585.2,982.5 2580.0,1008.9 2587.0,983.3 2600.2,971.6 2605.6,946.8 2618.0,951.4 2625.0,943.7 2638.2,958.4 2644.4,977.0 2656.9,975.5 2663.1,1020.5 2669.3,1021.3 2677.0,1033.0 2682.5,1033.7 2702.7,1026.0 2713.5,1028.3 2721.3,1036.8 2729.1,1035.3 2741.5,1036.8 2752.4,1034.5 2760.1,1025.2 2771.0,1024.4 2780.3,1020.5 2791.2,1022.9 2798.9,1035.3 2814.5,1039.2 2828.4,1035.3 2837.8,1027.5 2848.6,1021.3 2856.4,987.1 2868.8,984.0 2875.0,985.6 2887.5,983.3 2893.7,956.1 2899.9,954.5 2913.1,946.8 2935.6,948.3 2944.9,952.2 2951.1,980.9 2960.4,980.9 2968.2,968.5 2970.0,969.3 2982.4,967.0 2998.0,956.9 3002.6,956.1 3010.4,957.6 3080.2,957.6 3086.5,976.3 3105.1,984.0 3118.3,994.9 3129.9,994.9 3137.7,992.6 3144.7,998.0 3151.7,996.5 3164.1,996.5 3176.5,992.6 3195.2,991.0 3202.1,977.0 3214.6,977.0 3221.6,973.9 3235.5,977.0 3240.2,977.0 3272.8,985.6 3279.0,989.5 3291.4,989.5 3297.6,975.5 3310.8,971.6 3317.0,998.0 3329.5,994.1 3336.5,979.4 3336.0,979.4 3336.0,1063.5" fill="#a9d3e6" fill-opacity="0.85"/><polygon points="1861.3,1063.5 1861.3,1061.7 1874.5,1063.2 1893.2,1063.2 1900.9,1061.4 1912.6,1061.4 1924.2,1041.5 1928.9,988.7 1933.5,926.6 1938.2,908.7 1945.2,903.3 1952.2,907.2 1963.8,920.4 1970.8,925.8 1977.0,904.1 1984.0,910.3 1991.0,928.1 1996.4,946.8 2002.6,994.9 2008.9,1002.7 2015.1,1020.5 2022.0,1024.4 2028.3,1031.4 2034.5,1020.5 2040.7,1044.6 2047.7,1034.5 2054.7,999.6 2060.9,1020.5 2067.1,1021.3 2073.3,1027.5 2079.5,1042.3 2091.9,1042.3 2098.9,1038.4 2105.9,1050.8 2118.3,1052.4 2126.1,1054.7 2155.6,1054.7 2163.4,1057.0 2182.0,1060.9 2190.0,1060.9 2221.1,1060.9 2233.5,1054.7 2241.2,1057.8 2253.7,1056.2 2283.2,1054.7 2298.7,1056.2 2304.9,1054.7 2317.3,1056.2 2329.8,1060.9 2337.5,1051.6 2353.0,1041.5 2368.6,1033.7 2381.0,1046.9 2387.2,1045.4 2393.4,1036.8 2426.0,1036.8 2433.8,1033.0 2444.7,1031.4 2452.4,1042.3 2464.8,1042.3 2471.1,1052.4 2483.5,1054.7 2489.7,1060.9 2502.1,1060.9 2509.9,1054.7 2522.3,1053.1 2528.5,1054.7 2540.9,1050.8 2553.4,1032.2 2565.8,1033.0 2579.8,1008.9 2585.2,982.5 2580.0,1008.9 2587.0,983.3 2600.2,971.6 2605.6,946.8 2618.0,951.4 2625.0,943.7 2638.2,958.4 2644.4,977.0 2656.9,975.5 2663.1,1020.5 2669.3,1021.3 2677.0,1033.0 2682.5,1033.7 2702.7,1026.0 2713.5,1028.3 2721.3,1036.8 2729.1,1035.3 2741.5,1036.8 2752.4,1034.5 2760.1,1025.2 2771.0,1024.4 2780.3,1020.5 2791.2,1022.9 2798.9,1035.3 2814.5,1039.2 2828.4,1035.3 2837.8,1027.5 2848.6,1021.3 2856.4,987.1 2868.8,984.0 2875.0,985.6 2887.5,983.3 2893.7,956.1 2899.9,954.5 2913.1,946.8 2935.6,948.3 2944.9,952.2 2951.1,980.9 2960.4,980.9 2968.2,968.5 2970.0,969.3 2982.4,967.0 2998.0,956.9 3002.6,956.1 3010.4,957.6 3080.2,957.6 3086.5,976.3 3105.1,984.0 3118.3,994.9 3129.9,994.9 3137.7,992.6 3144.7,998.0 3151.7,996.5 3164.1,996.5 3176.5,992.6 3195.2,991.0 3202.1,977.0 3214.6,977.0 3221.6,973.9 3235.5,977.0 3240.2,977.0 3272.8,985.6 3279.0,989.5 3291.4,989.5 3297.6,975.5 3310.8,971.6 3317.0,998.0 3329.5,994.1 3336.5,979.4 3336.0,979.4 3336.0,1063.5" fill="#b6b5d6" clip-path="url(#snowclip)"/><polyline points="1861.3,1061.7 1874.5,1063.2 1893.2,1063.2 1900.9,1061.4 1912.6,1061.4 1924.2,1041.5 1928.9,988.7 1933.5,926.6 1938.2,908.7 1945.2,903.3 1952.2,907.2 1963.8,920.4 1970.8,925.8 1977.0,904.1 1984.0,910.3 1991.0,928.1 1996.4,946.8 2002.6,994.9 2008.9,1002.7 2015.1,1020.5 2022.0,1024.4 2028.3,1031.4 2034.5,1020.5 2040.7,1044.6 2047.7,1034.5 2054.7,999.6 2060.9,1020.5 2067.1,1021.3 2073.3,1027.5 2079.5,1042.3 2091.9,1042.3 2098.9,1038.4 2105.9,1050.8 2118.3,1052.4 2126.1,1054.7 2155.6,1054.7 2163.4,1057.0 2182.0,1060.9 2190.0,1060.9 2221.1,1060.9 2233.5,1054.7 2241.2,1057.8 2253.7,1056.2 2283.2,1054.7 2298.7,1056.2 2304.9,1054.7 2317.3,1056.2 2329.8,1060.9 2337.5,1051.6 2353.0,1041.5 2368.6,1033.7 2381.0,1046.9 2387.2,1045.4 2393.4,1036.8 2426.0,1036.8 2433.8,1033.0 2444.7,1031.4 2452.4,1042.3 2464.8,1042.3 2471.1,1052.4 2483.5,1054.7 2489.7,1060.9 2502.1,1060.9 2509.9,1054.7 2522.3,1053.1 2528.5,1054.7 2540.9,1050.8 2553.4,1032.2 2565.8,1033.0 2579.8,1008.9 2585.2,982.5 2580.0,1008.9 2587.0,983.3 2600.2,971.6 2605.6,946.8 2618.0,951.4 2625.0,943.7 2638.2,958.4 2644.4,977.0 2656.9,975.5 2663.1,1020.5 2669.3,1021.3 2677.0,1033.0 2682.5,1033.7 2702.7,1026.0 2713.5,1028.3 2721.3,1036.8 2729.1,1035.3 2741.5,1036.8 2752.4,1034.5 2760.1,1025.2 2771.0,1024.4 2780.3,1020.5 2791.2,1022.9 2798.9,1035.3 2814.5,1039.2 2828.4,1035.3 2837.8,1027.5 2848.6,1021.3 2856.4,987.1 2868.8,984.0 2875.0,985.6 2887.5,983.3 2893.7,956.1 2899.9,954.5 2913.1,946.8 2935.6,948.3 2944.9,952.2 2951.1,980.9 2960.4,980.9 2968.2,968.5 2970.0,969.3 2982.4,967.0 2998.0,956.9 3002.6,956.1 3010.4,957.6 3080.2,957.6 3086.5,976.3 3105.1,984.0 3118.3,994.9 3129.9,994.9 3137.7,992.6 3144.7,998.0 3151.7,996.5 3164.1,996.5 3176.5,992.6 3195.2,991.0 3202.1,977.0 3214.6,977.0 3221.6,973.9 3235.5,977.0 3240.2,977.0 3272.8,985.6 3279.0,989.5 3291.4,989.5 3297.6,975.5 3310.8,971.6 3317.0,998.0 3329.5,994.1 3336.5,979.4" fill="none" stroke="#5aaad8" stroke-width="1.8"/><line x1="1805.0" y1="931.8" x2="3336.0" y2="931.8" stroke="#c8c8c8" stroke-opacity="0.5" stroke-width="2"/><line x1="1805.0" y1="976.0" x2="3336.0" y2="976.0" stroke="#c8c8c8" stroke-opacity="0.5" stroke-width="2"/><line x1="1805.0" y1="1020.5" x2="3336.0" y2="1020.5" stroke="#c8c8c8" stroke-opacity="0.5" stroke-width="2"/><polyline points="1804.3,926.6 1810.1,925.8 1816.3,946.8 1823.3,949.1 1829.5,939.8 1835.7,953.8 1841.9,954.5 1848.9,950.7 1854.3,954.5 1861.3,963.9 1873.8,990.2 1887.0,1002.7 1899.4,1007.3 1907.1,1004.2 1918.0,988.7 1928.9,963.9 1938.2,940.6 1949.1,925.0 1964.6,913.4 1970.8,913.4 2001.9,897.9 2008.1,899.4 2015.8,904.1 2034.5,921.9 2053.9,936.7 2067.1,932.0 2081.8,925.8 2091.9,924.3 2098.9,928.1 2106.7,922.7 2112.1,921.1 2118.3,928.1 2126.1,931.2 2135.4,929.7 2157.1,942.1 2169.6,960.7 2188.2,987.1 2194.4,989.5 2190.0,987.1 2196.2,988.7 2205.5,994.1 2221.1,994.1 2227.3,988.7 2241.2,968.5 2253.7,954.5 2259.9,954.5 2279.3,948.3 2286.3,941.3 2297.1,941.3 2304.9,936.7 2311.1,936.7 2317.3,940.6 2329.8,964.6 2339.1,973.2 2349.9,986.4 2362.4,986.4 2376.3,978.6 2395.0,950.7 2404.3,942.1 2413.6,929.7 2424.5,925.8 2432.2,918.8 2444.7,918.8 2458.6,911.8 2464.8,913.4 2471.1,911.8 2477.3,921.9 2494.3,963.9 2508.3,973.9 2517.6,971.6 2536.3,956.9 2547.1,937.5 2558.0,931.2 2573.5,920.4 2580.0,921.1 2598.6,911.8 2611.1,910.3 2618.8,904.8 2631.2,904.8 2639.0,915.7 2645.2,931.2 2657.6,948.3 2670.1,958.4 2676.3,956.1 2682.5,957.6 2691.8,949.9 2702.7,935.1 2707.3,935.1 2715.1,929.7 2720.5,932.8 2729.1,925.8 2741.5,921.1 2746.1,921.1 2753.1,915.7 2757.0,916.5 2767.9,922.7 2775.7,925.0 2785.0,932.8 2791.2,946.8 2803.6,967.0 2817.6,971.6 2830.0,973.9 2844.0,963.1 2856.4,941.3 2861.1,942.1 2868.8,937.5 2881.2,929.7 2890.6,928.9 2906.1,919.6 2912.3,921.1 2920.1,917.3 2944.9,917.3 2957.3,933.6 2965.1,929.7 2970.0,929.7 2977.0,934.3 2994.8,925.8 3002.6,921.1 3009.6,911.8 3015.0,911.8 3022.8,908.7 3035.2,911.8 3041.4,911.8 3048.4,915.7 3054.6,908.0 3060.8,910.3 3067.0,908.0 3074.0,913.4 3080.2,908.0 3092.7,911.8 3106.6,929.7 3117.5,936.7 3125.3,934.3 3131.5,939.8 3139.3,934.3 3143.9,934.3 3150.9,932.8 3162.5,915.7 3170.3,911.8 3185.8,913.4 3195.2,913.4 3202.9,910.3 3214.6,910.3 3221.6,906.4 3227.8,910.3 3234.0,903.3 3246.4,911.1 3258.8,921.9 3266.6,934.3 3285.2,945.2 3291.4,943.7 3297.6,943.7 3305.4,934.3 3316.3,918.8 3324.0,910.3 3330.2,908.0 3336.5,904.8" fill="none" stroke="#8dc43f" stroke-width="3.2" stroke-linejoin="round"/><path d="M1804.3,947.5 C1807.2,943.8 1817.0,930.5 1821.7,925.0 C1826.4,919.6 1828.2,919.2 1832.6,914.9 C1837.0,910.7 1844.5,902.4 1848.1,899.4 C1851.8,896.4 1851.2,897.7 1854.3,897.1 C1857.5,896.4 1863.4,895.1 1866.8,895.5 C1870.1,895.9 1871.2,897.0 1874.5,899.4 C1877.9,901.9 1882.6,905.8 1887.0,910.3 C1891.4,914.8 1896.0,920.8 1900.9,926.6 C1905.8,932.4 1911.8,940.3 1916.5,945.2 C1921.1,950.1 1925.5,953.5 1928.9,956.1 C1932.2,958.7 1934.1,958.4 1936.6,960.7 C1939.2,963.1 1941.3,965.9 1944.4,970.1 C1947.5,974.2 1952.2,980.9 1955.3,985.6 C1958.4,990.2 1960.2,992.8 1963.0,998.0 C1965.9,1003.2 1969.3,1010.7 1972.4,1016.6 C1975.5,1022.6 1978.7,1028.3 1981.7,1033.7 C1984.7,1039.2 1987.1,1045.5 1990.2,1049.3 C1993.3,1053.0 1996.4,1054.6 2000.3,1056.2 C2004.2,1057.9 2009.6,1059.2 2013.5,1059.3 C2017.4,1059.5 2020.4,1058.2 2023.6,1057.0 C2026.8,1055.9 2029.8,1053.7 2032.9,1052.4 C2036.0,1051.1 2038.6,1050.9 2042.2,1049.3 C2045.9,1047.6 2050.5,1044.5 2054.7,1042.3 C2058.8,1040.1 2062.7,1038.8 2067.1,1036.1 C2071.5,1033.3 2075.9,1030.0 2081.1,1026.0 C2086.2,1022.0 2093.9,1014.8 2098.1,1012.0 C2102.4,1009.1 2103.4,1011.2 2106.7,1008.9 C2109.9,1006.6 2113.5,1002.2 2117.5,998.0 C2121.6,993.9 2126.2,989.1 2130.7,984.0 C2135.3,979.0 2140.3,973.7 2144.7,967.7 C2149.1,961.8 2153.0,953.6 2157.1,948.3 C2161.3,943.0 2165.7,938.9 2169.6,935.9 C2173.4,932.9 2177.0,931.4 2180.4,930.5 C2183.8,929.6 2185.8,930.3 2190.0,930.5 C2194.2,930.6 2200.4,930.7 2205.5,931.2 C2210.7,931.8 2216.7,934.3 2221.1,933.6 C2225.5,932.8 2227.8,929.6 2231.9,926.6 C2236.1,923.6 2240.5,918.8 2245.9,915.7 C2251.3,912.6 2258.3,910.0 2264.5,908.0 C2270.7,905.9 2277.5,904.8 2283.2,903.3 C2288.9,901.7 2293.0,900.6 2298.7,898.6 C2304.4,896.7 2312.4,892.9 2317.3,891.6 C2322.2,890.4 2324.6,890.5 2328.2,890.9 C2331.8,891.3 2335.2,892.2 2339.1,894.0 C2343.0,895.8 2347.6,899.3 2351.5,901.7 C2355.4,904.2 2358.5,906.9 2362.4,908.7 C2366.2,910.5 2370.4,912.5 2374.8,912.6 C2379.2,912.7 2383.3,911.2 2388.8,909.5 C2394.2,907.8 2401.7,904.3 2407.4,902.5 C2413.1,900.7 2416.2,899.9 2422.9,898.6 C2429.6,897.3 2442.1,895.8 2447.8,894.8 C2453.5,893.7 2453.2,893.2 2457.1,892.4 C2461.0,891.6 2466.9,890.1 2471.1,890.1 C2475.2,890.1 2478.0,890.7 2481.9,892.4 C2485.8,894.1 2489.7,896.7 2494.3,900.2 C2499.0,903.7 2504.7,909.5 2509.9,913.4 C2515.1,917.3 2519.5,920.2 2525.4,923.5 C2531.4,926.7 2539.4,929.8 2545.6,932.8 C2551.8,935.8 2557.5,938.2 2562.7,941.3 C2567.8,944.4 2571.2,947.4 2576.6,951.4 C2582.1,955.4 2589.8,960.7 2595.5,965.4 C2601.3,970.1 2604.6,974.7 2611.1,979.4 C2617.5,984.0 2626.6,989.0 2634.3,993.4 C2642.1,997.8 2651.7,1003.4 2657.6,1005.8 C2663.6,1008.1 2666.2,1007.5 2670.1,1007.3 C2673.9,1007.2 2677.3,1006.8 2680.9,1005.0 C2684.6,1003.2 2685.3,1002.3 2691.8,996.5 C2698.3,990.6 2711.2,977.8 2719.8,970.1 C2728.3,962.3 2735.9,955.8 2743.0,949.9 C2750.2,943.9 2756.5,939.3 2762.5,934.3 C2768.4,929.4 2774.7,921.9 2778.8,920.4 C2782.8,918.8 2783.4,924.3 2786.5,925.0 C2789.6,925.8 2793.5,924.6 2797.4,925.0 C2801.3,925.4 2803.3,925.4 2809.8,927.4 C2816.3,929.3 2827.9,935.4 2836.2,936.7 C2844.5,938.0 2853.6,935.0 2859.5,935.1 C2865.5,935.3 2868.0,936.0 2871.9,937.5 C2875.8,938.9 2878.4,941.1 2882.8,943.7 C2887.2,946.3 2893.1,949.6 2898.3,953.0 C2903.5,956.3 2907.4,960.2 2913.9,963.9 C2920.3,967.5 2929.4,970.8 2937.1,974.7 C2944.9,978.6 2951.6,983.5 2960.4,987.1 C2969.3,990.8 2982.1,995.0 2990.2,996.5 C2998.3,997.9 3002.3,995.3 3008.8,995.7 C3015.3,996.1 3022.5,998.0 3029.0,998.8 C3035.5,999.6 3043.0,1000.5 3047.6,1000.3 C3052.3,1000.2 3051.8,1000.2 3057.0,998.0 C3062.1,995.8 3072.5,990.0 3078.7,987.1 C3084.9,984.3 3087.8,983.3 3094.2,980.9 C3100.7,978.6 3111.6,975.2 3117.5,973.2 C3123.5,971.1 3125.5,970.6 3129.9,968.5 C3134.3,966.4 3139.5,963.6 3143.9,960.7 C3148.3,957.9 3152.2,954.3 3156.3,951.4 C3160.5,948.6 3164.1,945.9 3168.8,943.7 C3173.4,941.5 3178.6,939.9 3184.3,938.2 C3190.0,936.5 3196.2,934.6 3202.9,933.6 C3209.6,932.5 3216.9,932.9 3224.7,932.0 C3232.4,931.1 3242.0,929.0 3249.5,928.1 C3257.0,927.2 3262.4,927.4 3269.7,926.6 C3276.9,925.8 3286.5,924.6 3293.0,923.5 C3299.5,922.3 3304.5,920.1 3308.5,919.6 C3312.5,919.1 3315.6,920.2 3317.0,920.4 L3323.3,938.2 L3330.2,936.7 L3336.5,936.7" fill="none" stroke="#222" stroke-width="3.2" stroke-linejoin="round"/><text x="1793" y="893.8" font-size="17" text-anchor="end" fill="#333" font-family="Liberation Sans, sans-serif">100%</text><text x="1793" y="937.8" font-size="17" text-anchor="end" fill="#333" font-family="Liberation Sans, sans-serif">75%</text><text x="1793" y="982.0" font-size="17" text-anchor="end" fill="#333" font-family="Liberation Sans, sans-serif">50%</text><text x="1793" y="1026.5" font-size="17" text-anchor="end" fill="#333" font-family="Liberation Sans, sans-serif">25%</text><text x="1793" y="1069.5" font-size="17" text-anchor="end" fill="#333" font-family="Liberation Sans, sans-serif">0%</text><text x="3348" y="893.8" font-size="17" text-anchor="start" fill="#333" font-family="Liberation Sans, sans-serif">1032.00</text><text x="3348" y="937.8" font-size="17" text-anchor="start" fill="#333" font-family="Liberation Sans, sans-serif">1025.00</text><text x="3348" y="982.0" font-size="17" text-anchor="start" fill="#333" font-family="Liberation Sans, sans-serif">1018.00</text><text x="3348" y="1026.5" font-size="17" text-anchor="start" fill="#333" font-family="Liberation Sans, sans-serif">1011.00</text><text x="3348" y="1069.5" font-size="17" text-anchor="start" fill="#333" font-family="Liberation Sans, sans-serif">1004.00</text><rect x="2037" y="1083" width="35" height="17" fill="#a6a6a6"/><text x="2082" y="1099" font-size="24" fill="#222" font-family="Liberation Sans, sans-serif">Cloud Cover (%)</text><rect x="2292" y="1083" width="35" height="17" fill="#4aa3dc"/><text x="2336" y="1099" font-size="24" fill="#222" font-family="Liberation Sans, sans-serif">Chance of Precip. (%)</text><rect x="2606" y="1083" width="35" height="17" fill="#c9a0d2" stroke="#4aa3dc" stroke-width="2.5"/><text x="2650" y="1099" font-size="24" fill="#222" font-family="Liberation Sans, sans-serif">Chance of Snow (%)</text><rect x="2905" y="1083" width="35" height="17" fill="#8dc43f"/><text x="2949" y="1099" font-size="24" fill="#222" font-family="Liberation Sans, sans-serif">Humidity (%)</text><rect x="3124" y="1083" width="35" height="17" fill="#222327"/><text x="3168" y="1099" font-size="24" fill="#222" font-family="Liberation Sans, sans-serif">Pressure. (hPa)</text><rect x="1805.0" y="1117.4" width="1531.0" height="176.29999999999995" fill="#fff"/><rect x="1805.0" y="1117.4" width="41.0" height="176.29999999999995" fill="#f4f4f4"/><rect x="1929.0" y="1117.4" width="71.0" height="176.29999999999995" fill="#f4f4f4"/><rect x="2083.0" y="1117.4" width="71.0" height="176.29999999999995" fill="#f4f4f4"/><rect x="2237.0" y="1117.4" width="71.0" height="176.29999999999995" fill="#f4f4f4"/><rect x="2391.0" y="1117.4" width="71.0" height="176.29999999999995" fill="#f4f4f4"/><rect x="2545.0" y="1117.4" width="71.0" height="176.29999999999995" fill="#f4f4f4"/><rect x="2699.0" y="1117.4" width="71.0" height="176.29999999999995" fill="#f4f4f4"/><rect x="2853.0" y="1117.4" width="71.0" height="176.29999999999995" fill="#f4f4f4"/><rect x="3007.0" y="1117.4" width="71.0" height="176.29999999999995" fill="#f4f4f4"/><rect x="3161.0" y="1117.4" width="71.0" height="176.29999999999995" fill="#f4f4f4"/><rect x="3315.0" y="1117.4" width="21.0" height="176.29999999999995" fill="#f4f4f4"/><line x1="1959.0" y1="1117.4" x2="1959.0" y2="1293.7" stroke="#e6e6e6" stroke-width="2"/><line x1="2113.0" y1="1117.4" x2="2113.0" y2="1293.7" stroke="#e6e6e6" stroke-width="2"/><line x1="2267.0" y1="1117.4" x2="2267.0" y2="1293.7" stroke="#e6e6e6" stroke-width="2"/><line x1="2421.0" y1="1117.4" x2="2421.0" y2="1293.7" stroke="#e6e6e6" stroke-width="2"/><line x1="2575.0" y1="1117.4" x2="2575.0" y2="1293.7" stroke="#e6e6e6" stroke-width="2"/><line x1="2729.0" y1="1117.4" x2="2729.0" y2="1293.7" stroke="#e6e6e6" stroke-width="2"/><line x1="2883.0" y1="1117.4" x2="2883.0" y2="1293.7" stroke="#e6e6e6" stroke-width="2"/><line x1="3037.0" y1="1117.4" x2="3037.0" y2="1293.7" stroke="#e6e6e6" stroke-width="2"/><line x1="3191.0" y1="1117.4" x2="3191.0" y2="1293.7" stroke="#e6e6e6" stroke-width="2"/><line x1="1805.0" y1="1117.4" x2="3336.0" y2="1117.4" stroke="#e4e4e4" stroke-width="2.5"/><line x1="1805.0" y1="1206.2" x2="3336.0" y2="1206.2" stroke="#e4e4e4" stroke-width="2.5"/><line x1="1805.0" y1="1293.7" x2="3336.0" y2="1293.7" stroke="#e4e4e4" stroke-width="2.5"/><polygon points="1861.9,1293.7 1861.9,1293.0 1926.0,1293.0 1938.7,1151.8 1944.4,1143.4 1951.4,1136.1 1958.0,1170.1 1964.4,1188.5 1970.4,1177.5 1977.1,1141.1 1983.7,1143.4 1990.4,1196.8 1996.4,1231.9 2002.1,1260.3 2008.8,1277.0 2015.5,1293.0 2047.2,1293.0 2053.9,1258.6 2060.5,1293.0 2573.0,1293.0 2560.0,1293.0 2573.4,1293.0 2580.0,1277.0 2586.7,1240.2 2593.4,1222.9 2600.1,1222.9 2606.7,1205.2 2611.7,1205.2 2619.4,1223.5 2625.1,1205.2 2631.8,1205.2 2638.5,1213.5 2644.1,1241.9 2656.8,1205.2 2663.5,1293.0 2849.8,1293.0 2855.5,1257.9 2887.2,1257.9 2893.9,1223.5 2900.5,1216.9 2908.9,1206.8 2913.9,1206.2 2920.6,1189.5 2926.6,1187.5 2932.9,1222.9 2940.6,1222.9 2946.6,1224.5 2952.3,1240.2 2964.0,1240.2 2972.3,1238.6 2983.3,1238.6 2990.0,1205.2 2995.7,1200.2 3003.4,1187.5 3010.0,1223.5 3016.7,1206.8 3023.4,1196.8 3029.1,1150.1 3035.7,1135.1 3042.4,1129.4 3050.1,1153.4 3067.5,1205.2 3080.1,1205.2 3086.8,1240.2 3099.2,1240.2 3105.9,1205.2 3118.2,1205.2 3124.9,1189.5 3131.6,1205.2 3138.2,1205.2 3144.2,1246.9 3150.9,1257.9 3196.0,1257.9 3202.7,1222.9 3214.4,1222.9 3221.0,1217.9 3234.4,1217.9 3241.1,1240.2 3272.8,1240.2 3279.5,1251.9 3286.1,1257.9 3291.8,1257.9 3298.5,1240.2 3311.2,1240.2 3317.2,1257.9 3336.2,1257.9 3336.0,1293.7" fill="#d3e0c8" fill-opacity="0.85"/><polyline points="1861.9,1293.0 1926.0,1293.0 1938.7,1151.8 1944.4,1143.4 1951.4,1136.1 1958.0,1170.1 1964.4,1188.5 1970.4,1177.5 1977.1,1141.1 1983.7,1143.4 1990.4,1196.8 1996.4,1231.9 2002.1,1260.3 2008.8,1277.0 2015.5,1293.0 2047.2,1293.0 2053.9,1258.6 2060.5,1293.0 2573.0,1293.0 2560.0,1293.0 2573.4,1293.0 2580.0,1277.0 2586.7,1240.2 2593.4,1222.9 2600.1,1222.9 2606.7,1205.2 2611.7,1205.2 2619.4,1223.5 2625.1,1205.2 2631.8,1205.2 2638.5,1213.5 2644.1,1241.9 2656.8,1205.2 2663.5,1293.0 2849.8,1293.0 2855.5,1257.9 2887.2,1257.9 2893.9,1223.5 2900.5,1216.9 2908.9,1206.8 2913.9,1206.2 2920.6,1189.5 2926.6,1187.5 2932.9,1222.9 2940.6,1222.9 2946.6,1224.5 2952.3,1240.2 2964.0,1240.2 2972.3,1238.6 2983.3,1238.6 2990.0,1205.2 2995.7,1200.2 3003.4,1187.5 3010.0,1223.5 3016.7,1206.8 3023.4,1196.8 3029.1,1150.1 3035.7,1135.1 3042.4,1129.4 3050.1,1153.4 3067.5,1205.2 3080.1,1205.2 3086.8,1240.2 3099.2,1240.2 3105.9,1205.2 3118.2,1205.2 3124.9,1189.5 3131.6,1205.2 3138.2,1205.2 3144.2,1246.9 3150.9,1257.9 3196.0,1257.9 3202.7,1222.9 3214.4,1222.9 3221.0,1217.9 3234.4,1217.9 3241.1,1240.2 3272.8,1240.2 3279.5,1251.9 3286.1,1257.9 3291.8,1257.9 3298.5,1240.2 3311.2,1240.2 3317.2,1257.9 3336.2,1257.9" fill="none" stroke="#3f7a2c" stroke-width="3"/><line x1="1805" y1="1249.3" x2="1855" y2="1249.3" stroke="#3f8fd0" stroke-width="3"/><text x="1793" y="1123.4" font-size="17" text-anchor="end" fill="#333" font-family="Liberation Sans, sans-serif">1.0</text><text x="1793" y="1212.2" font-size="17" text-anchor="end" fill="#333" font-family="Liberation Sans, sans-serif">0.5</text><text x="1793" y="1299.7" font-size="17" text-anchor="end" fill="#333" font-family="Liberation Sans, sans-serif">0.0</text><rect x="2627" y="1315" width="35" height="17" fill="#3f8fc8"/><text x="2671" y="1331" font-size="24" fill="#222" font-family="Liberation Sans, sans-serif" textLength="292" lengthAdjust="spacingAndGlyphs">Precip. Accum. Total (mm)</text><rect x="3000" y="1315" width="35" height="17" fill="#3b7526"/><text x="3044" y="1331" font-size="24" fill="#222" font-family="Liberation Sans, sans-serif" textLength="291" lengthAdjust="spacingAndGlyphs">Hourly Liquid Precip. (mm)</text><rect x="1805.0" y="1349.4" width="1531.0" height="176.89999999999986" fill="#fff"/><rect x="1805.0" y="1349.4" width="41.0" height="176.89999999999986" fill="#f4f4f4"/><rect x="1929.0" y="1349.4" width="71.0" height="176.89999999999986" fill="#f4f4f4"/><rect x="2083.0" y="1349.4" width="71.0" height="176.89999999999986" fill="#f4f4f4"/><rect x="2237.0" y="1349.4" width="71.0" height="176.89999999999986" fill="#f4f4f4"/><rect x="2391.0" y="1349.4" width="71.0" height="176.89999999999986" fill="#f4f4f4"/><rect x="2545.0" y="1349.4" width="71.0" height="176.89999999999986" fill="#f4f4f4"/><rect x="2699.0" y="1349.4" width="71.0" height="176.89999999999986" fill="#f4f4f4"/><rect x="2853.0" y="1349.4" width="71.0" height="176.89999999999986" fill="#f4f4f4"/><rect x="3007.0" y="1349.4" width="71.0" height="176.89999999999986" fill="#f4f4f4"/><rect x="3161.0" y="1349.4" width="71.0" height="176.89999999999986" fill="#f4f4f4"/><rect x="3315.0" y="1349.4" width="21.0" height="176.89999999999986" fill="#f4f4f4"/><line x1="1959.0" y1="1349.4" x2="1959.0" y2="1526.3" stroke="#e6e6e6" stroke-width="2"/><line x1="2113.0" y1="1349.4" x2="2113.0" y2="1526.3" stroke="#e6e6e6" stroke-width="2"/><line x1="2267.0" y1="1349.4" x2="2267.0" y2="1526.3" stroke="#e6e6e6" stroke-width="2"/><line x1="2421.0" y1="1349.4" x2="2421.0" y2="1526.3" stroke="#e6e6e6" stroke-width="2"/><line x1="2575.0" y1="1349.4" x2="2575.0" y2="1526.3" stroke="#e6e6e6" stroke-width="2"/><line x1="2729.0" y1="1349.4" x2="2729.0" y2="1526.3" stroke="#e6e6e6" stroke-width="2"/><line x1="2883.0" y1="1349.4" x2="2883.0" y2="1526.3" stroke="#e6e6e6" stroke-width="2"/><line x1="3037.0" y1="1349.4" x2="3037.0" y2="1526.3" stroke="#e6e6e6" stroke-width="2"/><line x1="3191.0" y1="1349.4" x2="3191.0" y2="1526.3" stroke="#e6e6e6" stroke-width="2"/><line x1="1805.0" y1="1349.4" x2="3336.0" y2="1349.4" stroke="#e4e4e4" stroke-width="2.5"/><line x1="1805.0" y1="1400.8" x2="3336.0" y2="1400.8" stroke="#e4e4e4" stroke-width="2.5"/><line x1="1805.0" y1="1463.6" x2="3336.0" y2="1463.6" stroke="#e4e4e4" stroke-width="2.5"/><line x1="1805.0" y1="1526.3" x2="3336.0" y2="1526.3" stroke="#e4e4e4" stroke-width="2.5"/><polyline points="1804.1,1450.2 1810.1,1403.5 1816.8,1350.0 1825.2,1380.1 1828.5,1406.8 1835.2,1411.8 1841.9,1411.8 1848.5,1450.2 1853.5,1426.8 1857.5,1423.5 1861.9,1448.5 1873.6,1473.6 1880.3,1500.3 1900.3,1500.3 1907.0,1488.6 1913.6,1475.2 1920.3,1475.2 1925.3,1463.6 1930.3,1446.9 1937.0,1426.8 1945.4,1425.2 1952.0,1436.8 1958.7,1425.2 1965.4,1436.8 1983.7,1436.8 1990.4,1441.9 1997.1,1475.2 2007.1,1488.6 2013.8,1488.6 2022.1,1475.2 2028.8,1453.5 2040.5,1413.5 2053.9,1388.4 2060.5,1400.1 2067.2,1400.1 2073.9,1425.2 2085.6,1436.8 2092.2,1436.8 2098.9,1413.5 2105.6,1413.5 2117.3,1390.1 2124.0,1361.7 2135.7,1361.7 2162.4,1361.7 2169.0,1373.4 2175.7,1373.4 2182.4,1361.7 2189.1,1373.4 2200.8,1373.4 2210.8,1385.1 2220.8,1396.8 2227.5,1425.2 2234.1,1436.8 2245.8,1475.2 2254.2,1475.2 2264.2,1488.6 2277.5,1488.6 2290.9,1510.3 2304.2,1526.3 2317.6,1526.3 2322.6,1513.6 2331.0,1486.9 2336.0,1436.8 2344.3,1403.5 2349.3,1385.1 2356.0,1375.1 2361.0,1375.1 2369.4,1385.1 2376.0,1390.1 2391.1,1455.2 2397.7,1463.6 2416.1,1500.3 2422.8,1500.3 2431.1,1488.6 2459.5,1488.6 2467.8,1476.9 2476.2,1463.6 2491.2,1363.4 2509.6,1350.0 2522.9,1361.7 2541.3,1436.8 2551.3,1450.2 2556.3,1450.2 2563.0,1462.9 2560.0,1462.9 2610.1,1462.9 2618.4,1451.9 2626.8,1445.2 2631.8,1425.2 2638.5,1413.5 2650.1,1363.4 2663.5,1350.0 2676.8,1350.0 2683.5,1373.4 2700.2,1411.8 2708.6,1425.2 2726.9,1425.2 2733.6,1436.8 2747.0,1436.8 2753.6,1450.2 2783.7,1450.2 2792.0,1436.8 2823.7,1436.8 2830.4,1450.2 2843.8,1462.9 2853.8,1475.2 2868.8,1450.2 2877.2,1450.2 2893.9,1413.5 2910.5,1413.5 2927.2,1401.8 2933.3,1400.1 2940.6,1413.5 2947.3,1413.5 2954.0,1401.8 2960.6,1401.8 2967.3,1413.5 2977.3,1413.5 2985.7,1425.2 2997.4,1436.8 3005.7,1450.2 3040.8,1450.2 3049.1,1436.8 3062.5,1436.8 3069.1,1425.2 3079.1,1413.5 3097.5,1413.5 3107.5,1401.8 3114.2,1401.8 3119.2,1413.5 3140.9,1413.5 3147.6,1425.2 3160.9,1436.8 3169.3,1425.2 3184.3,1425.2 3191.0,1413.5 3214.4,1413.5 3222.7,1401.8 3227.7,1411.8 3234.4,1411.8 3242.7,1401.8 3294.5,1401.8 3299.5,1411.8 3304.5,1411.8 3314.5,1425.2 3324.5,1436.8 3336.2,1436.8" fill="none" stroke="#2a59ad" stroke-width="1.6" stroke-linejoin="round"/><path transform="translate(1807.5,1449.5) rotate(0)" d="M9,0 L-9,-7 L-4,0 L-9,7 Z" fill="#2a59ad"/><path transform="translate(1828.5,1410.8) rotate(45)" d="M9,0 L-9,-7 L-4,0 L-9,7 Z" fill="#2a59ad"/><path transform="translate(1853.5,1424.2) rotate(60)" d="M9,0 L-9,-7 L-4,0 L-9,7 Z" fill="#2a59ad"/><path transform="translate(1880.3,1500.3) rotate(0)" d="M9,0 L-9,-7 L-4,0 L-9,7 Z" fill="#2a59ad"/><path transform="translate(1907.6,1488.6) rotate(-80)" d="M9,0 L-9,-7 L-4,0 L-9,7 Z" fill="#2a59ad"/><path transform="translate(1933.0,1438.5) rotate(-20)" d="M9,0 L-9,-7 L-4,0 L-9,7 Z" fill="#2a59ad"/><path transform="translate(1959.7,1426.2) rotate(-150)" d="M9,0 L-9,-7 L-4,0 L-9,7 Z" fill="#2a59ad"/><path transform="translate(1985.4,1438.5) rotate(40)" d="M9,0 L-9,-7 L-4,0 L-9,7 Z" fill="#2a59ad"/><path transform="translate(2007.1,1488.6) rotate(-80)" d="M9,0 L-9,-7 L-4,0 L-9,7 Z" fill="#2a59ad"/><path transform="translate(2033.8,1437.5) rotate(0)" d="M9,0 L-9,-7 L-4,0 L-9,7 Z" fill="#2a59ad"/><path transform="translate(2060.5,1399.5) rotate(20)" d="M9,0 L-9,-7 L-4,0 L-9,7 Z" fill="#2a59ad"/><path transform="translate(2085.6,1436.8) rotate(80)" d="M9,0 L-9,-7 L-4,0 L-9,7 Z" fill="#2a59ad"/><path transform="translate(2112.3,1399.5) rotate(-80)" d="M9,0 L-9,-7 L-4,0 L-9,7 Z" fill="#2a59ad"/><path transform="translate(2135.7,1361.7) rotate(90)" d="M9,0 L-9,-7 L-4,0 L-9,7 Z" fill="#2a59ad"/><path transform="translate(2162.4,1361.7) rotate(90)" d="M9,0 L-9,-7 L-4,0 L-9,7 Z" fill="#2a59ad"/><path transform="translate(2187.4,1373.4) rotate(70)" d="M9,0 L-9,-7 L-4,0 L-9,7 Z" fill="#2a59ad"/><path transform="translate(2214.1,1385.1) rotate(60)" d="M9,0 L-9,-7 L-4,0 L-9,7 Z" fill="#2a59ad"/><path transform="translate(2239.1,1463.6) rotate(60)" d="M9,0 L-9,-7 L-4,0 L-9,7 Z" fill="#2a59ad"/><path transform="translate(2264.2,1488.6) rotate(90)" d="M9,0 L-9,-7 L-4,0 L-9,7 Z" fill="#2a59ad"/><path transform="translate(2292.6,1512.0) rotate(-40)" d="M9,0 L-9,-7 L-4,0 L-9,7 Z" fill="#2a59ad"/><path transform="translate(2317.6,1526.3) rotate(-120)" d="M9,0 L-9,-7 L-4,0 L-9,7 Z" fill="#2a59ad"/><path transform="translate(2341.0,1413.5) rotate(0)" d="M9,0 L-9,-7 L-4,0 L-9,7 Z" fill="#2a59ad"/><path transform="translate(2367.7,1386.8) rotate(0)" d="M9,0 L-9,-7 L-4,0 L-9,7 Z" fill="#2a59ad"/><path transform="translate(2392.7,1463.6) rotate(10)" d="M9,0 L-9,-7 L-4,0 L-9,7 Z" fill="#2a59ad"/><path transform="translate(2417.8,1502.0) rotate(-30)" d="M9,0 L-9,-7 L-4,0 L-9,7 Z" fill="#2a59ad"/><path transform="translate(2442.8,1488.6) rotate(-80)" d="M9,0 L-9,-7 L-4,0 L-9,7 Z" fill="#2a59ad"/><path transform="translate(2469.5,1476.9) rotate(-40)" d="M9,0 L-9,-7 L-4,0 L-9,7 Z" fill="#2a59ad"/><path transform="translate(2494.5,1363.4) rotate(-20)" d="M9,0 L-9,-7 L-4,0 L-9,7 Z" fill="#2a59ad"/><path transform="translate(2521.3,1362.7) rotate(-20)" d="M9,0 L-9,-7 L-4,0 L-9,7 Z" fill="#2a59ad"/><path transform="translate(2546.3,1450.2) rotate(-80)" d="M9,0 L-9,-7 L-4,0 L-9,7 Z" fill="#2a59ad"/><path transform="translate(2571.3,1463.6) rotate(-80)" d="M9,0 L-9,-7 L-4,0 L-9,7 Z" fill="#2a59ad"/><path transform="translate(2571.7,1463.6) rotate(-80)" d="M9,0 L-9,-7 L-4,0 L-9,7 Z" fill="#2a59ad"/><path transform="translate(2598.4,1463.6) rotate(-80)" d="M9,0 L-9,-7 L-4,0 L-9,7 Z" fill="#2a59ad"/><path transform="translate(2621.8,1451.9) rotate(-60)" d="M9,0 L-9,-7 L-4,0 L-9,7 Z" fill="#2a59ad"/><path transform="translate(2648.5,1363.4) rotate(-20)" d="M9,0 L-9,-7 L-4,0 L-9,7 Z" fill="#2a59ad"/><path transform="translate(2675.2,1350.0) rotate(0)" d="M9,0 L-9,-7 L-4,0 L-9,7 Z" fill="#2a59ad"/><path transform="translate(2701.9,1411.8) rotate(40)" d="M9,0 L-9,-7 L-4,0 L-9,7 Z" fill="#2a59ad"/><path transform="translate(2726.9,1425.2) rotate(50)" d="M9,0 L-9,-7 L-4,0 L-9,7 Z" fill="#2a59ad"/><path transform="translate(2752.0,1450.2) rotate(80)" d="M9,0 L-9,-7 L-4,0 L-9,7 Z" fill="#2a59ad"/><path transform="translate(2778.7,1450.2) rotate(90)" d="M9,0 L-9,-7 L-4,0 L-9,7 Z" fill="#2a59ad"/><path transform="translate(2805.4,1436.8) rotate(90)" d="M9,0 L-9,-7 L-4,0 L-9,7 Z" fill="#2a59ad"/><path transform="translate(2832.1,1450.2) rotate(60)" d="M9,0 L-9,-7 L-4,0 L-9,7 Z" fill="#2a59ad"/><path transform="translate(2857.1,1475.2) rotate(-30)" d="M9,0 L-9,-7 L-4,0 L-9,7 Z" fill="#2a59ad"/><path transform="translate(2882.2,1436.8) rotate(-150)" d="M9,0 L-9,-7 L-4,0 L-9,7 Z" fill="#2a59ad"/><path transform="translate(2908.9,1411.8) rotate(180)" d="M9,0 L-9,-7 L-4,0 L-9,7 Z" fill="#2a59ad"/><path transform="translate(2933.9,1400.1) rotate(180)" d="M9,0 L-9,-7 L-4,0 L-9,7 Z" fill="#2a59ad"/><path transform="translate(2959.0,1400.1) rotate(180)" d="M9,0 L-9,-7 L-4,0 L-9,7 Z" fill="#2a59ad"/><path transform="translate(2984.0,1425.2) rotate(160)" d="M9,0 L-9,-7 L-4,0 L-9,7 Z" fill="#2a59ad"/><path transform="translate(3010.7,1450.2) rotate(180)" d="M9,0 L-9,-7 L-4,0 L-9,7 Z" fill="#2a59ad"/><path transform="translate(3035.7,1450.2) rotate(180)" d="M9,0 L-9,-7 L-4,0 L-9,7 Z" fill="#2a59ad"/><path transform="translate(3062.5,1436.8) rotate(-160)" d="M9,0 L-9,-7 L-4,0 L-9,7 Z" fill="#2a59ad"/><path transform="translate(3087.5,1411.8) rotate(-160)" d="M9,0 L-9,-7 L-4,0 L-9,7 Z" fill="#2a59ad"/><path transform="translate(3114.2,1400.1) rotate(-140)" d="M9,0 L-9,-7 L-4,0 L-9,7 Z" fill="#2a59ad"/><path transform="translate(3139.2,1411.8) rotate(-140)" d="M9,0 L-9,-7 L-4,0 L-9,7 Z" fill="#2a59ad"/><path transform="translate(3165.9,1436.8) rotate(110)" d="M9,0 L-9,-7 L-4,0 L-9,7 Z" fill="#2a59ad"/><path transform="translate(3191.0,1411.8) rotate(-160)" d="M9,0 L-9,-7 L-4,0 L-9,7 Z" fill="#2a59ad"/><path transform="translate(3216.0,1411.8) rotate(-160)" d="M9,0 L-9,-7 L-4,0 L-9,7 Z" fill="#2a59ad"/><path transform="translate(3242.7,1400.1) rotate(180)" d="M9,0 L-9,-7 L-4,0 L-9,7 Z" fill="#2a59ad"/><path transform="translate(3267.8,1400.1) rotate(180)" d="M9,0 L-9,-7 L-4,0 L-9,7 Z" fill="#2a59ad"/><path transform="translate(3294.5,1400.1) rotate(180)" d="M9,0 L-9,-7 L-4,0 L-9,7 Z" fill="#2a59ad"/><path transform="translate(3319.5,1425.2) rotate(170)" d="M9,0 L-9,-7 L-4,0 L-9,7 Z" fill="#2a59ad"/><text x="1793" y="1406.8" font-size="17" text-anchor="end" fill="#333" font-family="Liberation Sans, sans-serif">10</text><text x="1793" y="1469.6" font-size="17" text-anchor="end" fill="#333" font-family="Liberation Sans, sans-serif">5</text><text x="1793" y="1532.3" font-size="17" text-anchor="end" fill="#333" font-family="Liberation Sans, sans-serif">0</text><rect x="3162" y="1547" width="35" height="17" fill="#2a59ad"/><text x="3206" y="1563" font-size="24" fill="#222" font-family="Liberation Sans, sans-serif">Wind Speed</text><line x1="1859.5" y1="637" x2="1859.5" y2="1573" stroke="#222" stroke-width="1.3"/><path d="M1872,1553.5 H1888 M1883,1548.5 L1889,1553.5 L1883,1558.5" stroke="#222" stroke-width="2.4" fill="none"/></svg>
</body></html>
